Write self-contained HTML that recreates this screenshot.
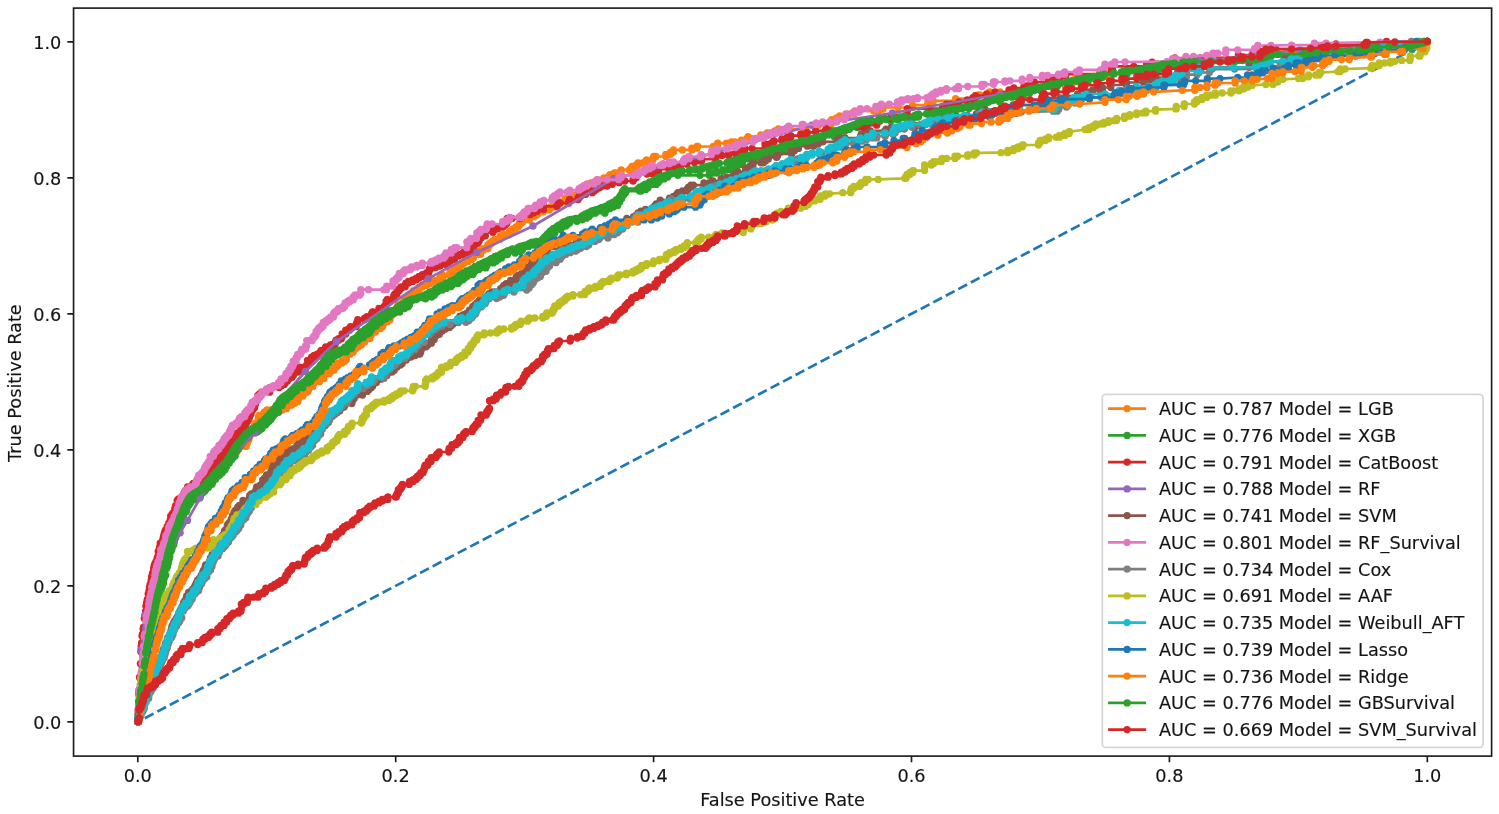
<!DOCTYPE html>
<html lang="en"><head><meta charset="utf-8"><title>ROC curves</title>
<style>html,body{margin:0;padding:0;background:#fff}text{fill:#141414;stroke:#141414;stroke-width:0.15px}svg{display:block;filter:blur(0.55px)}</style></head>
<body>
<svg width="1499" height="814" viewBox="0 0 1499 814" font-family="'DejaVu Sans', 'Liberation Sans', sans-serif" font-size="17.72" fill="#000">
<rect width="1499" height="814" fill="#fff"/>
<defs><clipPath id="ax"><rect x="73.5" y="8.1" width="1418.0" height="748.0"/></clipPath></defs>
<g clip-path="url(#ax)">
<path d="M137.8 721.9L1427.3 41.8" stroke="#1f77b4" stroke-width="2.67" stroke-dasharray="9.88 4.27" stroke-dashoffset="6.25" fill="none"/>
<g><path d="M137.8 721.7L137.8 713.4L138.2 713.4L138.2 711.7L138.6 711.7L138.6 706.7L139 706.7L139 700L139 696.7L139.4 696.7L139.4 695.1L139.8 695.1L139.8 690.1L140.2 690.1L140.2 686.9L140.7 686.9L140.7 685.2L141.1 685.2L141.1 681.9L141.5 681.9L141.5 677L141.5 675.3L142.2 675.3L142.2 666.7L143 666.7L143 661.6L143.4 661.6L143.4 659.9L143.8 659.9L143.8 653L144.5 653L144.5 648L146.1 648L146.1 643L147 643L147 638L147.4 638L147.4 636.3L147.8 636.3L147.8 631.3L148.6 631.3L148.6 628L149 628L149.8 628L149.8 621.1L150.7 621.1L150.7 616L151.9 616L151.9 612.6L153.2 612.6L153.2 609.1L153.6 609.1L153.6 607.4L154 607.4L154 604L154.4 604L154.4 600.6L155.2 600.6L155.2 598.9L155.6 598.9L155.6 593.7L156.4 593.7L156.4 590.3L158 590.3L158 586.9L158.4 586.9L158.4 585.1L158.8 585.1L158.8 583.4L159.6 583.4L159.6 581.7L160 581.7L160 580L160 576.6L160.8 576.6L160.8 573.1L161.6 573.1L161.6 569.7L162.4 569.7L162.4 568L163.2 568L163.2 566.3L163.6 566.3L163.6 564.6L164 564.6L164 562.9L164.8 562.9L164.8 557.7L166 557.7L166 556L166 554.2L166.4 554.2L166.4 552.5L167.2 552.5L167.2 550.8L168 550.8L168 547.2L168.4 547.2L168.4 545.5L169.2 545.5L169.2 543.8L170.1 543.8L170.1 542L170.5 542L170.5 540.2L170.9 540.2L170.9 538.5L171.3 538.5L171.3 536.8L172.5 536.8L172.5 535L173.3 535L173.3 531.5L173.7 531.5L173.7 529.8L174.5 529.8L174.5 528L175.3 528L175.3 526.2L175.7 526.2L175.7 524.5L176.1 524.5L176.1 522.8L176.8 522.8L176.8 521L177.2 521L177.2 519.2L178.4 519.2L178.4 515.8L180 515.8L180 514L180 512.2L181.2 512.2L181.2 510.4L182.4 510.4L182.4 508.7L183.2 508.7L183.2 506.9L186 506.9L186 503.3L186.8 503.3L186.8 498L188 498L188 496.3L188.8 496.3L188.8 494.7L193.6 494.7L193.6 493L195.2 493L195.2 491.3L197.6 491.3L197.6 489.7L198 489.7L198 488L200 488L201.6 488L201.6 486.3L202.8 486.3L202.8 484.6L204 484.6L204 482.9L206.8 482.9L206.8 481.1L209.6 481.1L209.6 479.4L210 479.4L210 477.7L210.8 477.7L210.8 476L212 476L212 472.8L217.1 472.8L217.1 469.5L217.5 469.5L217.5 467.9L219.1 467.9L219.1 466.2L221 466.2L221 464.6L221.8 464.6L221.8 463L223 463L223.8 463L223.8 459.3L227.3 459.3L227.3 457.5L228.1 457.5L228.1 455.7L230.5 455.7L230.5 453.8L233.2 453.8L233.2 452L234 452L236.7 452L236.7 450.1L237.9 450.1L237.9 448.2L238.3 448.2L238.3 446.3L245 446.3L246.2 446.3L246.2 443L247.3 443L247.3 439.8L248.9 439.8L248.9 436.5L249.7 436.5L249.7 434.9L250.4 434.9L250.4 433.3L250.8 433.3L250.8 431.6L251.2 431.6L251.2 430L252 430L252 428.4L254 428.4L254 426.8L254.8 426.8L254.8 423.5L258.1 423.5L258.1 420.3L258.5 420.3L258.5 417L258.9 417L258.9 415.4L260.5 415.4L263.3 415.4L263.3 413.6L264.5 413.6L264.5 411.8L267 411.8L267 410L271 410L282 410L282 408.7L284.8 408.7L286.4 408.7L286.4 406.9L286.8 406.9L286.8 405.1L291.6 405.1L291.6 403.3L294.7 403.3L294.7 401.4L297.9 401.4L297.9 399.6L298.3 399.6L298.3 397.8L299.1 397.8L299.1 396L300.3 396L302.7 396L302.7 394.4L303.5 394.4L303.5 392.8L305.9 392.8L305.9 391.2L308 391.2L308 389.6L308.8 389.6L308.8 388L309.2 388L309.2 386.4L312.8 386.4L312.8 384.8L313.2 384.8L313.2 383.2L314 383.2L314 381.6L319.5 381.6L319.5 380L319.9 380L319.9 378.5L323.8 378.5L323.8 373.7L324.2 373.7L329 373.7L329 371.9L330.2 371.9L330.2 370.2L333.9 370.2L333.9 368.4L334.7 368.4L334.7 366.7L336.7 366.7L336.7 364.9L337.5 364.9L338.3 364.9L338.3 363.1L341.9 363.1L341.9 361.3L344.7 361.3L344.7 359.6L346.3 359.6L346.3 356L346.7 356L346.7 354.2L349.9 354.2L349.9 352.3L353.1 352.3L353.1 350.5L353.6 350.5L353.6 348.7L355.6 348.7L355.6 346.8L358.4 346.8L358.4 345L360 345L361.2 345L361.2 343.4L362 343.4L362 341.8L364.7 341.8L364.7 340.1L365.1 340.1L365.1 338.5L369.9 338.5L369.9 335.2L371.1 335.2L371.1 333.6L371.8 333.6L371.8 332L375 332L375.4 332L375.4 330.2L375.8 330.2L375.8 328.5L380.5 328.5L380.5 326.8L382.5 326.8L382.5 325L382.9 325L382.9 323.2L384.1 323.2L384.1 321.5L387.6 321.5L387.6 319.8L390 319.8L390 318L390.4 318L390.4 314.8L392.4 314.8L392.4 313.1L394.8 313.1L394.8 311.5L396.4 311.5L396.4 309.9L397.2 309.9L397.2 306.6L398.4 306.6L398.4 305L400 305L402 305L402 303.2L403.6 303.2L403.6 301.4L404.4 301.4L404.4 299.6L407.1 299.6L407.1 297.7L410.3 297.7L410.3 294.1L412.7 294.1L413.1 294.1L413.1 292.3L413.5 292.3L413.5 290.6L419.1 290.6L419.1 287.1L422 287.1L422 285.3L426 285.3L427.2 285.3L427.2 283.6L430 283.6L430 282L434 282L434 280.4L439.2 280.4L439.2 278.7L440.8 278.7L440.8 277L443.2 277L443.2 275.3L449.7 275.3L449.7 273.7L450.1 273.7L450.1 272L452.5 272L452.9 272L452.9 270.2L453.3 270.2L453.3 268.5L458.8 268.5L458.8 266.7L460 266.7L460 265L461.9 265L461.9 263.2L463.5 263.2L463.9 263.2L463.9 261.4L468.3 261.4L468.3 259.6L471.8 259.6L471.8 257.9L473.4 257.9L473.4 254.3L479 254.3L480.6 254.3L480.6 250.5L483.3 250.5L483.3 248.7L487.7 248.7L487.7 245L489.7 245L489.7 243.1L492.1 243.1L492.1 241.3L494.5 241.3L494.5 239.4L496.5 239.4L499.7 239.4L499.7 237.6L500.1 237.6L500.1 235.9L502.9 235.9L502.9 234.1L509 234.1L509 232.4L509.8 232.4L509.8 230.6L513 230.6L513 228.8L515.8 228.8L515.8 227L518.2 227L518.2 225.3L519.4 225.3L519.4 223.5L521 223.5L521 221.7L523 221.7L523 220L529.4 220L529.4 216.7L533.9 216.7L533.9 215L536.3 215L536.7 215L536.7 213.4L538.3 213.4L538.3 211.8L543.2 211.8L543.2 210.1L549.2 210.1L549.2 208.5L549.6 208.5L550.4 208.5L550.4 206.8L555.2 206.8L555.2 205.1L558.1 205.1L558.1 203.5L560.1 203.5L560.1 201.8L562.9 201.8L564.9 201.8L564.9 200.2L565.3 200.2L565.3 198.5L571.2 198.5L571.2 196.8L574 196.8L574 195.2L576 195.2L577.6 195.2L577.6 193.4L580.1 193.4L580.1 191.6L585.3 191.6L585.3 189.9L586.2 189.9L586.2 188.1L587.8 188.1L587.8 186.3L589.4 186.3L591 186.3L591 183L596.7 183L596.7 181.3L597.1 181.3L597.1 179.7L602.7 179.7L603.9 179.7L603.9 178L608.7 178L608.7 176.3L610 176.3L610 174.7L614.4 174.7L614.4 173L616 173L620.8 173L620.8 171.4L621.2 171.4L621.2 169.8L629.2 169.8L630.8 169.8L630.8 168.1L632 168.1L632 166.4L636.5 166.4L636.5 164.7L638.1 164.7L638.1 163L642.5 163L646.5 163L646.5 159.8L653 159.8L653 158.1L653.8 158.1L653.8 156.5L655.8 156.5L665.8 156.5L665.8 154.3L669 154.3L670.6 154.3L670.6 152.1L673.4 152.1L673.4 149.9L682.3 149.9L691.8 149.9L691.8 148.2L697 148.2L697 146.5L697.8 146.5L713.3 146.5L716.9 146.5L716.9 144.8L717.7 144.8L717.7 143.2L726.5 143.2L731.4 143.2L731.4 142L735 142L741.4 142L741.4 140.2L746.9 140.2L746.9 138.5L747.7 138.5L748.1 138.5L748.1 136.7L760.8 136.7L760.8 134.8L767.2 134.8L767.2 133L770 133L774.8 133L774.8 131L778.4 131L778.4 129L790 129L805.3 129L805.3 127.1L815.7 127.1L815.7 125.2L818.5 125.2L828.8 125.2L828.8 123.4L831.6 123.4L831.6 119.7L834 119.7L836.4 119.7L836.4 117.9L839.7 117.9L839.7 116L847.8 116L847.8 114.2L849.4 114.2L854.2 114.2L854.2 112.6L855 112.6L855 110.9L873.7 110.9L878.5 110.9L878.5 109.2L882.9 109.2L882.9 107.5L898 107.5L912.7 107.5L912.7 105.2L927.8 105.2L927.8 103L929 103L933 103L933 100.8L955.6 100.8L955.6 98.7L975.2 98.7L975.2 96.8L978.4 96.8L978.4 95L980 95L989.6 95L989.6 92L1000 92L1012 92L1012 89.7L1023.6 89.7L1023.6 87.4L1035.6 87.4L1035.6 85.1L1064.8 85.1L1064.8 82.9L1072.8 82.9L1072.8 80.6L1075.6 80.6L1075.6 78.3L1098 78.3L1098 76L1100 76L1106.8 76L1106.8 73.8L1126 73.8L1126 71.7L1151.6 71.7L1151.6 69.5L1159.2 69.5L1159.2 67.3L1196.4 67.3L1196.4 65.2L1197.2 65.2L1197.2 63L1200 63L1202.8 63L1202.8 60.2L1206.8 60.2L1206.8 57.5L1251.6 57.5L1251.6 54.8L1290.4 54.8L1290.4 52L1300 52L1342.8 52L1342.8 49.4L1355.6 49.4L1355.6 46.8L1404.1 46.8L1404.1 44.1L1411.7 44.1L1411.7 41.5L1427.3 41.5" fill="none" stroke="#ff7f0e" stroke-width="2.67" stroke-linejoin="round" stroke-linecap="square"/>
<path d="M137.8 721.7h0M137.8 713.4h0M138.2 713.4h0M138.2 711.7h0M138.6 711.7h0M138.6 706.7h0M139 706.7h0M139 700h0M139 696.7h0M139.4 696.7h0M139.4 695.1h0M139.8 695.1h0M139.8 690.1h0M140.2 690.1h0M140.2 686.9h0M140.7 686.9h0M140.7 685.2h0M141.1 685.2h0M141.1 681.9h0M141.5 681.9h0M141.5 677h0M141.5 675.3h0M142.2 675.3h0M142.2 666.7h0M143 666.7h0M143 661.6h0M143.4 661.6h0M143.4 659.9h0M143.8 659.9h0M143.8 653h0M144.5 653h0M144.5 648h0M146.1 648h0M146.1 643h0M147 643h0M147 638h0M147.4 638h0M147.4 636.3h0M147.8 636.3h0M147.8 631.3h0M148.6 631.3h0M148.6 628h0M149 628h0M149.8 628h0M149.8 621.1h0M150.7 621.1h0M150.7 616h0M151.9 616h0M151.9 612.6h0M153.2 612.6h0M153.2 609.1h0M153.6 609.1h0M153.6 607.4h0M154 607.4h0M154 604h0M154.4 604h0M154.4 600.6h0M155.2 600.6h0M155.2 598.9h0M155.6 598.9h0M155.6 593.7h0M156.4 593.7h0M156.4 590.3h0M158 590.3h0M158 586.9h0M158.4 586.9h0M158.4 585.1h0M158.8 585.1h0M158.8 583.4h0M159.6 583.4h0M159.6 581.7h0M160 581.7h0M160 580h0M160 576.6h0M160.8 576.6h0M160.8 573.1h0M161.6 573.1h0M161.6 569.7h0M162.4 569.7h0M162.4 568h0M163.2 568h0M163.2 566.3h0M163.6 566.3h0M163.6 564.6h0M164 564.6h0M164 562.9h0M164.8 562.9h0M164.8 557.7h0M166 557.7h0M166 556h0M166 554.2h0M166.4 554.2h0M166.4 552.5h0M167.2 552.5h0M167.2 550.8h0M168 550.8h0M168 547.2h0M168.4 547.2h0M168.4 545.5h0M169.2 545.5h0M169.2 543.8h0M170.1 543.8h0M170.1 542h0M170.5 542h0M170.5 540.2h0M170.9 540.2h0M170.9 538.5h0M171.3 538.5h0M171.3 536.8h0M172.5 536.8h0M172.5 535h0M173.3 535h0M173.3 531.5h0M173.7 531.5h0M173.7 529.8h0M174.5 529.8h0M174.5 528h0M175.3 528h0M175.3 526.2h0M175.7 526.2h0M175.7 524.5h0M176.1 524.5h0M176.1 522.8h0M176.8 522.8h0M176.8 521h0M177.2 521h0M177.2 519.2h0M178.4 519.2h0M178.4 515.8h0M180 515.8h0M180 514h0M180 512.2h0M181.2 512.2h0M181.2 510.4h0M182.4 510.4h0M182.4 508.7h0M183.2 508.7h0M183.2 506.9h0M186 506.9h0M186 503.3h0M186.8 503.3h0M186.8 498h0M188 498h0M188 496.3h0M188.8 496.3h0M188.8 494.7h0M193.6 494.7h0M193.6 493h0M195.2 493h0M195.2 491.3h0M197.6 491.3h0M197.6 489.7h0M198 489.7h0M198 488h0M200 488h0M201.6 488h0M201.6 486.3h0M202.8 486.3h0M202.8 484.6h0M204 484.6h0M204 482.9h0M206.8 482.9h0M206.8 481.1h0M209.6 481.1h0M209.6 479.4h0M210 479.4h0M210 477.7h0M210.8 477.7h0M210.8 476h0M212 476h0M212 472.8h0M217.1 472.8h0M217.1 469.5h0M217.5 469.5h0M217.5 467.9h0M219.1 467.9h0M219.1 466.2h0M221 466.2h0M221 464.6h0M221.8 464.6h0M221.8 463h0M223 463h0M223.8 463h0M223.8 459.3h0M227.3 459.3h0M227.3 457.5h0M228.1 457.5h0M228.1 455.7h0M230.5 455.7h0M230.5 453.8h0M233.2 453.8h0M233.2 452h0M234 452h0M236.7 452h0M236.7 450.1h0M237.9 450.1h0M237.9 448.2h0M238.3 448.2h0M238.3 446.3h0M245 446.3h0M246.2 446.3h0M246.2 443h0M247.3 443h0M247.3 439.8h0M248.9 439.8h0M248.9 436.5h0M249.7 436.5h0M249.7 434.9h0M250.4 434.9h0M250.4 433.3h0M250.8 433.3h0M250.8 431.6h0M251.2 431.6h0M251.2 430h0M252 430h0M252 428.4h0M254 428.4h0M254 426.8h0M254.8 426.8h0M254.8 423.5h0M258.1 423.5h0M258.1 420.3h0M258.5 420.3h0M258.5 417h0M258.9 417h0M258.9 415.4h0M260.5 415.4h0M263.3 415.4h0M263.3 413.6h0M264.5 413.6h0M264.5 411.8h0M267 411.8h0M267 410h0M271 410h0M282 410h0M282 408.7h0M284.8 408.7h0M286.4 408.7h0M286.4 406.9h0M286.8 406.9h0M286.8 405.1h0M291.6 405.1h0M291.6 403.3h0M294.7 403.3h0M294.7 401.4h0M297.9 401.4h0M297.9 399.6h0M298.3 399.6h0M298.3 397.8h0M299.1 397.8h0M299.1 396h0M300.3 396h0M302.7 396h0M302.7 394.4h0M303.5 394.4h0M303.5 392.8h0M305.9 392.8h0M305.9 391.2h0M308 391.2h0M308 389.6h0M308.8 389.6h0M308.8 388h0M309.2 388h0M309.2 386.4h0M312.8 386.4h0M312.8 384.8h0M313.2 384.8h0M313.2 383.2h0M314 383.2h0M314 381.6h0M319.5 381.6h0M319.5 380h0M319.9 380h0M319.9 378.5h0M323.8 378.5h0M323.8 373.7h0M324.2 373.7h0M329 373.7h0M329 371.9h0M330.2 371.9h0M330.2 370.2h0M333.9 370.2h0M333.9 368.4h0M334.7 368.4h0M334.7 366.7h0M336.7 366.7h0M336.7 364.9h0M337.5 364.9h0M338.3 364.9h0M338.3 363.1h0M341.9 363.1h0M341.9 361.3h0M344.7 361.3h0M344.7 359.6h0M346.3 359.6h0M346.3 356h0M346.7 356h0M346.7 354.2h0M349.9 354.2h0M349.9 352.3h0M353.1 352.3h0M353.1 350.5h0M353.6 350.5h0M353.6 348.7h0M355.6 348.7h0M355.6 346.8h0M358.4 346.8h0M358.4 345h0M360 345h0M361.2 345h0M361.2 343.4h0M362 343.4h0M362 341.8h0M364.7 341.8h0M364.7 340.1h0M365.1 340.1h0M365.1 338.5h0M369.9 338.5h0M369.9 335.2h0M371.1 335.2h0M371.1 333.6h0M371.8 333.6h0M371.8 332h0M375 332h0M375.4 332h0M375.4 330.2h0M375.8 330.2h0M375.8 328.5h0M380.5 328.5h0M380.5 326.8h0M382.5 326.8h0M382.5 325h0M382.9 325h0M382.9 323.2h0M384.1 323.2h0M384.1 321.5h0M387.6 321.5h0M387.6 319.8h0M390 319.8h0M390 318h0M390.4 318h0M390.4 314.8h0M392.4 314.8h0M392.4 313.1h0M394.8 313.1h0M394.8 311.5h0M396.4 311.5h0M396.4 309.9h0M397.2 309.9h0M397.2 306.6h0M398.4 306.6h0M398.4 305h0M400 305h0M402 305h0M402 303.2h0M403.6 303.2h0M403.6 301.4h0M404.4 301.4h0M404.4 299.6h0M407.1 299.6h0M407.1 297.7h0M410.3 297.7h0M410.3 294.1h0M412.7 294.1h0M413.1 294.1h0M413.1 292.3h0M413.5 292.3h0M413.5 290.6h0M419.1 290.6h0M419.1 287.1h0M422 287.1h0M422 285.3h0M426 285.3h0M427.2 285.3h0M427.2 283.6h0M430 283.6h0M430 282h0M434 282h0M434 280.4h0M439.2 280.4h0M439.2 278.7h0M440.8 278.7h0M440.8 277h0M443.2 277h0M443.2 275.3h0M449.7 275.3h0M449.7 273.7h0M450.1 273.7h0M450.1 272h0M452.5 272h0M452.9 272h0M452.9 270.2h0M453.3 270.2h0M453.3 268.5h0M458.8 268.5h0M458.8 266.7h0M460 266.7h0M460 265h0M461.9 265h0M461.9 263.2h0M463.5 263.2h0M463.9 263.2h0M463.9 261.4h0M468.3 261.4h0M468.3 259.6h0M471.8 259.6h0M471.8 257.9h0M473.4 257.9h0M473.4 254.3h0M479 254.3h0M480.6 254.3h0M480.6 250.5h0M483.3 250.5h0M483.3 248.7h0M487.7 248.7h0M487.7 245h0M489.7 245h0M489.7 243.1h0M492.1 243.1h0M492.1 241.3h0M494.5 241.3h0M494.5 239.4h0M496.5 239.4h0M499.7 239.4h0M499.7 237.6h0M500.1 237.6h0M500.1 235.9h0M502.9 235.9h0M502.9 234.1h0M509 234.1h0M509 232.4h0M509.8 232.4h0M509.8 230.6h0M513 230.6h0M513 228.8h0M515.8 228.8h0M515.8 227h0M518.2 227h0M518.2 225.3h0M519.4 225.3h0M519.4 223.5h0M521 223.5h0M521 221.7h0M523 221.7h0M523 220h0M529.4 220h0M529.4 216.7h0M533.9 216.7h0M533.9 215h0M536.3 215h0M536.7 215h0M536.7 213.4h0M538.3 213.4h0M538.3 211.8h0M543.2 211.8h0M543.2 210.1h0M549.2 210.1h0M549.2 208.5h0M549.6 208.5h0M550.4 208.5h0M550.4 206.8h0M555.2 206.8h0M555.2 205.1h0M558.1 205.1h0M558.1 203.5h0M560.1 203.5h0M560.1 201.8h0M562.9 201.8h0M564.9 201.8h0M564.9 200.2h0M565.3 200.2h0M565.3 198.5h0M571.2 198.5h0M571.2 196.8h0M574 196.8h0M574 195.2h0M576 195.2h0M577.6 195.2h0M577.6 193.4h0M580.1 193.4h0M580.1 191.6h0M585.3 191.6h0M585.3 189.9h0M586.2 189.9h0M586.2 188.1h0M587.8 188.1h0M587.8 186.3h0M589.4 186.3h0M591 186.3h0M591 183h0M596.7 183h0M596.7 181.3h0M597.1 181.3h0M597.1 179.7h0M602.7 179.7h0M603.9 179.7h0M603.9 178h0M608.7 178h0M608.7 176.3h0M610 176.3h0M610 174.7h0M614.4 174.7h0M614.4 173h0M616 173h0M620.8 173h0M620.8 171.4h0M621.2 171.4h0M621.2 169.8h0M629.2 169.8h0M630.8 169.8h0M630.8 168.1h0M632 168.1h0M632 166.4h0M636.5 166.4h0M636.5 164.7h0M638.1 164.7h0M638.1 163h0M642.5 163h0M646.5 163h0M646.5 159.8h0M653 159.8h0M653 158.1h0M653.8 158.1h0M653.8 156.5h0M655.8 156.5h0M665.8 156.5h0M665.8 154.3h0M669 154.3h0M670.6 154.3h0M670.6 152.1h0M673.4 152.1h0M673.4 149.9h0M682.3 149.9h0M691.8 149.9h0M691.8 148.2h0M697 148.2h0M697 146.5h0M697.8 146.5h0M713.3 146.5h0M716.9 146.5h0M716.9 144.8h0M717.7 144.8h0M717.7 143.2h0M726.5 143.2h0M731.4 143.2h0M731.4 142h0M735 142h0M741.4 142h0M741.4 140.2h0M746.9 140.2h0M746.9 138.5h0M747.7 138.5h0M748.1 138.5h0M748.1 136.7h0M760.8 136.7h0M760.8 134.8h0M767.2 134.8h0M767.2 133h0M770 133h0M774.8 133h0M774.8 131h0M778.4 131h0M778.4 129h0M790 129h0M805.3 129h0M805.3 127.1h0M815.7 127.1h0M815.7 125.2h0M818.5 125.2h0M828.8 125.2h0M828.8 123.4h0M831.6 123.4h0M831.6 119.7h0M834 119.7h0M836.4 119.7h0M836.4 117.9h0M839.7 117.9h0M839.7 116h0M847.8 116h0M847.8 114.2h0M849.4 114.2h0M854.2 114.2h0M854.2 112.6h0M855 112.6h0M855 110.9h0M873.7 110.9h0M878.5 110.9h0M878.5 109.2h0M882.9 109.2h0M882.9 107.5h0M898 107.5h0M912.7 107.5h0M912.7 105.2h0M927.8 105.2h0M927.8 103h0M929 103h0M933 103h0M933 100.8h0M955.6 100.8h0M955.6 98.7h0M975.2 98.7h0M975.2 96.8h0M978.4 96.8h0M978.4 95h0M980 95h0M989.6 95h0M989.6 92h0M1000 92h0M1012 92h0M1012 89.7h0M1023.6 89.7h0M1023.6 87.4h0M1035.6 87.4h0M1035.6 85.1h0M1064.8 85.1h0M1064.8 82.9h0M1072.8 82.9h0M1072.8 80.6h0M1075.6 80.6h0M1075.6 78.3h0M1098 78.3h0M1098 76h0M1100 76h0M1106.8 76h0M1106.8 73.8h0M1126 73.8h0M1126 71.7h0M1151.6 71.7h0M1151.6 69.5h0M1159.2 69.5h0M1159.2 67.3h0M1196.4 67.3h0M1196.4 65.2h0M1197.2 65.2h0M1197.2 63h0M1200 63h0M1202.8 63h0M1202.8 60.2h0M1206.8 60.2h0M1206.8 57.5h0M1251.6 57.5h0M1251.6 54.8h0M1290.4 54.8h0M1290.4 52h0M1300 52h0M1342.8 52h0M1342.8 49.4h0M1355.6 49.4h0M1355.6 46.8h0M1404.1 46.8h0M1404.1 44.1h0M1411.7 44.1h0M1411.7 41.5h0M1427.3 41.5h0" fill="none" stroke="#ff7f0e" stroke-width="7.30" stroke-linecap="round"/>
</g>
<g><path d="M137.8 721.7L138.2 721.7L138.2 718.2L139 718.2L139 714.6L139.4 714.6L139.4 712.8L139.7 712.8L139.7 709.3L140.1 709.3L140.1 705.7L140.5 705.7L140.5 704L141.3 704L141.3 702.2L141.3 698.8L142.1 698.8L142.1 695.4L142.9 695.4L142.9 692L143.3 692L143.3 688.5L143.7 688.5L143.7 685.1L144.1 685.1L144.1 681.7L144.9 681.7L144.9 680L144.9 673L145.7 673L145.7 669.5L146.1 669.5L146.1 667.8L146.6 667.8L146.6 660.8L147.4 660.8L147.4 655.5L147.4 652L149 652L149 648.5L149.4 648.5L149.4 643.2L149.8 643.2L149.8 639.7L151.1 639.7L151.1 637.9L151.5 637.9L151.5 636.2L152.3 636.2L152.3 630.9L152.7 630.9L152.7 627.4L153.1 627.4L153.1 625.6L153.5 625.6L153.5 623.9L153.9 623.9L153.9 622.1L154.3 622.1L154.3 618.6L154.8 618.6L154.8 616.8L155.6 616.8L155.6 613.3L156 613.3L156 611.6L156.4 611.6L156.4 608.1L156.8 608.1L156.8 606.3L157.2 606.3L157.6 606.3L157.6 602.8L158.4 602.8L158.4 601L158.7 601L158.7 597.5L159.5 597.5L159.5 595.8L159.9 595.8L159.9 592.2L160.7 592.2L160.7 588.7L161.5 588.7L161.5 587L162.2 587L162.2 583.5L163.4 583.5L163.4 581.7L163.4 578.4L164.2 578.4L164.2 575.1L165.8 575.1L165.8 568.4L166.6 568.4L166.6 566.8L167.4 566.8L167.4 563.5L168.2 563.5L168.2 561.8L168.6 561.8L168.6 558.5L169 558.5L169.4 558.5L169.4 556.8L169.8 556.8L169.8 551.6L171 551.6L171 549.8L171.8 549.8L171.8 548.1L172.2 548.1L172.2 544.7L173.7 544.7L173.7 542.9L174.1 542.9L174.1 541.2L174.5 541.2L174.5 537.7L175.7 537.7L175.7 536L176.1 536L176.1 534.3L176.9 534.3L176.9 530.8L177.3 530.8L177.3 529.1L178.4 529.1L178.4 525.6L180.4 525.6L180.4 523.9L180.8 523.9L180.8 522.1L181.2 522.1L181.2 520.4L181.9 520.4L181.9 518.7L182.7 518.7L182.7 515.2L183.5 515.2L183.5 513.5L183.9 513.5L183.9 511.8L186.3 511.8L186.3 510L186.7 510L186.7 508.3L187.1 508.3L187.1 506.6L187.6 506.6L187.6 504.9L189.2 504.9L189.2 503.1L190.4 503.1L190.4 501.4L191.2 501.4L191.2 499.7L196.4 499.7L196.4 497.9L197.6 497.9L197.6 496.2L200.5 496.2L200.5 494.4L200.9 494.4L200.9 492.7L202.9 492.7L202.9 490.9L204.5 490.9L204.9 490.9L204.9 489.2L206.1 489.2L206.1 487.6L208.4 487.6L208.4 485.9L209.2 485.9L209.2 484.2L212 484.2L212 482.6L212.7 482.6L212.7 480.9L213.1 480.9L213.1 479.3L215.5 479.3L215.5 477.6L215.9 477.6L215.9 476L218.3 476L218.3 474.4L220.3 474.4L220.3 472.8L222.2 472.8L222.2 471.3L223 471.3L223 469.7L225 469.7L225 466.5L226.6 466.5L226.6 464.7L227.4 464.7L227.4 463L229.3 463L229.3 459.4L231.7 459.4L231.7 457.7L232.9 457.7L232.9 455.9L235.2 455.9L235.2 450.6L237.2 450.6L237.2 448.8L237.6 448.8L238.8 448.8L238.8 447.2L239.6 447.2L239.6 445.5L240.8 445.5L240.8 443.9L241.2 443.9L241.2 442.2L243.2 442.2L243.2 438.9L246.3 438.9L246.3 437.3L248.7 437.3L248.7 435.6L249.5 435.6L249.5 433.8L249.9 433.8L249.9 432L257.2 432L257.2 430.3L259.6 430.3L259.6 428.5L262 428.5L262 426.7L262.4 426.7L262.4 424.9L265.5 424.9L265.5 423L267.1 423L267.1 421.2L269.1 421.2L269.1 419.4L271 419.4L271 417.5L272.2 417.5L272.2 415.7L273 415.7L273.4 415.7L273.4 414L275 414L275 412.3L278.6 412.3L278.6 407.1L278.9 407.1L278.9 405.4L282.1 405.4L282.1 403.6L282.9 403.6L282.9 400.2L284.1 400.2L286.5 400.2L286.5 398.4L287.3 398.4L287.3 396.5L290.5 396.5L290.5 394.7L292.1 394.7L292.1 392.8L293.7 392.8L293.7 391L296.5 391L296.5 389.4L296.9 389.4L296.9 387.8L302.8 387.8L302.8 384.5L303.6 384.5L303.6 382.9L308 382.9L308 381.2L310.8 381.2L310.8 379.6L311.2 379.6L311.2 377.9L312.8 377.9L312.8 376.2L315.3 376.2L315.3 374.6L316.5 374.6L316.5 372.9L317.7 372.9L317.7 371.3L320.9 371.3L320.9 369.6L321.3 369.6L321.3 367.9L322.5 367.9L322.5 366.3L326.1 366.3L326.1 362.9L328.8 362.9L328.8 361.3L329.2 361.3L329.2 359.6L332 359.6L332 358L332.4 358L332.4 356.3L334.8 356.3L334.8 354.8L338.4 354.8L338.4 353.4L340 353.4L340 351.9L345.6 351.9L346.4 351.9L346.4 350.1L347.6 350.1L347.6 348.2L351.5 348.2L351.5 344.6L353.5 344.6L353.5 340.9L356.7 340.9L357.5 340.9L357.5 339.3L359.1 339.3L359.1 337.7L363.1 337.7L363.1 336.1L363.6 336.1L363.6 334.6L366.8 334.6L366.8 333L369.6 333L369.6 331.4L370 331.4L370 329.8L371.6 329.8L371.6 327.9L372.4 327.9L372.4 326.1L376.4 326.1L376.4 322.4L380.4 322.4L380.4 320.5L382.4 320.5L382.4 318.7L383.2 318.7L385.6 318.7L385.6 317.1L388.8 317.1L388.8 315.4L390.1 315.4L390.1 313.8L393.3 313.8L393.3 312.1L396.5 312.1L399.7 312.1L399.7 310.3L400.1 310.3L400.1 308.6L404.6 308.6L404.6 306.8L408.2 306.8L408.2 305.1L409.4 305.1L409.4 303.3L409.8 303.3L409.8 301.8L410.2 301.8L410.2 300.3L412.6 300.3L412.6 298.8L425.2 298.8L425.6 298.8L425.6 297L431.6 297L431.6 295.3L434.3 295.3L434.3 293.5L435.5 293.5L435.5 291.8L437.5 291.8L437.5 290L440.7 290L442.3 290L442.3 288.4L446.3 288.4L446.3 286.7L450.8 286.7L450.8 285.1L452.4 285.1L452.4 283.4L454 283.4L458 283.4L458 281.6L459.6 281.6L459.6 279.8L462.9 279.8L462.9 278.1L464.9 278.1L464.9 276.3L467.3 276.3L467.3 274.5L472.9 274.5L472.9 272.9L473.7 272.9L473.7 271.2L474.9 271.2L474.9 269.6L478.9 269.6L478.9 267.9L480.5 267.9L485.7 267.9L485.7 266.2L486.5 266.2L486.5 264.5L487.4 264.5L487.4 262.9L493.4 262.9L493.4 261.2L493.8 261.2L496.2 261.2L496.2 259.6L498.2 259.6L498.2 257.9L501.5 257.9L501.5 256.3L502.3 256.3L502.3 254.6L507.1 254.6L507.5 254.6L507.5 253.1L515.1 253.1L515.1 251.7L520.3 251.7L520.3 250.2L522.3 250.2L522.3 248.5L523.1 248.5L523.1 246.7L528.4 246.7L528.4 245L533.6 245L536.4 245L536.4 244L542.3 244L544.7 244L544.7 242.2L545.4 242.2L545.4 240.4L547.8 240.4L547.8 238.6L548.6 238.6L548.6 236.7L549.8 236.7L549.8 234.9L552.5 234.9L552.5 233.1L553.3 233.1L554.9 233.1L554.9 229.5L560.9 229.5L560.9 227.8L561.3 227.8L561.3 226L565.7 226L565.7 224.2L566.5 224.2L567.7 224.2L567.7 222.7L569.7 222.7L569.7 221.3L576.9 221.3L576.9 219.8L582.1 219.8L582.1 218.2L586.5 218.2L586.5 216.5L588.9 216.5L588.9 214.8L590.5 214.8L590.5 213.2L595.3 213.2L604.9 213.2L604.9 211.7L605.3 211.7L605.3 210.2L606.1 210.2L606.1 208.7L608.5 208.7L609.7 208.7L609.7 207L613.3 207L613.3 205.4L617.7 205.4L617.7 203.7L618.1 203.7L618.1 202.1L619.7 202.1L619.7 200.3L620.1 200.3L620.1 198.4L621.8 198.4L621.8 196.6L622.2 196.6L622.2 194.8L623.8 194.8L623.8 192.9L625.5 192.9L625.5 191.1L626.3 191.1L639.5 191.1L641.1 191.1L641.1 189.4L645.9 189.4L645.9 187.8L648 187.8L648 186.1L648.8 186.1L648.8 184.4L652.8 184.4L656.3 184.4L656.3 182.6L658.3 182.6L658.3 180.7L659.5 180.7L659.5 178.9L664.2 178.9L664.2 177L664.6 177L667.8 177L667.8 175.3L677.9 175.3L700 175.3L709.3 175.3L709.3 173L713 173L716.7 173L716.7 171.4L722.8 171.4L722.8 169.8L726 169.8L730.4 169.8L730.4 168L736.4 168L736.4 166.3L736.8 166.3L736.8 164.5L740 164.5L740.4 164.5L740.4 162.9L742.4 162.9L742.4 161.2L752 161.2L752 159.6L756.4 159.6L756.4 158L758 158L759.6 158L759.6 156L766.4 156L766.4 154L774 154L774 152L780.8 152L780.8 150.3L786.4 150.3L786.4 147L790 147L795.5 147L795.5 145L795.9 145L795.9 143L805 143L807.8 143L807.8 141L817.2 141L817.2 139L820 139L822.4 139L822.4 137L834.4 137L834.4 135L835.2 135L835.2 133L836 133L839.2 133L839.2 131.2L844.7 131.2L844.7 129.3L849.4 129.3L849.4 127.5L851 127.5L857.4 127.5L857.4 125.2L860.2 125.2L860.2 123L863 123L867.5 123L867.5 121L880 121L890.8 121L890.8 120L898 120L911.2 120L911.2 118.5L912.4 118.5L912.4 117L916 117L918.4 117L918.4 115L933 115L943.4 115L943.4 113L946.2 113L946.2 111L951 111L954.2 111L954.2 108.5L969 108.5L979.3 108.5L979.3 106.2L979.7 106.2L979.7 104L984 104L984.8 104L984.8 101.8L999.6 101.8L999.6 99.5L1000 99.5L1001.2 99.5L1001.2 97.2L1012 97.2L1017.6 97.2L1017.6 95L1023.9 95L1023.9 92.8L1029.8 92.8L1029.8 90.6L1034.2 90.6L1040.6 90.6L1040.6 88.3L1055.5 88.3L1055.5 86L1056.3 86L1057.5 86L1057.5 83.8L1069.4 83.8L1069.4 81.7L1078.5 81.7L1088.1 81.7L1088.1 79.5L1095.4 79.5L1095.4 77.3L1100.6 77.3L1102.6 77.3L1102.6 74L1122.7 74L1127.1 74L1127.1 70.7L1144.8 70.7L1157.9 70.7L1157.9 68.5L1162.6 68.5L1162.6 66.2L1167 66.2L1169 66.2L1169 64L1189 64L1211 63L1233.3 63L1250 62L1257 61.6L1261 61.6L1261 59L1262.2 59L1262.2 56.4L1271 56.4L1308.8 55.5L1326 55.5L1326 53.8L1342 53.8L1342 52L1360.4 52L1373.6 52L1373.6 49.5L1377.6 49.5L1412 49.5L1412 46.8L1418 46.8L1418 44.1L1419.7 44.1L1419.7 41.5L1427.3 41.5" fill="none" stroke="#2ca02c" stroke-width="2.67" stroke-linejoin="round" stroke-linecap="square"/>
<path d="M137.8 721.7h0M138.2 721.7h0M138.2 718.2h0M139 718.2h0M139 714.6h0M139.4 714.6h0M139.4 712.8h0M139.7 712.8h0M139.7 709.3h0M140.1 709.3h0M140.1 705.7h0M140.5 705.7h0M140.5 704h0M141.3 704h0M141.3 702.2h0M141.3 698.8h0M142.1 698.8h0M142.1 695.4h0M142.9 695.4h0M142.9 692h0M143.3 692h0M143.3 688.5h0M143.7 688.5h0M143.7 685.1h0M144.1 685.1h0M144.1 681.7h0M144.9 681.7h0M144.9 680h0M144.9 673h0M145.7 673h0M145.7 669.5h0M146.1 669.5h0M146.1 667.8h0M146.6 667.8h0M146.6 660.8h0M147.4 660.8h0M147.4 655.5h0M147.4 652h0M149 652h0M149 648.5h0M149.4 648.5h0M149.4 643.2h0M149.8 643.2h0M149.8 639.7h0M151.1 639.7h0M151.1 637.9h0M151.5 637.9h0M151.5 636.2h0M152.3 636.2h0M152.3 630.9h0M152.7 630.9h0M152.7 627.4h0M153.1 627.4h0M153.1 625.6h0M153.5 625.6h0M153.5 623.9h0M153.9 623.9h0M153.9 622.1h0M154.3 622.1h0M154.3 618.6h0M154.8 618.6h0M154.8 616.8h0M155.6 616.8h0M155.6 613.3h0M156 613.3h0M156 611.6h0M156.4 611.6h0M156.4 608.1h0M156.8 608.1h0M156.8 606.3h0M157.2 606.3h0M157.6 606.3h0M157.6 602.8h0M158.4 602.8h0M158.4 601h0M158.7 601h0M158.7 597.5h0M159.5 597.5h0M159.5 595.8h0M159.9 595.8h0M159.9 592.2h0M160.7 592.2h0M160.7 588.7h0M161.5 588.7h0M161.5 587h0M162.2 587h0M162.2 583.5h0M163.4 583.5h0M163.4 581.7h0M163.4 578.4h0M164.2 578.4h0M164.2 575.1h0M165.8 575.1h0M165.8 568.4h0M166.6 568.4h0M166.6 566.8h0M167.4 566.8h0M167.4 563.5h0M168.2 563.5h0M168.2 561.8h0M168.6 561.8h0M168.6 558.5h0M169 558.5h0M169.4 558.5h0M169.4 556.8h0M169.8 556.8h0M169.8 551.6h0M171 551.6h0M171 549.8h0M171.8 549.8h0M171.8 548.1h0M172.2 548.1h0M172.2 544.7h0M173.7 544.7h0M173.7 542.9h0M174.1 542.9h0M174.1 541.2h0M174.5 541.2h0M174.5 537.7h0M175.7 537.7h0M175.7 536h0M176.1 536h0M176.1 534.3h0M176.9 534.3h0M176.9 530.8h0M177.3 530.8h0M177.3 529.1h0M178.4 529.1h0M178.4 525.6h0M180.4 525.6h0M180.4 523.9h0M180.8 523.9h0M180.8 522.1h0M181.2 522.1h0M181.2 520.4h0M181.9 520.4h0M181.9 518.7h0M182.7 518.7h0M182.7 515.2h0M183.5 515.2h0M183.5 513.5h0M183.9 513.5h0M183.9 511.8h0M186.3 511.8h0M186.3 510h0M186.7 510h0M186.7 508.3h0M187.1 508.3h0M187.1 506.6h0M187.6 506.6h0M187.6 504.9h0M189.2 504.9h0M189.2 503.1h0M190.4 503.1h0M190.4 501.4h0M191.2 501.4h0M191.2 499.7h0M196.4 499.7h0M196.4 497.9h0M197.6 497.9h0M197.6 496.2h0M200.5 496.2h0M200.5 494.4h0M200.9 494.4h0M200.9 492.7h0M202.9 492.7h0M202.9 490.9h0M204.5 490.9h0M204.9 490.9h0M204.9 489.2h0M206.1 489.2h0M206.1 487.6h0M208.4 487.6h0M208.4 485.9h0M209.2 485.9h0M209.2 484.2h0M212 484.2h0M212 482.6h0M212.7 482.6h0M212.7 480.9h0M213.1 480.9h0M213.1 479.3h0M215.5 479.3h0M215.5 477.6h0M215.9 477.6h0M215.9 476h0M218.3 476h0M218.3 474.4h0M220.3 474.4h0M220.3 472.8h0M222.2 472.8h0M222.2 471.3h0M223 471.3h0M223 469.7h0M225 469.7h0M225 466.5h0M226.6 466.5h0M226.6 464.7h0M227.4 464.7h0M227.4 463h0M229.3 463h0M229.3 459.4h0M231.7 459.4h0M231.7 457.7h0M232.9 457.7h0M232.9 455.9h0M235.2 455.9h0M235.2 450.6h0M237.2 450.6h0M237.2 448.8h0M237.6 448.8h0M238.8 448.8h0M238.8 447.2h0M239.6 447.2h0M239.6 445.5h0M240.8 445.5h0M240.8 443.9h0M241.2 443.9h0M241.2 442.2h0M243.2 442.2h0M243.2 438.9h0M246.3 438.9h0M246.3 437.3h0M248.7 437.3h0M248.7 435.6h0M249.5 435.6h0M249.5 433.8h0M249.9 433.8h0M249.9 432h0M257.2 432h0M257.2 430.3h0M259.6 430.3h0M259.6 428.5h0M262 428.5h0M262 426.7h0M262.4 426.7h0M262.4 424.9h0M265.5 424.9h0M265.5 423h0M267.1 423h0M267.1 421.2h0M269.1 421.2h0M269.1 419.4h0M271 419.4h0M271 417.5h0M272.2 417.5h0M272.2 415.7h0M273 415.7h0M273.4 415.7h0M273.4 414h0M275 414h0M275 412.3h0M278.6 412.3h0M278.6 407.1h0M278.9 407.1h0M278.9 405.4h0M282.1 405.4h0M282.1 403.6h0M282.9 403.6h0M282.9 400.2h0M284.1 400.2h0M286.5 400.2h0M286.5 398.4h0M287.3 398.4h0M287.3 396.5h0M290.5 396.5h0M290.5 394.7h0M292.1 394.7h0M292.1 392.8h0M293.7 392.8h0M293.7 391h0M296.5 391h0M296.5 389.4h0M296.9 389.4h0M296.9 387.8h0M302.8 387.8h0M302.8 384.5h0M303.6 384.5h0M303.6 382.9h0M308 382.9h0M308 381.2h0M310.8 381.2h0M310.8 379.6h0M311.2 379.6h0M311.2 377.9h0M312.8 377.9h0M312.8 376.2h0M315.3 376.2h0M315.3 374.6h0M316.5 374.6h0M316.5 372.9h0M317.7 372.9h0M317.7 371.3h0M320.9 371.3h0M320.9 369.6h0M321.3 369.6h0M321.3 367.9h0M322.5 367.9h0M322.5 366.3h0M326.1 366.3h0M326.1 362.9h0M328.8 362.9h0M328.8 361.3h0M329.2 361.3h0M329.2 359.6h0M332 359.6h0M332 358h0M332.4 358h0M332.4 356.3h0M334.8 356.3h0M334.8 354.8h0M338.4 354.8h0M338.4 353.4h0M340 353.4h0M340 351.9h0M345.6 351.9h0M346.4 351.9h0M346.4 350.1h0M347.6 350.1h0M347.6 348.2h0M351.5 348.2h0M351.5 344.6h0M353.5 344.6h0M353.5 340.9h0M356.7 340.9h0M357.5 340.9h0M357.5 339.3h0M359.1 339.3h0M359.1 337.7h0M363.1 337.7h0M363.1 336.1h0M363.6 336.1h0M363.6 334.6h0M366.8 334.6h0M366.8 333h0M369.6 333h0M369.6 331.4h0M370 331.4h0M370 329.8h0M371.6 329.8h0M371.6 327.9h0M372.4 327.9h0M372.4 326.1h0M376.4 326.1h0M376.4 322.4h0M380.4 322.4h0M380.4 320.5h0M382.4 320.5h0M382.4 318.7h0M383.2 318.7h0M385.6 318.7h0M385.6 317.1h0M388.8 317.1h0M388.8 315.4h0M390.1 315.4h0M390.1 313.8h0M393.3 313.8h0M393.3 312.1h0M396.5 312.1h0M399.7 312.1h0M399.7 310.3h0M400.1 310.3h0M400.1 308.6h0M404.6 308.6h0M404.6 306.8h0M408.2 306.8h0M408.2 305.1h0M409.4 305.1h0M409.4 303.3h0M409.8 303.3h0M409.8 301.8h0M410.2 301.8h0M410.2 300.3h0M412.6 300.3h0M412.6 298.8h0M425.2 298.8h0M425.6 298.8h0M425.6 297h0M431.6 297h0M431.6 295.3h0M434.3 295.3h0M434.3 293.5h0M435.5 293.5h0M435.5 291.8h0M437.5 291.8h0M437.5 290h0M440.7 290h0M442.3 290h0M442.3 288.4h0M446.3 288.4h0M446.3 286.7h0M450.8 286.7h0M450.8 285.1h0M452.4 285.1h0M452.4 283.4h0M454 283.4h0M458 283.4h0M458 281.6h0M459.6 281.6h0M459.6 279.8h0M462.9 279.8h0M462.9 278.1h0M464.9 278.1h0M464.9 276.3h0M467.3 276.3h0M467.3 274.5h0M472.9 274.5h0M472.9 272.9h0M473.7 272.9h0M473.7 271.2h0M474.9 271.2h0M474.9 269.6h0M478.9 269.6h0M478.9 267.9h0M480.5 267.9h0M485.7 267.9h0M485.7 266.2h0M486.5 266.2h0M486.5 264.5h0M487.4 264.5h0M487.4 262.9h0M493.4 262.9h0M493.4 261.2h0M493.8 261.2h0M496.2 261.2h0M496.2 259.6h0M498.2 259.6h0M498.2 257.9h0M501.5 257.9h0M501.5 256.3h0M502.3 256.3h0M502.3 254.6h0M507.1 254.6h0M507.5 254.6h0M507.5 253.1h0M515.1 253.1h0M515.1 251.7h0M520.3 251.7h0M520.3 250.2h0M522.3 250.2h0M522.3 248.5h0M523.1 248.5h0M523.1 246.7h0M528.4 246.7h0M528.4 245h0M533.6 245h0M536.4 245h0M536.4 244h0M542.3 244h0M544.7 244h0M544.7 242.2h0M545.4 242.2h0M545.4 240.4h0M547.8 240.4h0M547.8 238.6h0M548.6 238.6h0M548.6 236.7h0M549.8 236.7h0M549.8 234.9h0M552.5 234.9h0M552.5 233.1h0M553.3 233.1h0M554.9 233.1h0M554.9 229.5h0M560.9 229.5h0M560.9 227.8h0M561.3 227.8h0M561.3 226h0M565.7 226h0M565.7 224.2h0M566.5 224.2h0M567.7 224.2h0M567.7 222.7h0M569.7 222.7h0M569.7 221.3h0M576.9 221.3h0M576.9 219.8h0M582.1 219.8h0M582.1 218.2h0M586.5 218.2h0M586.5 216.5h0M588.9 216.5h0M588.9 214.8h0M590.5 214.8h0M590.5 213.2h0M595.3 213.2h0M604.9 213.2h0M604.9 211.7h0M605.3 211.7h0M605.3 210.2h0M606.1 210.2h0M606.1 208.7h0M608.5 208.7h0M609.7 208.7h0M609.7 207h0M613.3 207h0M613.3 205.4h0M617.7 205.4h0M617.7 203.7h0M618.1 203.7h0M618.1 202.1h0M619.7 202.1h0M619.7 200.3h0M620.1 200.3h0M620.1 198.4h0M621.8 198.4h0M621.8 196.6h0M622.2 196.6h0M622.2 194.8h0M623.8 194.8h0M623.8 192.9h0M625.5 192.9h0M625.5 191.1h0M626.3 191.1h0M639.5 191.1h0M641.1 191.1h0M641.1 189.4h0M645.9 189.4h0M645.9 187.8h0M648 187.8h0M648 186.1h0M648.8 186.1h0M648.8 184.4h0M652.8 184.4h0M656.3 184.4h0M656.3 182.6h0M658.3 182.6h0M658.3 180.7h0M659.5 180.7h0M659.5 178.9h0M664.2 178.9h0M664.2 177h0M664.6 177h0M667.8 177h0M667.8 175.3h0M677.9 175.3h0M700 175.3h0M709.3 175.3h0M709.3 173h0M713 173h0M716.7 173h0M716.7 171.4h0M722.8 171.4h0M722.8 169.8h0M726 169.8h0M730.4 169.8h0M730.4 168h0M736.4 168h0M736.4 166.3h0M736.8 166.3h0M736.8 164.5h0M740 164.5h0M740.4 164.5h0M740.4 162.9h0M742.4 162.9h0M742.4 161.2h0M752 161.2h0M752 159.6h0M756.4 159.6h0M756.4 158h0M758 158h0M759.6 158h0M759.6 156h0M766.4 156h0M766.4 154h0M774 154h0M774 152h0M780.8 152h0M780.8 150.3h0M786.4 150.3h0M786.4 147h0M790 147h0M795.5 147h0M795.5 145h0M795.9 145h0M795.9 143h0M805 143h0M807.8 143h0M807.8 141h0M817.2 141h0M817.2 139h0M820 139h0M822.4 139h0M822.4 137h0M834.4 137h0M834.4 135h0M835.2 135h0M835.2 133h0M836 133h0M839.2 133h0M839.2 131.2h0M844.7 131.2h0M844.7 129.3h0M849.4 129.3h0M849.4 127.5h0M851 127.5h0M857.4 127.5h0M857.4 125.2h0M860.2 125.2h0M860.2 123h0M863 123h0M867.5 123h0M867.5 121h0M880 121h0M890.8 121h0M890.8 120h0M898 120h0M911.2 120h0M911.2 118.5h0M912.4 118.5h0M912.4 117h0M916 117h0M918.4 117h0M918.4 115h0M933 115h0M943.4 115h0M943.4 113h0M946.2 113h0M946.2 111h0M951 111h0M954.2 111h0M954.2 108.5h0M969 108.5h0M979.3 108.5h0M979.3 106.2h0M979.7 106.2h0M979.7 104h0M984 104h0M984.8 104h0M984.8 101.8h0M999.6 101.8h0M999.6 99.5h0M1000 99.5h0M1001.2 99.5h0M1001.2 97.2h0M1012 97.2h0M1017.6 97.2h0M1017.6 95h0M1023.9 95h0M1023.9 92.8h0M1029.8 92.8h0M1029.8 90.6h0M1034.2 90.6h0M1040.6 90.6h0M1040.6 88.3h0M1055.5 88.3h0M1055.5 86h0M1056.3 86h0M1057.5 86h0M1057.5 83.8h0M1069.4 83.8h0M1069.4 81.7h0M1078.5 81.7h0M1088.1 81.7h0M1088.1 79.5h0M1095.4 79.5h0M1095.4 77.3h0M1100.6 77.3h0M1102.6 77.3h0M1102.6 74h0M1122.7 74h0M1127.1 74h0M1127.1 70.7h0M1144.8 70.7h0M1157.9 70.7h0M1157.9 68.5h0M1162.6 68.5h0M1162.6 66.2h0M1167 66.2h0M1169 66.2h0M1169 64h0M1189 64h0M1211 63h0M1233.3 63h0M1250 62h0M1257 61.6h0M1261 61.6h0M1261 59h0M1262.2 59h0M1262.2 56.4h0M1271 56.4h0M1308.8 55.5h0M1326 55.5h0M1326 53.8h0M1342 53.8h0M1342 52h0M1360.4 52h0M1373.6 52h0M1373.6 49.5h0M1377.6 49.5h0M1412 49.5h0M1412 46.8h0M1418 46.8h0M1418 44.1h0M1419.7 44.1h0M1419.7 41.5h0M1427.3 41.5h0" fill="none" stroke="#2ca02c" stroke-width="7.30" stroke-linecap="round"/>
</g>
<g><path d="M137.8 721.7L138.6 721.7L138.6 702L138.6 693.2L139.1 693.2L139.1 691.5L139.5 691.5L139.5 677.5L140.4 677.5L140.4 663.6L140.8 663.6L140.8 651.5L141.2 651.5L141.2 648L141.2 646.3L141.6 646.3L141.6 642.8L142 642.8L142 635.9L142.4 635.9L142.4 634.1L143.1 634.1L143.1 628.9L143.5 628.9L143.5 627.2L144.3 627.2L144.3 618.5L144.7 618.5L144.7 616.8L145.1 616.8L145.1 615L145.5 615L145.5 611.5L145.9 611.5L145.9 606.2L146.6 606.2L146.6 602.8L147 602.8L147 601L147.4 601L147.4 599.2L148.2 599.2L148.2 594L149 594L149 590.6L149.4 590.6L149.4 587.2L149.9 587.2L149.9 585.5L150.3 585.5L150.3 583.8L151.1 583.8L151.1 580.3L151.5 580.3L151.5 576.9L152.4 576.9L152.4 573.5L153.2 573.5L153.2 571.8L153.6 571.8L153.6 568.4L154 568.4L154 566.7L154.4 566.7L154.4 565L155.1 565L155.1 563.3L155.9 563.3L155.9 561.6L157.1 561.6L157.1 558.2L157.8 558.2L157.8 556.5L158.2 556.5L158.2 551.4L159.4 551.4L159.4 549.7L159.4 548.1L159.8 548.1L159.8 546.4L160.2 546.4L160.2 543.1L162.7 543.1L162.7 539.9L163.1 539.9L163.1 538.2L163.5 538.2L163.5 536.6L163.9 536.6L163.9 534.9L164.3 534.9L164.3 533.3L164.8 533.3L164.8 531.6L165.6 531.6L165.6 530L166 530L166.8 530L166.8 528.3L167.2 528.3L167.2 526.5L168.4 526.5L168.4 524.8L168.8 524.8L168.8 523.1L169.9 523.1L169.9 521.3L170.3 521.3L170.3 519.6L170.7 519.6L170.7 516.2L171.9 516.2L171.9 514.4L173.1 514.4L173.1 512.7L173.5 512.7L174.7 512.7L174.7 509.2L175.2 509.2L175.2 507.5L175.6 507.5L175.6 505.7L177.2 505.7L177.2 500.5L178.5 500.5L178.5 498.8L181.3 498.8L181.3 497.1L182.9 497.1L182.9 495.4L183.7 495.4L183.7 493.8L184.4 493.8L184.4 492.1L185.6 492.1L185.6 490.4L187.6 490.4L187.6 487L190 487L192 487L192 485.2L193.2 485.2L193.2 483.5L196.4 483.5L196.4 481.8L198.4 481.8L198.4 480L200 480L202.8 480L202.8 478.2L204.8 478.2L204.8 476.5L206.4 476.5L206.4 474.7L207.6 474.7L207.6 472.9L209.6 472.9L209.6 471.3L210.4 471.3L210.4 469.6L214 469.6L214 466.4L215.2 466.4L215.2 464.8L215.6 464.8L215.6 463.1L217.2 463.1L217.2 461.5L219.2 461.5L219.2 459.9L220 459.9L220 456.6L221.2 456.6L221.2 455L222 455L223.6 455L223.6 453.3L224 453.3L224 451.6L225.2 451.6L225.2 449.9L227.6 449.9L227.6 448.2L228.3 448.2L228.3 446.5L229.1 446.5L229.1 444.8L231.5 444.8L231.5 443.1L231.9 443.1L231.9 441.4L233.9 441.4L233.9 439.7L235.5 439.7L235.5 438L235.9 438L235.9 436.3L237.1 436.3L237.1 434.6L237.5 434.6L237.5 432.9L239.9 432.9L239.9 431.2L241.5 431.2L241.5 429.5L241.8 429.5L241.8 427.8L243.4 427.8L243.4 426.1L245.4 426.1L245.4 422.7L246.6 422.7L246.6 421L247.8 421L247.8 419.3L248.6 419.3L248.6 417.6L249.4 417.6L249.4 414.2L251 414.2L251 410.8L252.2 410.8L252.2 409.1L253.4 409.1L253.4 407.4L254.7 407.4L254.7 404L255.5 404L255.5 402.3L255.9 402.3L255.9 400.6L257.1 400.6L257.1 398.9L257.5 398.9L257.5 397.2L257.9 397.2L257.9 395.5L258.3 395.5L259.5 395.5L259.5 393.9L261.5 393.9L261.5 392.2L269.6 392.2L269.6 390.6L270 390.6L270 389L270 387.5L279.1 387.5L279.1 386.1L281.1 386.1L281.1 384.6L283.5 384.6L284.3 384.6L284.3 382.8L285.5 382.8L285.5 381L287.4 381L287.4 379.2L288.6 379.2L288.6 377.3L292.1 377.3L292.1 375.5L293.3 375.5L293.3 373.7L293.3 372.1L298 372.1L298 370.4L299.6 370.4L299.6 367.1L304.3 367.1L306.3 367.1L306.3 365.4L307.5 365.4L307.5 360.4L311.2 360.4L311.2 358.8L311.6 358.8L311.6 357.1L314 357.1L314 355.5L317.6 355.5L317.6 353.8L320.4 353.8L320.4 352L321.2 352L321.2 350.3L325.3 350.3L325.3 348.5L325.7 348.5L325.7 346.8L330.5 346.8L330.5 345L330.9 345L334.9 345L334.9 343.4L335.3 343.4L335.3 341.8L336.1 341.8L336.1 340.2L338.5 340.2L338.5 338.7L341.3 338.7L341.3 337.1L342.1 337.1L342.1 333.9L344.1 333.9L345.7 333.9L345.7 330.2L349.3 330.2L349.3 328.4L350.5 328.4L350.5 326.6L356.2 326.6L356.2 324.7L356.6 324.7L356.6 322.9L357.4 322.9L357.4 321.3L357.8 321.3L357.8 319.7L364.6 319.7L364.6 318.1L366.9 318.1L366.9 316.6L371.3 316.6L371.3 315L371.7 315L371.7 313.4L372.5 313.4L372.5 311.8L372.9 311.8L378.9 311.8L378.9 308.3L384.1 308.3L384.1 306.5L385.7 306.5L385.7 304.8L386.1 304.8L386.1 303L386.1 301.2L387.3 301.2L387.3 299.4L393.4 299.4L393.4 297.7L393.8 297.7L393.8 295.9L394.6 295.9L394.6 294.1L395 294.1L397 294.1L397 290.4L399.4 290.4L399.4 288.6L401 288.6L401 286.8L405.1 286.8L405.1 284.9L405.9 284.9L405.9 283.1L408.3 283.1L408.3 281.4L412.7 281.4L412.7 279.8L416.3 279.8L416.3 278.1L419.1 278.1L419.1 276.4L421.5 276.4L422.3 276.4L422.3 274.6L426.3 274.6L426.3 272.9L428.8 272.9L428.8 271.1L429.2 271.1L429.2 269.4L430 269.4L430 267.6L434.8 267.6L435.6 267.6L435.6 266L440 266L440 264.3L445.3 264.3L445.3 262.7L448.1 262.7L448.1 261L450.5 261L450.5 259.3L454.5 259.3L454.5 256L458.5 256L458.5 254.3L461.3 254.3L463.3 254.3L463.3 252.5L467.4 252.5L467.4 250.7L471.9 250.7L471.9 248.8L473.1 248.8L473.1 247L473.5 247L473.9 247L473.9 245.1L474.7 245.1L474.7 243.3L477.9 243.3L477.9 241.4L479 241.4L479 239.5L479.8 239.5L479.8 237.7L481.4 237.7L481.4 235.8L483.4 235.8L485.4 235.8L485.4 232.3L492.9 232.3L492.9 230.5L494.1 230.5L494.1 228.8L497.7 228.8L497.7 227L502.9 227L502.9 225.3L504.9 225.3L504.9 223.6L506.8 223.6L506.8 221.8L507.2 221.8L507.2 218.4L512 218.4L520 218.4L520 216.6L522.4 216.6L522.4 214.7L530 214.7L530 212.9L532 212.9L533.6 212.9L533.6 211.2L537.2 211.2L537.2 209.6L543.6 209.6L543.6 206.3L556.8 206.3L556.8 204.6L558 204.6L558 203L560 203L568.8 203L568.8 201.2L569.6 201.2L569.6 199.5L578 199.5L578 197.8L579.2 197.8L579.2 196L580 196L580.8 196L580.8 194.3L585.6 194.3L585.6 192.7L592.3 192.7L592.3 191L594.3 191L594.3 189.3L596.7 189.3L596.7 187.7L599.5 187.7L599.5 186L602.7 186L607.1 186L607.1 184.3L612.3 184.3L612.3 182.7L619.2 182.7L619.2 181L624.8 181L633.1 181L633.1 179.2L633.9 179.2L633.9 177.5L636.3 177.5L636.3 175.8L637.1 175.8L637.1 174L647 174L652.6 174L652.6 172.4L655.4 172.4L655.4 170.8L658.6 170.8L658.6 169.1L669 169.1L669 167.5L675.4 167.5L675.4 165.9L680.5 165.9L680.5 164.2L686.9 164.2L686.9 162.6L694.4 162.6L694.4 161L700 161L701.6 161L701.6 159.1L715.6 159.1L715.6 157.3L716 157.3L716 155.4L722 155.4L728.5 155.4L728.5 153.5L735 153.5L740.3 153.5L740.3 151.8L743.1 151.8L743.1 150.2L744.7 150.2L744.7 148.5L752 148.5L764.9 148.5L764.9 144L769.8 144L772.2 144L772.2 142.3L773.8 142.3L773.8 140.7L781.9 140.7L781.9 139L787.1 139L787.1 137.4L787.5 137.4L790.7 137.4L790.7 135.7L800.8 135.7L800.8 134L805.2 134L807.2 134L807.2 132.4L815.7 132.4L815.7 130.8L825 130.8L826.2 130.8L826.2 128.6L845 128.6L864.2 128.6L864.2 126.9L867 126.9L867 125.2L876.7 125.2L876.7 123L877.5 123L877.5 120.8L879.1 120.8L879.1 118.6L884.8 118.6L891.1 118.6L891.1 116.7L892.7 116.7L892.7 114.9L907 114.9L907 113L907 110.8L907.4 110.8L907.4 108.7L929 108.7L942.6 108.7L942.6 106.5L946.6 106.5L946.6 104.2L951 104.2L959 104.2L959 102L967.3 102L967.3 99.8L972.9 99.8L972.9 97.6L973.3 97.6L975.3 97.6L975.3 95.7L986.6 95.7L986.6 93.9L995 93.9L995 92L1009 92L1009 90L1013.8 90L1013.8 88L1024.2 88L1024.2 86L1029.8 86L1029.8 84L1031 84L1031 82L1034.2 82L1048.6 82L1048.6 80L1055 80L1055 78.1L1060.1 78.1L1060.1 76.1L1065.7 76.1L1065.7 74.2L1078.5 74.2L1100.1 74.2L1100.1 71.6L1111.3 71.6L1111.3 69L1112.5 69L1112.5 66.4L1133.7 66.4L1146.5 66.4L1146.5 64.3L1152.1 64.3L1152.1 62.2L1174 62.2L1174 60.1L1174.8 60.1L1174.8 58L1200 58L1238.4 58L1238.4 55L1253.2 55L1253.2 52L1260 52L1275.6 52L1275.6 49L1316.8 49L1316.8 46L1330 46L1336 46L1336 43.8L1386.5 43.8L1386.5 41.5L1427.3 41.5" fill="none" stroke="#d62728" stroke-width="2.67" stroke-linejoin="round" stroke-linecap="square"/>
<path d="M137.8 721.7h0M138.6 721.7h0M138.6 702h0M138.6 693.2h0M139.1 693.2h0M139.1 691.5h0M139.5 691.5h0M139.5 677.5h0M140.4 677.5h0M140.4 663.6h0M140.8 663.6h0M140.8 651.5h0M141.2 651.5h0M141.2 648h0M141.2 646.3h0M141.6 646.3h0M141.6 642.8h0M142 642.8h0M142 635.9h0M142.4 635.9h0M142.4 634.1h0M143.1 634.1h0M143.1 628.9h0M143.5 628.9h0M143.5 627.2h0M144.3 627.2h0M144.3 618.5h0M144.7 618.5h0M144.7 616.8h0M145.1 616.8h0M145.1 615h0M145.5 615h0M145.5 611.5h0M145.9 611.5h0M145.9 606.2h0M146.6 606.2h0M146.6 602.8h0M147 602.8h0M147 601h0M147.4 601h0M147.4 599.2h0M148.2 599.2h0M148.2 594h0M149 594h0M149 590.6h0M149.4 590.6h0M149.4 587.2h0M149.9 587.2h0M149.9 585.5h0M150.3 585.5h0M150.3 583.8h0M151.1 583.8h0M151.1 580.3h0M151.5 580.3h0M151.5 576.9h0M152.4 576.9h0M152.4 573.5h0M153.2 573.5h0M153.2 571.8h0M153.6 571.8h0M153.6 568.4h0M154 568.4h0M154 566.7h0M154.4 566.7h0M154.4 565h0M155.1 565h0M155.1 563.3h0M155.9 563.3h0M155.9 561.6h0M157.1 561.6h0M157.1 558.2h0M157.8 558.2h0M157.8 556.5h0M158.2 556.5h0M158.2 551.4h0M159.4 551.4h0M159.4 549.7h0M159.4 548.1h0M159.8 548.1h0M159.8 546.4h0M160.2 546.4h0M160.2 543.1h0M162.7 543.1h0M162.7 539.9h0M163.1 539.9h0M163.1 538.2h0M163.5 538.2h0M163.5 536.6h0M163.9 536.6h0M163.9 534.9h0M164.3 534.9h0M164.3 533.3h0M164.8 533.3h0M164.8 531.6h0M165.6 531.6h0M165.6 530h0M166 530h0M166.8 530h0M166.8 528.3h0M167.2 528.3h0M167.2 526.5h0M168.4 526.5h0M168.4 524.8h0M168.8 524.8h0M168.8 523.1h0M169.9 523.1h0M169.9 521.3h0M170.3 521.3h0M170.3 519.6h0M170.7 519.6h0M170.7 516.2h0M171.9 516.2h0M171.9 514.4h0M173.1 514.4h0M173.1 512.7h0M173.5 512.7h0M174.7 512.7h0M174.7 509.2h0M175.2 509.2h0M175.2 507.5h0M175.6 507.5h0M175.6 505.7h0M177.2 505.7h0M177.2 500.5h0M178.5 500.5h0M178.5 498.8h0M181.3 498.8h0M181.3 497.1h0M182.9 497.1h0M182.9 495.4h0M183.7 495.4h0M183.7 493.8h0M184.4 493.8h0M184.4 492.1h0M185.6 492.1h0M185.6 490.4h0M187.6 490.4h0M187.6 487h0M190 487h0M192 487h0M192 485.2h0M193.2 485.2h0M193.2 483.5h0M196.4 483.5h0M196.4 481.8h0M198.4 481.8h0M198.4 480h0M200 480h0M202.8 480h0M202.8 478.2h0M204.8 478.2h0M204.8 476.5h0M206.4 476.5h0M206.4 474.7h0M207.6 474.7h0M207.6 472.9h0M209.6 472.9h0M209.6 471.3h0M210.4 471.3h0M210.4 469.6h0M214 469.6h0M214 466.4h0M215.2 466.4h0M215.2 464.8h0M215.6 464.8h0M215.6 463.1h0M217.2 463.1h0M217.2 461.5h0M219.2 461.5h0M219.2 459.9h0M220 459.9h0M220 456.6h0M221.2 456.6h0M221.2 455h0M222 455h0M223.6 455h0M223.6 453.3h0M224 453.3h0M224 451.6h0M225.2 451.6h0M225.2 449.9h0M227.6 449.9h0M227.6 448.2h0M228.3 448.2h0M228.3 446.5h0M229.1 446.5h0M229.1 444.8h0M231.5 444.8h0M231.5 443.1h0M231.9 443.1h0M231.9 441.4h0M233.9 441.4h0M233.9 439.7h0M235.5 439.7h0M235.5 438h0M235.9 438h0M235.9 436.3h0M237.1 436.3h0M237.1 434.6h0M237.5 434.6h0M237.5 432.9h0M239.9 432.9h0M239.9 431.2h0M241.5 431.2h0M241.5 429.5h0M241.8 429.5h0M241.8 427.8h0M243.4 427.8h0M243.4 426.1h0M245.4 426.1h0M245.4 422.7h0M246.6 422.7h0M246.6 421h0M247.8 421h0M247.8 419.3h0M248.6 419.3h0M248.6 417.6h0M249.4 417.6h0M249.4 414.2h0M251 414.2h0M251 410.8h0M252.2 410.8h0M252.2 409.1h0M253.4 409.1h0M253.4 407.4h0M254.7 407.4h0M254.7 404h0M255.5 404h0M255.5 402.3h0M255.9 402.3h0M255.9 400.6h0M257.1 400.6h0M257.1 398.9h0M257.5 398.9h0M257.5 397.2h0M257.9 397.2h0M257.9 395.5h0M258.3 395.5h0M259.5 395.5h0M259.5 393.9h0M261.5 393.9h0M261.5 392.2h0M269.6 392.2h0M269.6 390.6h0M270 390.6h0M270 389h0M270 387.5h0M279.1 387.5h0M279.1 386.1h0M281.1 386.1h0M281.1 384.6h0M283.5 384.6h0M284.3 384.6h0M284.3 382.8h0M285.5 382.8h0M285.5 381h0M287.4 381h0M287.4 379.2h0M288.6 379.2h0M288.6 377.3h0M292.1 377.3h0M292.1 375.5h0M293.3 375.5h0M293.3 373.7h0M293.3 372.1h0M298 372.1h0M298 370.4h0M299.6 370.4h0M299.6 367.1h0M304.3 367.1h0M306.3 367.1h0M306.3 365.4h0M307.5 365.4h0M307.5 360.4h0M311.2 360.4h0M311.2 358.8h0M311.6 358.8h0M311.6 357.1h0M314 357.1h0M314 355.5h0M317.6 355.5h0M317.6 353.8h0M320.4 353.8h0M320.4 352h0M321.2 352h0M321.2 350.3h0M325.3 350.3h0M325.3 348.5h0M325.7 348.5h0M325.7 346.8h0M330.5 346.8h0M330.5 345h0M330.9 345h0M334.9 345h0M334.9 343.4h0M335.3 343.4h0M335.3 341.8h0M336.1 341.8h0M336.1 340.2h0M338.5 340.2h0M338.5 338.7h0M341.3 338.7h0M341.3 337.1h0M342.1 337.1h0M342.1 333.9h0M344.1 333.9h0M345.7 333.9h0M345.7 330.2h0M349.3 330.2h0M349.3 328.4h0M350.5 328.4h0M350.5 326.6h0M356.2 326.6h0M356.2 324.7h0M356.6 324.7h0M356.6 322.9h0M357.4 322.9h0M357.4 321.3h0M357.8 321.3h0M357.8 319.7h0M364.6 319.7h0M364.6 318.1h0M366.9 318.1h0M366.9 316.6h0M371.3 316.6h0M371.3 315h0M371.7 315h0M371.7 313.4h0M372.5 313.4h0M372.5 311.8h0M372.9 311.8h0M378.9 311.8h0M378.9 308.3h0M384.1 308.3h0M384.1 306.5h0M385.7 306.5h0M385.7 304.8h0M386.1 304.8h0M386.1 303h0M386.1 301.2h0M387.3 301.2h0M387.3 299.4h0M393.4 299.4h0M393.4 297.7h0M393.8 297.7h0M393.8 295.9h0M394.6 295.9h0M394.6 294.1h0M395 294.1h0M397 294.1h0M397 290.4h0M399.4 290.4h0M399.4 288.6h0M401 288.6h0M401 286.8h0M405.1 286.8h0M405.1 284.9h0M405.9 284.9h0M405.9 283.1h0M408.3 283.1h0M408.3 281.4h0M412.7 281.4h0M412.7 279.8h0M416.3 279.8h0M416.3 278.1h0M419.1 278.1h0M419.1 276.4h0M421.5 276.4h0M422.3 276.4h0M422.3 274.6h0M426.3 274.6h0M426.3 272.9h0M428.8 272.9h0M428.8 271.1h0M429.2 271.1h0M429.2 269.4h0M430 269.4h0M430 267.6h0M434.8 267.6h0M435.6 267.6h0M435.6 266h0M440 266h0M440 264.3h0M445.3 264.3h0M445.3 262.7h0M448.1 262.7h0M448.1 261h0M450.5 261h0M450.5 259.3h0M454.5 259.3h0M454.5 256h0M458.5 256h0M458.5 254.3h0M461.3 254.3h0M463.3 254.3h0M463.3 252.5h0M467.4 252.5h0M467.4 250.7h0M471.9 250.7h0M471.9 248.8h0M473.1 248.8h0M473.1 247h0M473.5 247h0M473.9 247h0M473.9 245.1h0M474.7 245.1h0M474.7 243.3h0M477.9 243.3h0M477.9 241.4h0M479 241.4h0M479 239.5h0M479.8 239.5h0M479.8 237.7h0M481.4 237.7h0M481.4 235.8h0M483.4 235.8h0M485.4 235.8h0M485.4 232.3h0M492.9 232.3h0M492.9 230.5h0M494.1 230.5h0M494.1 228.8h0M497.7 228.8h0M497.7 227h0M502.9 227h0M502.9 225.3h0M504.9 225.3h0M504.9 223.6h0M506.8 223.6h0M506.8 221.8h0M507.2 221.8h0M507.2 218.4h0M512 218.4h0M520 218.4h0M520 216.6h0M522.4 216.6h0M522.4 214.7h0M530 214.7h0M530 212.9h0M532 212.9h0M533.6 212.9h0M533.6 211.2h0M537.2 211.2h0M537.2 209.6h0M543.6 209.6h0M543.6 206.3h0M556.8 206.3h0M556.8 204.6h0M558 204.6h0M558 203h0M560 203h0M568.8 203h0M568.8 201.2h0M569.6 201.2h0M569.6 199.5h0M578 199.5h0M578 197.8h0M579.2 197.8h0M579.2 196h0M580 196h0M580.8 196h0M580.8 194.3h0M585.6 194.3h0M585.6 192.7h0M592.3 192.7h0M592.3 191h0M594.3 191h0M594.3 189.3h0M596.7 189.3h0M596.7 187.7h0M599.5 187.7h0M599.5 186h0M602.7 186h0M607.1 186h0M607.1 184.3h0M612.3 184.3h0M612.3 182.7h0M619.2 182.7h0M619.2 181h0M624.8 181h0M633.1 181h0M633.1 179.2h0M633.9 179.2h0M633.9 177.5h0M636.3 177.5h0M636.3 175.8h0M637.1 175.8h0M637.1 174h0M647 174h0M652.6 174h0M652.6 172.4h0M655.4 172.4h0M655.4 170.8h0M658.6 170.8h0M658.6 169.1h0M669 169.1h0M669 167.5h0M675.4 167.5h0M675.4 165.9h0M680.5 165.9h0M680.5 164.2h0M686.9 164.2h0M686.9 162.6h0M694.4 162.6h0M694.4 161h0M700 161h0M701.6 161h0M701.6 159.1h0M715.6 159.1h0M715.6 157.3h0M716 157.3h0M716 155.4h0M722 155.4h0M728.5 155.4h0M728.5 153.5h0M735 153.5h0M740.3 153.5h0M740.3 151.8h0M743.1 151.8h0M743.1 150.2h0M744.7 150.2h0M744.7 148.5h0M752 148.5h0M764.9 148.5h0M764.9 144h0M769.8 144h0M772.2 144h0M772.2 142.3h0M773.8 142.3h0M773.8 140.7h0M781.9 140.7h0M781.9 139h0M787.1 139h0M787.1 137.4h0M787.5 137.4h0M790.7 137.4h0M790.7 135.7h0M800.8 135.7h0M800.8 134h0M805.2 134h0M807.2 134h0M807.2 132.4h0M815.7 132.4h0M815.7 130.8h0M825 130.8h0M826.2 130.8h0M826.2 128.6h0M845 128.6h0M864.2 128.6h0M864.2 126.9h0M867 126.9h0M867 125.2h0M876.7 125.2h0M876.7 123h0M877.5 123h0M877.5 120.8h0M879.1 120.8h0M879.1 118.6h0M884.8 118.6h0M891.1 118.6h0M891.1 116.7h0M892.7 116.7h0M892.7 114.9h0M907 114.9h0M907 113h0M907 110.8h0M907.4 110.8h0M907.4 108.7h0M929 108.7h0M942.6 108.7h0M942.6 106.5h0M946.6 106.5h0M946.6 104.2h0M951 104.2h0M959 104.2h0M959 102h0M967.3 102h0M967.3 99.8h0M972.9 99.8h0M972.9 97.6h0M973.3 97.6h0M975.3 97.6h0M975.3 95.7h0M986.6 95.7h0M986.6 93.9h0M995 93.9h0M995 92h0M1009 92h0M1009 90h0M1013.8 90h0M1013.8 88h0M1024.2 88h0M1024.2 86h0M1029.8 86h0M1029.8 84h0M1031 84h0M1031 82h0M1034.2 82h0M1048.6 82h0M1048.6 80h0M1055 80h0M1055 78.1h0M1060.1 78.1h0M1060.1 76.1h0M1065.7 76.1h0M1065.7 74.2h0M1078.5 74.2h0M1100.1 74.2h0M1100.1 71.6h0M1111.3 71.6h0M1111.3 69h0M1112.5 69h0M1112.5 66.4h0M1133.7 66.4h0M1146.5 66.4h0M1146.5 64.3h0M1152.1 64.3h0M1152.1 62.2h0M1174 62.2h0M1174 60.1h0M1174.8 60.1h0M1174.8 58h0M1200 58h0M1238.4 58h0M1238.4 55h0M1253.2 55h0M1253.2 52h0M1260 52h0M1275.6 52h0M1275.6 49h0M1316.8 49h0M1316.8 46h0M1330 46h0M1336 46h0M1336 43.8h0M1386.5 43.8h0M1386.5 41.5h0M1427.3 41.5h0" fill="none" stroke="#d62728" stroke-width="7.30" stroke-linecap="round"/>
</g>
<g><path d="M137.8 721.7L139 690L141 650L145 615L150 598L158.6 576L180.2 532.8L187.5 520.4L200 498L220 468L255 433L280 400L305.4 371.5L336.4 341.7L428.2 278.7L476.8 252.4L533 226L613.7 178.6L700 157L811.8 125.2L892.5 113L1000 94.3L1100 76L1200 61L1300 50L1427.3 41.5" fill="none" stroke="#9467bd" stroke-width="2.67" stroke-linejoin="round" stroke-linecap="square"/>
<path d="M137.8 721.7h0M139 690h0M141 650h0M145 615h0M150 598h0M158.6 576h0M180.2 532.8h0M187.5 520.4h0M200 498h0M220 468h0M255 433h0M280 400h0M305.4 371.5h0M336.4 341.7h0M428.2 278.7h0M476.8 252.4h0M533 226h0M613.7 178.6h0M700 157h0M811.8 125.2h0M892.5 113h0M1000 94.3h0M1100 76h0M1200 61h0M1300 50h0M1427.3 41.5h0" fill="none" stroke="#9467bd" stroke-width="7.30" stroke-linecap="round"/>
</g>
<g><path d="M137.8 721.7L137.8 718.4L139.4 718.4L139.4 716.7L140.2 716.7L140.2 713.4L140.6 713.4L140.6 711.7L141.4 711.7L141.4 710L142.2 710L142.2 708.3L142.6 708.3L142.6 706.7L143 706.7L143 705L144.2 705L144.2 701.7L145 701.7L145 700L145 698.3L146.2 698.3L146.2 695L147.8 695L147.8 693.3L148.2 693.3L148.2 691.7L148.6 691.7L148.6 690L149 690L149 688.3L149.5 688.3L149.5 686.7L150.7 686.7L150.7 683.3L153.1 683.3L153.1 681.7L153.5 681.7L153.5 680L153.5 678.3L154.3 678.3L154.3 676.6L155.5 676.6L155.5 673.1L156.3 673.1L156.3 671.4L157.2 671.4L157.2 669.7L158 669.7L158 666.2L158.4 666.2L158.4 662.8L159.6 662.8L159.6 661.1L160 661.1L160 659.5L161.6 659.5L161.6 656.2L162 656.2L162 654.6L162.8 654.6L162.8 652.9L163.3 652.9L163.3 649.6L164.5 649.6L164.5 648L165.3 648L165.3 644.7L165.7 644.7L165.7 643L166.5 643L167.3 643L167.3 641.3L167.7 641.3L167.7 637.9L168.9 637.9L168.9 636.2L169.7 636.2L169.7 634.5L170.5 634.5L170.5 632.8L170.9 632.8L170.9 631.1L171.3 631.1L171.3 629.4L171.7 629.4L171.7 627.7L172.1 627.7L172.1 626L173.3 626L173.3 624.4L173.7 624.4L173.7 622.7L174.5 622.7L174.5 621.1L175.8 621.1L175.8 619.4L176.6 619.4L176.6 617.8L177.8 617.8L177.8 616.1L178.6 616.1L178.6 614.5L179 614.5L179 612.8L179.8 612.8L179.8 611.2L180.7 611.2L180.7 609.5L181.5 609.5L181.5 607.9L182.3 607.9L182.3 606.2L183.5 606.2L183.5 602.8L184.7 602.8L184.7 601L185.9 601L185.9 599.3L186.3 599.3L186.3 597.6L186.7 597.6L186.7 595.9L188.6 595.9L188.6 592.4L191.4 592.4L191.4 590.7L193 590.7L193 589L194.2 589L194.2 587.3L195 587.3L195 585.6L195.9 585.6L195.9 583.8L196.7 583.8L196.7 582.1L197.5 582.1L197.5 580.4L199.1 580.4L199.1 578.7L201.2 578.7L201.2 575.2L202.8 575.2L202.8 571.8L203.6 571.8L203.6 570.1L204.8 570.1L204.8 568.3L205.2 568.3L205.2 566.6L205.6 566.6L205.6 564.9L208.9 564.9L208.9 563.2L209.3 563.2L209.3 561.4L210.5 561.4L210.5 558L211.3 558L212.1 558L212.1 554.6L213.3 554.6L213.3 552.9L214.9 552.9L214.9 551.2L215.7 551.2L215.7 549.5L216.1 549.5L216.1 547.8L216.5 547.8L216.5 546.1L218.5 546.1L218.5 544.4L219.3 544.4L219.3 542.7L219.7 542.7L219.7 541L220.5 541L221.3 541L221.3 537.7L222.1 537.7L222.1 536L223.3 536L223.3 534.3L224.5 534.3L224.5 531L225.7 531L225.7 529.3L227.3 529.3L227.3 526L227.7 526L227.7 524.3L229.3 524.3L229.3 522.6L230.9 522.6L230.9 520.8L231.3 520.8L231.3 519.1L232.5 519.1L232.5 515.7L233.7 515.7L233.7 513.9L234.1 513.9L234.1 512.2L235.3 512.2L235.3 510.5L236.1 510.5L237.7 510.5L237.7 507.2L239.3 507.2L239.3 505.5L242.1 505.5L242.1 503.8L243 503.8L243 500.5L249.4 500.5L249.4 497.2L249.8 497.2L249.8 495.5L251.4 495.5L251.4 493.8L255 493.8L255 492L255.8 492L255.8 490.3L256.3 490.3L256.3 488.6L256.7 488.6L256.7 486.9L260.3 486.9L260.3 485.1L262.3 485.1L262.3 483.4L262.7 483.4L262.7 481.7L262.7 480L264.3 480L264.3 478.3L266.6 478.3L266.6 474.8L270.2 474.8L270.2 473.1L271 473.1L271 471.4L271.3 471.4L271.3 466.2L273.7 466.2L274.1 466.2L274.1 464.4L274.9 464.4L274.9 462.5L278.5 462.5L278.5 460.7L280 460.7L280 458.9L281.2 458.9L281.2 457L282 457L282 455.2L284.8 455.2L285.6 455.2L285.6 453.6L286.4 453.6L286.4 452L289.6 452L289.6 450.4L292.5 450.4L292.5 448.9L296.5 448.9L296.5 447.3L296.9 447.3L296.9 445.7L298.1 445.7L298.1 444.1L298.9 444.1L298.9 442.5L302.1 442.5L302.1 440.8L303.7 440.8L303.7 439.2L306.1 439.2L306.1 437.5L306.9 437.5L311.3 437.5L311.3 435.7L313.2 435.7L313.2 433.8L314.4 433.8L314.4 432L318 432L319.6 432L319.6 428.5L320.8 428.5L320.8 426.8L321.6 426.8L321.6 425L324.4 425L324.4 421.5L326.8 421.5L326.8 419.8L329.6 419.8L329.6 418L330 418L330 416.2L332 416.2L332 414.3L334.9 414.3L334.9 412.5L337.3 412.5L337.3 410.7L339.8 410.7L339.8 408.8L340.6 408.8L340.6 407L343 407L344.2 407L344.2 405.3L345 405.3L345 403.6L351.8 403.6L351.8 400.1L353 400.1L353 398.4L354.2 398.4L354.2 396.7L354.6 396.7L354.6 395L357 395L362.5 395L362.5 391.4L367.3 391.4L367.3 389.6L369.2 389.6L369.2 387.8L371.2 387.8L371.2 386L372 386L372.8 386L372.8 384.2L373.2 384.2L373.2 382.5L376.4 382.5L376.4 380.8L377.2 380.8L377.2 379L381.6 379L381.6 377.2L383.6 377.2L383.6 375.5L386.8 375.5L386.8 373.8L387.2 373.8L387.2 372L390 372L392 372L392 370.3L394.3 370.3L394.3 368.6L394.7 368.6L394.7 366.9L397.1 366.9L397.1 365.1L400.3 365.1L400.3 363.4L402.2 363.4L402.2 360L405 360L406.2 360L406.2 358.5L407 358.5L407 357L411 357L411 355.5L415.1 355.5L415.1 354L417.5 354L419.9 354L419.9 352.2L420.7 352.2L420.7 350.4L421.1 350.4L421.1 348.6L421.9 348.6L421.9 346.8L426.2 346.8L426.2 345L427.8 345L427.8 343.2L431.4 343.2L431.4 339.6L434.2 339.6L434.2 336L435 336L435.8 336L435.8 334.3L439.4 334.3L439.4 332.6L440.2 332.6L440.2 330.9L442.2 330.9L442.2 329.2L445 329.2L445 327.6L449.4 327.6L449.4 325.9L451 325.9L451 324.2L453 324.2L453 322.5L455 322.5L458.2 322.5L458.2 320.9L458.7 320.9L458.7 319.3L459.5 319.3L459.5 317.8L459.9 317.8L459.9 316.2L463.5 316.2L463.5 314.6L467.2 314.6L467.2 313L468 313L469.6 313L469.6 309.8L472.4 309.8L472.4 308.1L472.8 308.1L472.8 306.5L474.8 306.5L474.8 304.9L476.8 304.9L476.8 303.2L478.4 303.2L478.4 301.6L479.6 301.6L479.6 300L480 300L482.4 300L482.4 296.8L487.9 296.8L487.9 295.2L489.1 295.2L489.1 293.6L491.8 293.6L491.8 292L495 292L500.2 292L500.2 290.3L500.6 290.3L500.6 288.6L503 288.6L503 287L503.8 287L503.8 285.3L506.2 285.3L506.2 283.6L509.8 283.6L510.2 283.6L510.2 282L510.6 282L510.6 280.3L516.2 280.3L516.2 277L518.1 277L518.1 275.4L521.3 275.4L521.3 273.7L524.1 273.7L524.1 272.1L525.3 272.1L525.3 270.4L526.5 270.4L526.5 266.8L531.2 266.8L531.2 265.1L531.6 265.1L531.6 263.3L535.1 263.3L535.1 261.5L536.3 261.5L539.5 261.5L539.5 259.7L541.9 259.7L541.9 258L543 258L543 256.2L543.4 256.2L543.4 254.5L545 254.5L545 252.7L547.4 252.7L547.8 252.7L547.8 248.8L560.9 248.8L560.9 246.9L562.5 246.9L562.5 245L570 245L576 245L576 243.3L576.4 243.3L576.4 241.6L580.8 241.6L580.8 239.9L583.2 239.9L583.2 238.1L592 238.1L592 234.7L596.8 234.7L596.8 233L600 233L600 231.2L604.4 231.2L604.4 229.4L611.2 229.4L611.2 227.5L614.8 227.5L614.8 225.7L616.8 225.7L616.8 223.9L623.2 223.9L623.2 222.1L626.8 222.1L626.8 218.5L633.6 218.5L633.6 216.6L636.4 216.6L636.4 214.8L638 214.8L638 213L640 213L640.8 213L640.8 211.2L645.5 211.2L645.5 209.4L652.7 209.4L652.7 207.6L654.7 207.6L654.7 205.8L656.2 205.8L656.2 204L660.2 204L660.2 200.1L669.5 200.1L669.5 198.2L673.5 198.2L673.5 196.3L676.6 196.3L676.6 194.5L677.8 194.5L677.8 192.6L682.5 192.6L682.5 190.8L684.5 190.8L687.3 190.8L687.3 188.9L688.5 188.9L688.5 187.1L691 187.1L691 185.2L693.4 185.2L703.9 185.2L703.9 183L708.8 183L712.8 183L712.8 180.8L721.2 180.8L721.2 178.6L722 178.6L727.3 178.6L727.3 177.1L733.4 177.1L733.4 175.5L735 175.5L735 174L738.2 174L738.2 172.1L745.5 172.1L745.5 168.4L749.5 168.4L749.5 166.5L752.7 166.5L752.7 164.7L753.1 164.7L753.1 162.8L761 162.8L763.4 162.8L763.4 161L765.5 161L765.5 159.1L768.3 159.1L768.3 157.3L776.4 157.3L776.8 157.3L776.8 155.7L777.6 155.7L777.6 154L791.6 154L791.6 150.7L792 150.7L794.4 150.7L794.4 148.4L798.5 148.4L798.5 146.2L807.4 146.2L813.4 146.2L813.4 144L818.1 144L818.1 141.8L822.9 141.8L837.4 141.8L837.4 139.9L840.2 139.9L840.2 138L845 138L860.6 138L860.6 136L861.4 136L861.4 134L865 134L869.4 134L869.4 132.4L870.3 132.4L870.3 130.8L884.8 130.8L886 130.8L886 129.1L891.2 129.1L891.2 127.4L902.5 127.4L914.8 127.4L914.8 125.2L920 125.2L935.9 125.2L935.9 123.6L937.1 123.6L937.1 122L937.9 122L947.8 122L947.8 119.7L951 119.7L951.4 119.7L951.4 117.8L956.2 117.8L956.2 115.9L976.4 115.9L976.4 113.9L978.8 113.9L978.8 112L980 112L985.2 112L985.2 109.7L1007.6 109.7L1007.6 107.3L1013.2 107.3L1013.2 105L1020 105L1040 105L1040 102.7L1044.8 102.7L1044.8 100.3L1045.6 100.3L1045.6 98L1060 98L1066 98L1066 96L1077.6 96L1077.6 94L1087.6 94L1087.6 92L1092.8 92L1092.8 90L1100 90L1102.4 90L1102.4 87.5L1110.8 87.5L1110.8 85L1126.4 85L1126.4 82.5L1143.6 82.5L1143.6 80L1150 80L1156 80L1156 77.5L1169.2 77.5L1169.2 75L1177.6 75L1177.6 72.5L1186.4 72.5L1186.4 70L1200 70L1200.8 70L1200.8 67.3L1249.2 67.3L1249.2 64.7L1251.2 64.7L1251.2 62L1260 62L1284 62L1284 59.5L1286.8 59.5L1286.8 57L1305.6 57L1305.6 54.5L1330 54.5L1330 52L1333.6 52L1333.6 49.4L1373.2 49.4L1373.2 46.8L1420.1 46.8L1420.1 44.1L1423.7 44.1L1423.7 41.5L1427.3 41.5" fill="none" stroke="#8c564b" stroke-width="2.67" stroke-linejoin="round" stroke-linecap="square"/>
<path d="M137.8 721.7h0M137.8 718.4h0M139.4 718.4h0M139.4 716.7h0M140.2 716.7h0M140.2 713.4h0M140.6 713.4h0M140.6 711.7h0M141.4 711.7h0M141.4 710h0M142.2 710h0M142.2 708.3h0M142.6 708.3h0M142.6 706.7h0M143 706.7h0M143 705h0M144.2 705h0M144.2 701.7h0M145 701.7h0M145 700h0M145 698.3h0M146.2 698.3h0M146.2 695h0M147.8 695h0M147.8 693.3h0M148.2 693.3h0M148.2 691.7h0M148.6 691.7h0M148.6 690h0M149 690h0M149 688.3h0M149.5 688.3h0M149.5 686.7h0M150.7 686.7h0M150.7 683.3h0M153.1 683.3h0M153.1 681.7h0M153.5 681.7h0M153.5 680h0M153.5 678.3h0M154.3 678.3h0M154.3 676.6h0M155.5 676.6h0M155.5 673.1h0M156.3 673.1h0M156.3 671.4h0M157.2 671.4h0M157.2 669.7h0M158 669.7h0M158 666.2h0M158.4 666.2h0M158.4 662.8h0M159.6 662.8h0M159.6 661.1h0M160 661.1h0M160 659.5h0M161.6 659.5h0M161.6 656.2h0M162 656.2h0M162 654.6h0M162.8 654.6h0M162.8 652.9h0M163.3 652.9h0M163.3 649.6h0M164.5 649.6h0M164.5 648h0M165.3 648h0M165.3 644.7h0M165.7 644.7h0M165.7 643h0M166.5 643h0M167.3 643h0M167.3 641.3h0M167.7 641.3h0M167.7 637.9h0M168.9 637.9h0M168.9 636.2h0M169.7 636.2h0M169.7 634.5h0M170.5 634.5h0M170.5 632.8h0M170.9 632.8h0M170.9 631.1h0M171.3 631.1h0M171.3 629.4h0M171.7 629.4h0M171.7 627.7h0M172.1 627.7h0M172.1 626h0M173.3 626h0M173.3 624.4h0M173.7 624.4h0M173.7 622.7h0M174.5 622.7h0M174.5 621.1h0M175.8 621.1h0M175.8 619.4h0M176.6 619.4h0M176.6 617.8h0M177.8 617.8h0M177.8 616.1h0M178.6 616.1h0M178.6 614.5h0M179 614.5h0M179 612.8h0M179.8 612.8h0M179.8 611.2h0M180.7 611.2h0M180.7 609.5h0M181.5 609.5h0M181.5 607.9h0M182.3 607.9h0M182.3 606.2h0M183.5 606.2h0M183.5 602.8h0M184.7 602.8h0M184.7 601h0M185.9 601h0M185.9 599.3h0M186.3 599.3h0M186.3 597.6h0M186.7 597.6h0M186.7 595.9h0M188.6 595.9h0M188.6 592.4h0M191.4 592.4h0M191.4 590.7h0M193 590.7h0M193 589h0M194.2 589h0M194.2 587.3h0M195 587.3h0M195 585.6h0M195.9 585.6h0M195.9 583.8h0M196.7 583.8h0M196.7 582.1h0M197.5 582.1h0M197.5 580.4h0M199.1 580.4h0M199.1 578.7h0M201.2 578.7h0M201.2 575.2h0M202.8 575.2h0M202.8 571.8h0M203.6 571.8h0M203.6 570.1h0M204.8 570.1h0M204.8 568.3h0M205.2 568.3h0M205.2 566.6h0M205.6 566.6h0M205.6 564.9h0M208.9 564.9h0M208.9 563.2h0M209.3 563.2h0M209.3 561.4h0M210.5 561.4h0M210.5 558h0M211.3 558h0M212.1 558h0M212.1 554.6h0M213.3 554.6h0M213.3 552.9h0M214.9 552.9h0M214.9 551.2h0M215.7 551.2h0M215.7 549.5h0M216.1 549.5h0M216.1 547.8h0M216.5 547.8h0M216.5 546.1h0M218.5 546.1h0M218.5 544.4h0M219.3 544.4h0M219.3 542.7h0M219.7 542.7h0M219.7 541h0M220.5 541h0M221.3 541h0M221.3 537.7h0M222.1 537.7h0M222.1 536h0M223.3 536h0M223.3 534.3h0M224.5 534.3h0M224.5 531h0M225.7 531h0M225.7 529.3h0M227.3 529.3h0M227.3 526h0M227.7 526h0M227.7 524.3h0M229.3 524.3h0M229.3 522.6h0M230.9 522.6h0M230.9 520.8h0M231.3 520.8h0M231.3 519.1h0M232.5 519.1h0M232.5 515.7h0M233.7 515.7h0M233.7 513.9h0M234.1 513.9h0M234.1 512.2h0M235.3 512.2h0M235.3 510.5h0M236.1 510.5h0M237.7 510.5h0M237.7 507.2h0M239.3 507.2h0M239.3 505.5h0M242.1 505.5h0M242.1 503.8h0M243 503.8h0M243 500.5h0M249.4 500.5h0M249.4 497.2h0M249.8 497.2h0M249.8 495.5h0M251.4 495.5h0M251.4 493.8h0M255 493.8h0M255 492h0M255.8 492h0M255.8 490.3h0M256.3 490.3h0M256.3 488.6h0M256.7 488.6h0M256.7 486.9h0M260.3 486.9h0M260.3 485.1h0M262.3 485.1h0M262.3 483.4h0M262.7 483.4h0M262.7 481.7h0M262.7 480h0M264.3 480h0M264.3 478.3h0M266.6 478.3h0M266.6 474.8h0M270.2 474.8h0M270.2 473.1h0M271 473.1h0M271 471.4h0M271.3 471.4h0M271.3 466.2h0M273.7 466.2h0M274.1 466.2h0M274.1 464.4h0M274.9 464.4h0M274.9 462.5h0M278.5 462.5h0M278.5 460.7h0M280 460.7h0M280 458.9h0M281.2 458.9h0M281.2 457h0M282 457h0M282 455.2h0M284.8 455.2h0M285.6 455.2h0M285.6 453.6h0M286.4 453.6h0M286.4 452h0M289.6 452h0M289.6 450.4h0M292.5 450.4h0M292.5 448.9h0M296.5 448.9h0M296.5 447.3h0M296.9 447.3h0M296.9 445.7h0M298.1 445.7h0M298.1 444.1h0M298.9 444.1h0M298.9 442.5h0M302.1 442.5h0M302.1 440.8h0M303.7 440.8h0M303.7 439.2h0M306.1 439.2h0M306.1 437.5h0M306.9 437.5h0M311.3 437.5h0M311.3 435.7h0M313.2 435.7h0M313.2 433.8h0M314.4 433.8h0M314.4 432h0M318 432h0M319.6 432h0M319.6 428.5h0M320.8 428.5h0M320.8 426.8h0M321.6 426.8h0M321.6 425h0M324.4 425h0M324.4 421.5h0M326.8 421.5h0M326.8 419.8h0M329.6 419.8h0M329.6 418h0M330 418h0M330 416.2h0M332 416.2h0M332 414.3h0M334.9 414.3h0M334.9 412.5h0M337.3 412.5h0M337.3 410.7h0M339.8 410.7h0M339.8 408.8h0M340.6 408.8h0M340.6 407h0M343 407h0M344.2 407h0M344.2 405.3h0M345 405.3h0M345 403.6h0M351.8 403.6h0M351.8 400.1h0M353 400.1h0M353 398.4h0M354.2 398.4h0M354.2 396.7h0M354.6 396.7h0M354.6 395h0M357 395h0M362.5 395h0M362.5 391.4h0M367.3 391.4h0M367.3 389.6h0M369.2 389.6h0M369.2 387.8h0M371.2 387.8h0M371.2 386h0M372 386h0M372.8 386h0M372.8 384.2h0M373.2 384.2h0M373.2 382.5h0M376.4 382.5h0M376.4 380.8h0M377.2 380.8h0M377.2 379h0M381.6 379h0M381.6 377.2h0M383.6 377.2h0M383.6 375.5h0M386.8 375.5h0M386.8 373.8h0M387.2 373.8h0M387.2 372h0M390 372h0M392 372h0M392 370.3h0M394.3 370.3h0M394.3 368.6h0M394.7 368.6h0M394.7 366.9h0M397.1 366.9h0M397.1 365.1h0M400.3 365.1h0M400.3 363.4h0M402.2 363.4h0M402.2 360h0M405 360h0M406.2 360h0M406.2 358.5h0M407 358.5h0M407 357h0M411 357h0M411 355.5h0M415.1 355.5h0M415.1 354h0M417.5 354h0M419.9 354h0M419.9 352.2h0M420.7 352.2h0M420.7 350.4h0M421.1 350.4h0M421.1 348.6h0M421.9 348.6h0M421.9 346.8h0M426.2 346.8h0M426.2 345h0M427.8 345h0M427.8 343.2h0M431.4 343.2h0M431.4 339.6h0M434.2 339.6h0M434.2 336h0M435 336h0M435.8 336h0M435.8 334.3h0M439.4 334.3h0M439.4 332.6h0M440.2 332.6h0M440.2 330.9h0M442.2 330.9h0M442.2 329.2h0M445 329.2h0M445 327.6h0M449.4 327.6h0M449.4 325.9h0M451 325.9h0M451 324.2h0M453 324.2h0M453 322.5h0M455 322.5h0M458.2 322.5h0M458.2 320.9h0M458.7 320.9h0M458.7 319.3h0M459.5 319.3h0M459.5 317.8h0M459.9 317.8h0M459.9 316.2h0M463.5 316.2h0M463.5 314.6h0M467.2 314.6h0M467.2 313h0M468 313h0M469.6 313h0M469.6 309.8h0M472.4 309.8h0M472.4 308.1h0M472.8 308.1h0M472.8 306.5h0M474.8 306.5h0M474.8 304.9h0M476.8 304.9h0M476.8 303.2h0M478.4 303.2h0M478.4 301.6h0M479.6 301.6h0M479.6 300h0M480 300h0M482.4 300h0M482.4 296.8h0M487.9 296.8h0M487.9 295.2h0M489.1 295.2h0M489.1 293.6h0M491.8 293.6h0M491.8 292h0M495 292h0M500.2 292h0M500.2 290.3h0M500.6 290.3h0M500.6 288.6h0M503 288.6h0M503 287h0M503.8 287h0M503.8 285.3h0M506.2 285.3h0M506.2 283.6h0M509.8 283.6h0M510.2 283.6h0M510.2 282h0M510.6 282h0M510.6 280.3h0M516.2 280.3h0M516.2 277h0M518.1 277h0M518.1 275.4h0M521.3 275.4h0M521.3 273.7h0M524.1 273.7h0M524.1 272.1h0M525.3 272.1h0M525.3 270.4h0M526.5 270.4h0M526.5 266.8h0M531.2 266.8h0M531.2 265.1h0M531.6 265.1h0M531.6 263.3h0M535.1 263.3h0M535.1 261.5h0M536.3 261.5h0M539.5 261.5h0M539.5 259.7h0M541.9 259.7h0M541.9 258h0M543 258h0M543 256.2h0M543.4 256.2h0M543.4 254.5h0M545 254.5h0M545 252.7h0M547.4 252.7h0M547.8 252.7h0M547.8 248.8h0M560.9 248.8h0M560.9 246.9h0M562.5 246.9h0M562.5 245h0M570 245h0M576 245h0M576 243.3h0M576.4 243.3h0M576.4 241.6h0M580.8 241.6h0M580.8 239.9h0M583.2 239.9h0M583.2 238.1h0M592 238.1h0M592 234.7h0M596.8 234.7h0M596.8 233h0M600 233h0M600 231.2h0M604.4 231.2h0M604.4 229.4h0M611.2 229.4h0M611.2 227.5h0M614.8 227.5h0M614.8 225.7h0M616.8 225.7h0M616.8 223.9h0M623.2 223.9h0M623.2 222.1h0M626.8 222.1h0M626.8 218.5h0M633.6 218.5h0M633.6 216.6h0M636.4 216.6h0M636.4 214.8h0M638 214.8h0M638 213h0M640 213h0M640.8 213h0M640.8 211.2h0M645.5 211.2h0M645.5 209.4h0M652.7 209.4h0M652.7 207.6h0M654.7 207.6h0M654.7 205.8h0M656.2 205.8h0M656.2 204h0M660.2 204h0M660.2 200.1h0M669.5 200.1h0M669.5 198.2h0M673.5 198.2h0M673.5 196.3h0M676.6 196.3h0M676.6 194.5h0M677.8 194.5h0M677.8 192.6h0M682.5 192.6h0M682.5 190.8h0M684.5 190.8h0M687.3 190.8h0M687.3 188.9h0M688.5 188.9h0M688.5 187.1h0M691 187.1h0M691 185.2h0M693.4 185.2h0M703.9 185.2h0M703.9 183h0M708.8 183h0M712.8 183h0M712.8 180.8h0M721.2 180.8h0M721.2 178.6h0M722 178.6h0M727.3 178.6h0M727.3 177.1h0M733.4 177.1h0M733.4 175.5h0M735 175.5h0M735 174h0M738.2 174h0M738.2 172.1h0M745.5 172.1h0M745.5 168.4h0M749.5 168.4h0M749.5 166.5h0M752.7 166.5h0M752.7 164.7h0M753.1 164.7h0M753.1 162.8h0M761 162.8h0M763.4 162.8h0M763.4 161h0M765.5 161h0M765.5 159.1h0M768.3 159.1h0M768.3 157.3h0M776.4 157.3h0M776.8 157.3h0M776.8 155.7h0M777.6 155.7h0M777.6 154h0M791.6 154h0M791.6 150.7h0M792 150.7h0M794.4 150.7h0M794.4 148.4h0M798.5 148.4h0M798.5 146.2h0M807.4 146.2h0M813.4 146.2h0M813.4 144h0M818.1 144h0M818.1 141.8h0M822.9 141.8h0M837.4 141.8h0M837.4 139.9h0M840.2 139.9h0M840.2 138h0M845 138h0M860.6 138h0M860.6 136h0M861.4 136h0M861.4 134h0M865 134h0M869.4 134h0M869.4 132.4h0M870.3 132.4h0M870.3 130.8h0M884.8 130.8h0M886 130.8h0M886 129.1h0M891.2 129.1h0M891.2 127.4h0M902.5 127.4h0M914.8 127.4h0M914.8 125.2h0M920 125.2h0M935.9 125.2h0M935.9 123.6h0M937.1 123.6h0M937.1 122h0M937.9 122h0M947.8 122h0M947.8 119.7h0M951 119.7h0M951.4 119.7h0M951.4 117.8h0M956.2 117.8h0M956.2 115.9h0M976.4 115.9h0M976.4 113.9h0M978.8 113.9h0M978.8 112h0M980 112h0M985.2 112h0M985.2 109.7h0M1007.6 109.7h0M1007.6 107.3h0M1013.2 107.3h0M1013.2 105h0M1020 105h0M1040 105h0M1040 102.7h0M1044.8 102.7h0M1044.8 100.3h0M1045.6 100.3h0M1045.6 98h0M1060 98h0M1066 98h0M1066 96h0M1077.6 96h0M1077.6 94h0M1087.6 94h0M1087.6 92h0M1092.8 92h0M1092.8 90h0M1100 90h0M1102.4 90h0M1102.4 87.5h0M1110.8 87.5h0M1110.8 85h0M1126.4 85h0M1126.4 82.5h0M1143.6 82.5h0M1143.6 80h0M1150 80h0M1156 80h0M1156 77.5h0M1169.2 77.5h0M1169.2 75h0M1177.6 75h0M1177.6 72.5h0M1186.4 72.5h0M1186.4 70h0M1200 70h0M1200.8 70h0M1200.8 67.3h0M1249.2 67.3h0M1249.2 64.7h0M1251.2 64.7h0M1251.2 62h0M1260 62h0M1284 62h0M1284 59.5h0M1286.8 59.5h0M1286.8 57h0M1305.6 57h0M1305.6 54.5h0M1330 54.5h0M1330 52h0M1333.6 52h0M1333.6 49.4h0M1373.2 49.4h0M1373.2 46.8h0M1420.1 46.8h0M1420.1 44.1h0M1423.7 44.1h0M1423.7 41.5h0M1427.3 41.5h0" fill="none" stroke="#8c564b" stroke-width="7.30" stroke-linecap="round"/>
</g>
<g><path d="M137.8 721.7L137.8 709.9L138.6 709.9L138.6 706.6L139 706.6L139 693.2L139.4 693.2L139.4 691.5L139.8 691.5L139.8 689.8L140.2 689.8L140.2 684.8L140.6 684.8L140.6 678.1L141 678.1L141 673.1L141.4 673.1L141.4 671.4L142.2 671.4L142.2 663L142.6 663L142.6 658L143 658L143 654.7L143.4 654.7L143.4 653L143.4 646.3L144.2 646.3L144.2 636.2L144.6 636.2L144.6 634.5L145.9 634.5L145.9 621L146.3 621L146.3 616L147.1 616L147.5 616L147.5 612.6L147.9 612.6L147.9 610.9L148.3 610.9L148.3 609.2L148.7 609.2L148.7 604.2L149.2 604.2L149.2 600.8L150 600.8L150 597.4L150.8 597.4L150.8 594L151.2 594L151.2 592.3L151.6 592.3L151.6 587.2L152.8 587.2L152.8 583.8L153.2 583.8L153.2 582L154.1 582L154.1 580.3L154.5 580.3L154.5 578.6L154.9 578.6L154.9 575.2L155.3 575.2L155.3 571.8L155.7 571.8L155.7 570.1L156.5 570.1L156.5 566.7L157.2 566.7L157.2 565L158 565L158 561.6L159.6 561.6L159.6 558.2L160.3 558.2L160.3 554.8L160.7 554.8L160.7 549.7L161.9 549.7L162.3 549.7L162.3 547.9L163.1 547.9L163.1 546.2L163.5 546.2L163.5 544.4L164 544.4L164 542.6L165.2 542.6L165.2 540.8L165.6 540.8L165.6 537.3L166 537.3L166 535.5L168.1 535.5L168.1 532L168.5 532L168.5 530.2L168.5 528.5L168.9 528.5L168.9 526.8L169.7 526.8L169.7 525.1L171.4 525.1L171.4 523.5L171.8 523.5L171.8 521.8L173 521.8L173 520.1L173.8 520.1L173.8 518.4L174.2 518.4L174.2 516.7L175.9 516.7L175.9 513.4L177.1 513.4L177.1 510L177.5 510L177.5 508.3L178.7 508.3L178.7 504.8L179.1 504.8L179.1 503L180.3 503L180.3 501.2L180.7 501.2L180.7 499.5L181.1 499.5L181.1 497.7L182.8 497.7L182.8 495.9L183.6 495.9L183.6 494.1L184.8 494.1L184.8 492.4L185.2 492.4L185.2 490.6L186.4 490.6L187.6 490.6L187.6 488.8L190.4 488.8L190.4 487L195.1 487L195.1 485.3L195.5 485.3L195.5 483.5L196.3 483.5L196.3 481.7L196.7 481.7L196.7 480.1L197.5 480.1L197.5 478.4L198.7 478.4L198.7 475.1L201.2 475.1L201.2 473.5L202.4 473.5L202.4 471.8L204 471.8L204 470.2L204.4 470.2L204.4 468.5L205.2 468.5L205.2 466.8L206.4 466.8L206.4 465L207.5 465L207.5 463.3L208.7 463.3L208.7 461.5L209.9 461.5L209.9 459.8L210.2 459.8L210.2 456.3L211.8 456.3L213.4 456.3L213.4 452.7L214.6 452.7L214.6 450.9L216.6 450.9L216.6 449.1L218.9 449.1L218.9 445.5L221.3 445.5L221.3 443.7L222.5 443.7L222.5 441.9L222.9 441.9L223.7 441.9L223.7 440.2L224.1 440.2L224.1 438.6L225.7 438.6L225.7 437L226.9 437L226.9 435.3L228.9 435.3L228.9 433.7L229.3 433.7L229.3 432L230.1 432L230.1 430.4L230.9 430.4L230.9 428.7L231.7 428.7L231.7 427L232.5 427L232.5 425.2L235.7 425.2L235.7 423.5L238 423.5L238 421.7L238.8 421.7L238.8 420L239.6 420L239.6 418.2L241.6 418.2L241.6 416.5L242.8 416.5L244.8 416.5L244.8 412.9L246.3 412.9L246.3 411.1L247.9 411.1L247.9 409.3L250.3 409.3L250.3 407.5L250.7 407.5L250.7 405.7L251.8 405.7L251.8 403.9L252.2 403.9L252.2 402.1L253.8 402.1L255 402.1L255 400.5L257.4 400.5L257.4 397.2L260.1 397.2L260.1 395.5L261.3 395.5L261.3 393.9L262.1 393.9L262.1 392.2L264.9 392.2L265.7 392.2L265.7 390.6L266.5 390.6L266.5 388.9L270.5 388.9L270.5 387.3L273.4 387.3L273.4 385.7L278.2 385.7L278.2 384L278.6 384L278.6 382.4L280.2 382.4L281 382.4L281 378.8L284.9 378.8L284.9 376.9L285.7 376.9L285.7 375.1L286.1 375.1L286.1 373.3L288.8 373.3L288.8 371.5L288.8 369.8L290.8 369.8L290.8 366.3L292.8 366.3L292.8 364.6L293.2 364.6L293.2 361.2L296.1 361.2L296.1 357.7L297.3 357.7L297.3 356L297.7 356L297.7 354.3L300.5 354.3L300.5 352.6L301.2 352.6L301.2 350.9L302 350.9L302 349.2L305.6 349.2L305.6 345.7L306.7 345.7L306.7 340.6L308.7 340.6L312.3 340.6L312.3 338.8L313.1 338.8L313.1 337L314.8 337L314.8 335.3L316 335.3L316 331.7L317.6 331.7L317.6 329.9L318.8 329.9L318.8 328L321.2 328L321.2 326.2L323.2 326.2L323.2 322.5L326 322.5L326 320.7L326.4 320.7L328.4 320.7L328.4 318.9L330.4 318.9L330.4 317.1L333.5 317.1L333.5 313.6L334.7 313.6L334.7 311.8L337.5 311.8L337.5 310L338.7 310L338.7 308.3L343.1 308.3L343.1 306.5L344.7 306.5L344.7 304.8L345.1 304.8L345.1 303L346.3 303L347.5 303L347.5 301.4L349.9 301.4L349.9 299.9L353.2 299.9L353.2 296.8L354.8 296.8L354.8 295.2L355.2 295.2L359.6 295.2L359.6 293.4L360.8 293.4L360.8 289.7L368.5 289.7L383.9 289.7L386.3 289.7L386.3 287.9L386.7 287.9L386.7 286.2L392.6 286.2L392.6 284.4L393 284.4L393 280.9L395 280.9L395.8 280.9L395.8 279L397.4 279L397.4 277.2L399.3 277.2L399.3 273.5L403.3 273.5L403.3 271.6L404.8 271.6L404.8 269.8L406 269.8L410 269.8L410 268.3L411.6 268.3L411.6 266.9L416.7 266.9L416.7 265.4L417.1 265.4L422.3 265.4L422.3 263.2L430.4 263.2L431.6 263.2L431.6 261.5L435.6 261.5L435.6 259.8L438.8 259.8L438.8 258.2L443.6 258.2L443.6 256.5L445.2 256.5L445.2 254.7L446 254.7L446 253L451.3 253L451.3 249.5L454.5 249.5L454.5 247.7L456.9 247.7L466.8 247.7L466.8 242L468 242L469.6 242L469.6 240.2L470.8 240.2L470.8 238.4L476.4 238.4L476.4 236.6L476.8 236.6L476.8 233L479.2 233L479.2 231.2L480.8 231.2L480.8 229.4L486 229.4L486 227.6L486.8 227.6L486.8 225.8L487.2 225.8L487.2 224L492 224L502.6 224L502.6 221.7L505.4 221.7L506.2 221.7L506.2 220.2L509.4 220.2L509.4 218.8L509.8 218.8L509.8 217.3L518.7 217.3L521.4 217.3L521.4 215.5L524.2 215.5L524.2 212L526.9 212L526.9 210.3L528.1 210.3L528.1 208.5L529.7 208.5L534.5 208.5L534.5 206.8L535.7 206.8L535.7 205.1L539.8 205.1L539.8 203.5L540.2 203.5L540.2 201.8L543 201.8L543.8 201.8L543.8 200.3L552 200.3L552 198.9L552.4 198.9L552.4 197.4L554 197.4L554.4 197.4L554.4 195.6L557.6 195.6L557.6 193.7L560 193.7L560 191.9L567.3 191.9L569.7 191.9L569.7 190.2L579 190.2L579 188.6L580.6 188.6L581.4 188.6L581.4 187.1L584.2 187.1L584.2 185.5L587 185.5L587 184L593.8 184L594.2 184L594.2 181.8L597.8 181.8L597.8 179.7L607 179.7L618.8 179.7L618.8 177.5L620.4 177.5L621.2 177.5L621.2 175.3L633.6 175.3L638 175.3L638 173.7L639.2 173.7L639.2 172L643.7 172L643.7 170.3L645.7 170.3L645.7 168.7L646.9 168.7L649.7 168.7L649.7 167L652.5 167L652.5 165.3L660.2 165.3L663 165.3L663 163.7L669.5 163.7L669.5 162L673.5 162L683.5 162L683.5 160.3L684.7 160.3L684.7 158.7L686.7 158.7L689.1 158.7L689.1 156.5L700 156.5L701.2 156.5L701.2 154.7L711.3 154.7L711.3 152.8L711.7 152.8L711.7 151L713.3 151L716.9 151L716.9 148.7L726.5 148.7L728.1 148.7L728.1 147.5L735 147.5L735.4 147.5L735.4 145.7L736.6 145.7L736.6 143.8L743.3 143.8L744.1 143.8L744.1 142L752.8 142L752.8 140.1L755.1 140.1L755.1 138.3L758.7 138.3L762.7 138.3L762.7 136.5L765.1 136.5L765.1 134.6L771 134.6L771 132.8L774.2 132.8L777 132.8L777 131.1L781.5 131.1L781.5 129.5L786.7 129.5L786.7 127.8L787.5 127.8L788.7 127.8L788.7 126.2L802.2 126.2L802.2 124.5L803 124.5L816.2 124.5L816.2 123L822.6 123L822.6 122L829.5 122L836.7 122L836.7 119.8L844.2 119.8L844.2 117.5L845 117.5L845.8 117.5L845.8 113.8L853.5 113.8L853.5 112L858.3 112L859.1 112L859.1 110.3L860.3 110.3L860.3 108.7L867 108.7L875.8 108.7L875.8 106.4L878.2 106.4L881.3 106.4L881.3 104.2L889.2 104.2L897.5 104.2L897.5 102L901.5 102L901.5 99.8L904.7 99.8L907.9 99.8L907.9 98.7L913.5 98.7L917.5 98.7L917.5 97.6L926.8 97.6L930.8 97.6L930.8 95.7L932.8 95.7L932.8 93.9L936 93.9L936 92L940 92L940.8 92L940.8 90.3L946.4 90.3L946.4 88.7L955.6 88.7L958.4 88.7L958.4 86.5L967.7 86.5L981.9 86.5L981.9 84.3L984.3 84.3L993.4 84.3L993.4 82L995 82L1004.9 82L1004.9 80.8L1010 80.8L1022.1 80.8L1022.1 79.2L1029.8 79.2L1029.8 77.5L1042.3 77.5L1042.3 75.3L1047.5 75.3L1058.4 75.3L1058.4 74.2L1060.8 74.2L1064.7 74.2L1064.7 72L1076.2 72L1079.4 72L1079.4 69.8L1100.6 69.8L1104.5 69.8L1104.5 67L1104.9 67L1104.9 64.2L1111.6 64.2L1114.8 64.2L1114.8 62L1125 62L1167 61.6L1172.6 61.6L1172.6 58.7L1175.8 58.7L1185.9 58.7L1185.9 56.5L1193.5 56.5L1206.7 55.4L1213 55.4L1213 53.2L1217.8 53.2L1225.8 53.2L1225.8 49.9L1237.7 49.9L1254.6 49.9L1254.6 48.4L1257 48.4L1257.8 48.4L1257.8 45.5L1271 45.5L1291.6 45.2L1314.4 45.2L1314.4 43.2L1326 43.2L1380 42.2L1427.3 41.5" fill="none" stroke="#e377c2" stroke-width="2.67" stroke-linejoin="round" stroke-linecap="square"/>
<path d="M137.8 721.7h0M137.8 709.9h0M138.6 709.9h0M138.6 706.6h0M139 706.6h0M139 693.2h0M139.4 693.2h0M139.4 691.5h0M139.8 691.5h0M139.8 689.8h0M140.2 689.8h0M140.2 684.8h0M140.6 684.8h0M140.6 678.1h0M141 678.1h0M141 673.1h0M141.4 673.1h0M141.4 671.4h0M142.2 671.4h0M142.2 663h0M142.6 663h0M142.6 658h0M143 658h0M143 654.7h0M143.4 654.7h0M143.4 653h0M143.4 646.3h0M144.2 646.3h0M144.2 636.2h0M144.6 636.2h0M144.6 634.5h0M145.9 634.5h0M145.9 621h0M146.3 621h0M146.3 616h0M147.1 616h0M147.5 616h0M147.5 612.6h0M147.9 612.6h0M147.9 610.9h0M148.3 610.9h0M148.3 609.2h0M148.7 609.2h0M148.7 604.2h0M149.2 604.2h0M149.2 600.8h0M150 600.8h0M150 597.4h0M150.8 597.4h0M150.8 594h0M151.2 594h0M151.2 592.3h0M151.6 592.3h0M151.6 587.2h0M152.8 587.2h0M152.8 583.8h0M153.2 583.8h0M153.2 582h0M154.1 582h0M154.1 580.3h0M154.5 580.3h0M154.5 578.6h0M154.9 578.6h0M154.9 575.2h0M155.3 575.2h0M155.3 571.8h0M155.7 571.8h0M155.7 570.1h0M156.5 570.1h0M156.5 566.7h0M157.2 566.7h0M157.2 565h0M158 565h0M158 561.6h0M159.6 561.6h0M159.6 558.2h0M160.3 558.2h0M160.3 554.8h0M160.7 554.8h0M160.7 549.7h0M161.9 549.7h0M162.3 549.7h0M162.3 547.9h0M163.1 547.9h0M163.1 546.2h0M163.5 546.2h0M163.5 544.4h0M164 544.4h0M164 542.6h0M165.2 542.6h0M165.2 540.8h0M165.6 540.8h0M165.6 537.3h0M166 537.3h0M166 535.5h0M168.1 535.5h0M168.1 532h0M168.5 532h0M168.5 530.2h0M168.5 528.5h0M168.9 528.5h0M168.9 526.8h0M169.7 526.8h0M169.7 525.1h0M171.4 525.1h0M171.4 523.5h0M171.8 523.5h0M171.8 521.8h0M173 521.8h0M173 520.1h0M173.8 520.1h0M173.8 518.4h0M174.2 518.4h0M174.2 516.7h0M175.9 516.7h0M175.9 513.4h0M177.1 513.4h0M177.1 510h0M177.5 510h0M177.5 508.3h0M178.7 508.3h0M178.7 504.8h0M179.1 504.8h0M179.1 503h0M180.3 503h0M180.3 501.2h0M180.7 501.2h0M180.7 499.5h0M181.1 499.5h0M181.1 497.7h0M182.8 497.7h0M182.8 495.9h0M183.6 495.9h0M183.6 494.1h0M184.8 494.1h0M184.8 492.4h0M185.2 492.4h0M185.2 490.6h0M186.4 490.6h0M187.6 490.6h0M187.6 488.8h0M190.4 488.8h0M190.4 487h0M195.1 487h0M195.1 485.3h0M195.5 485.3h0M195.5 483.5h0M196.3 483.5h0M196.3 481.7h0M196.7 481.7h0M196.7 480.1h0M197.5 480.1h0M197.5 478.4h0M198.7 478.4h0M198.7 475.1h0M201.2 475.1h0M201.2 473.5h0M202.4 473.5h0M202.4 471.8h0M204 471.8h0M204 470.2h0M204.4 470.2h0M204.4 468.5h0M205.2 468.5h0M205.2 466.8h0M206.4 466.8h0M206.4 465h0M207.5 465h0M207.5 463.3h0M208.7 463.3h0M208.7 461.5h0M209.9 461.5h0M209.9 459.8h0M210.2 459.8h0M210.2 456.3h0M211.8 456.3h0M213.4 456.3h0M213.4 452.7h0M214.6 452.7h0M214.6 450.9h0M216.6 450.9h0M216.6 449.1h0M218.9 449.1h0M218.9 445.5h0M221.3 445.5h0M221.3 443.7h0M222.5 443.7h0M222.5 441.9h0M222.9 441.9h0M223.7 441.9h0M223.7 440.2h0M224.1 440.2h0M224.1 438.6h0M225.7 438.6h0M225.7 437h0M226.9 437h0M226.9 435.3h0M228.9 435.3h0M228.9 433.7h0M229.3 433.7h0M229.3 432h0M230.1 432h0M230.1 430.4h0M230.9 430.4h0M230.9 428.7h0M231.7 428.7h0M231.7 427h0M232.5 427h0M232.5 425.2h0M235.7 425.2h0M235.7 423.5h0M238 423.5h0M238 421.7h0M238.8 421.7h0M238.8 420h0M239.6 420h0M239.6 418.2h0M241.6 418.2h0M241.6 416.5h0M242.8 416.5h0M244.8 416.5h0M244.8 412.9h0M246.3 412.9h0M246.3 411.1h0M247.9 411.1h0M247.9 409.3h0M250.3 409.3h0M250.3 407.5h0M250.7 407.5h0M250.7 405.7h0M251.8 405.7h0M251.8 403.9h0M252.2 403.9h0M252.2 402.1h0M253.8 402.1h0M255 402.1h0M255 400.5h0M257.4 400.5h0M257.4 397.2h0M260.1 397.2h0M260.1 395.5h0M261.3 395.5h0M261.3 393.9h0M262.1 393.9h0M262.1 392.2h0M264.9 392.2h0M265.7 392.2h0M265.7 390.6h0M266.5 390.6h0M266.5 388.9h0M270.5 388.9h0M270.5 387.3h0M273.4 387.3h0M273.4 385.7h0M278.2 385.7h0M278.2 384h0M278.6 384h0M278.6 382.4h0M280.2 382.4h0M281 382.4h0M281 378.8h0M284.9 378.8h0M284.9 376.9h0M285.7 376.9h0M285.7 375.1h0M286.1 375.1h0M286.1 373.3h0M288.8 373.3h0M288.8 371.5h0M288.8 369.8h0M290.8 369.8h0M290.8 366.3h0M292.8 366.3h0M292.8 364.6h0M293.2 364.6h0M293.2 361.2h0M296.1 361.2h0M296.1 357.7h0M297.3 357.7h0M297.3 356h0M297.7 356h0M297.7 354.3h0M300.5 354.3h0M300.5 352.6h0M301.2 352.6h0M301.2 350.9h0M302 350.9h0M302 349.2h0M305.6 349.2h0M305.6 345.7h0M306.7 345.7h0M306.7 340.6h0M308.7 340.6h0M312.3 340.6h0M312.3 338.8h0M313.1 338.8h0M313.1 337h0M314.8 337h0M314.8 335.3h0M316 335.3h0M316 331.7h0M317.6 331.7h0M317.6 329.9h0M318.8 329.9h0M318.8 328h0M321.2 328h0M321.2 326.2h0M323.2 326.2h0M323.2 322.5h0M326 322.5h0M326 320.7h0M326.4 320.7h0M328.4 320.7h0M328.4 318.9h0M330.4 318.9h0M330.4 317.1h0M333.5 317.1h0M333.5 313.6h0M334.7 313.6h0M334.7 311.8h0M337.5 311.8h0M337.5 310h0M338.7 310h0M338.7 308.3h0M343.1 308.3h0M343.1 306.5h0M344.7 306.5h0M344.7 304.8h0M345.1 304.8h0M345.1 303h0M346.3 303h0M347.5 303h0M347.5 301.4h0M349.9 301.4h0M349.9 299.9h0M353.2 299.9h0M353.2 296.8h0M354.8 296.8h0M354.8 295.2h0M355.2 295.2h0M359.6 295.2h0M359.6 293.4h0M360.8 293.4h0M360.8 289.7h0M368.5 289.7h0M383.9 289.7h0M386.3 289.7h0M386.3 287.9h0M386.7 287.9h0M386.7 286.2h0M392.6 286.2h0M392.6 284.4h0M393 284.4h0M393 280.9h0M395 280.9h0M395.8 280.9h0M395.8 279h0M397.4 279h0M397.4 277.2h0M399.3 277.2h0M399.3 273.5h0M403.3 273.5h0M403.3 271.6h0M404.8 271.6h0M404.8 269.8h0M406 269.8h0M410 269.8h0M410 268.3h0M411.6 268.3h0M411.6 266.9h0M416.7 266.9h0M416.7 265.4h0M417.1 265.4h0M422.3 265.4h0M422.3 263.2h0M430.4 263.2h0M431.6 263.2h0M431.6 261.5h0M435.6 261.5h0M435.6 259.8h0M438.8 259.8h0M438.8 258.2h0M443.6 258.2h0M443.6 256.5h0M445.2 256.5h0M445.2 254.7h0M446 254.7h0M446 253h0M451.3 253h0M451.3 249.5h0M454.5 249.5h0M454.5 247.7h0M456.9 247.7h0M466.8 247.7h0M466.8 242h0M468 242h0M469.6 242h0M469.6 240.2h0M470.8 240.2h0M470.8 238.4h0M476.4 238.4h0M476.4 236.6h0M476.8 236.6h0M476.8 233h0M479.2 233h0M479.2 231.2h0M480.8 231.2h0M480.8 229.4h0M486 229.4h0M486 227.6h0M486.8 227.6h0M486.8 225.8h0M487.2 225.8h0M487.2 224h0M492 224h0M502.6 224h0M502.6 221.7h0M505.4 221.7h0M506.2 221.7h0M506.2 220.2h0M509.4 220.2h0M509.4 218.8h0M509.8 218.8h0M509.8 217.3h0M518.7 217.3h0M521.4 217.3h0M521.4 215.5h0M524.2 215.5h0M524.2 212h0M526.9 212h0M526.9 210.3h0M528.1 210.3h0M528.1 208.5h0M529.7 208.5h0M534.5 208.5h0M534.5 206.8h0M535.7 206.8h0M535.7 205.1h0M539.8 205.1h0M539.8 203.5h0M540.2 203.5h0M540.2 201.8h0M543 201.8h0M543.8 201.8h0M543.8 200.3h0M552 200.3h0M552 198.9h0M552.4 198.9h0M552.4 197.4h0M554 197.4h0M554.4 197.4h0M554.4 195.6h0M557.6 195.6h0M557.6 193.7h0M560 193.7h0M560 191.9h0M567.3 191.9h0M569.7 191.9h0M569.7 190.2h0M579 190.2h0M579 188.6h0M580.6 188.6h0M581.4 188.6h0M581.4 187.1h0M584.2 187.1h0M584.2 185.5h0M587 185.5h0M587 184h0M593.8 184h0M594.2 184h0M594.2 181.8h0M597.8 181.8h0M597.8 179.7h0M607 179.7h0M618.8 179.7h0M618.8 177.5h0M620.4 177.5h0M621.2 177.5h0M621.2 175.3h0M633.6 175.3h0M638 175.3h0M638 173.7h0M639.2 173.7h0M639.2 172h0M643.7 172h0M643.7 170.3h0M645.7 170.3h0M645.7 168.7h0M646.9 168.7h0M649.7 168.7h0M649.7 167h0M652.5 167h0M652.5 165.3h0M660.2 165.3h0M663 165.3h0M663 163.7h0M669.5 163.7h0M669.5 162h0M673.5 162h0M683.5 162h0M683.5 160.3h0M684.7 160.3h0M684.7 158.7h0M686.7 158.7h0M689.1 158.7h0M689.1 156.5h0M700 156.5h0M701.2 156.5h0M701.2 154.7h0M711.3 154.7h0M711.3 152.8h0M711.7 152.8h0M711.7 151h0M713.3 151h0M716.9 151h0M716.9 148.7h0M726.5 148.7h0M728.1 148.7h0M728.1 147.5h0M735 147.5h0M735.4 147.5h0M735.4 145.7h0M736.6 145.7h0M736.6 143.8h0M743.3 143.8h0M744.1 143.8h0M744.1 142h0M752.8 142h0M752.8 140.1h0M755.1 140.1h0M755.1 138.3h0M758.7 138.3h0M762.7 138.3h0M762.7 136.5h0M765.1 136.5h0M765.1 134.6h0M771 134.6h0M771 132.8h0M774.2 132.8h0M777 132.8h0M777 131.1h0M781.5 131.1h0M781.5 129.5h0M786.7 129.5h0M786.7 127.8h0M787.5 127.8h0M788.7 127.8h0M788.7 126.2h0M802.2 126.2h0M802.2 124.5h0M803 124.5h0M816.2 124.5h0M816.2 123h0M822.6 123h0M822.6 122h0M829.5 122h0M836.7 122h0M836.7 119.8h0M844.2 119.8h0M844.2 117.5h0M845 117.5h0M845.8 117.5h0M845.8 113.8h0M853.5 113.8h0M853.5 112h0M858.3 112h0M859.1 112h0M859.1 110.3h0M860.3 110.3h0M860.3 108.7h0M867 108.7h0M875.8 108.7h0M875.8 106.4h0M878.2 106.4h0M881.3 106.4h0M881.3 104.2h0M889.2 104.2h0M897.5 104.2h0M897.5 102h0M901.5 102h0M901.5 99.8h0M904.7 99.8h0M907.9 99.8h0M907.9 98.7h0M913.5 98.7h0M917.5 98.7h0M917.5 97.6h0M926.8 97.6h0M930.8 97.6h0M930.8 95.7h0M932.8 95.7h0M932.8 93.9h0M936 93.9h0M936 92h0M940 92h0M940.8 92h0M940.8 90.3h0M946.4 90.3h0M946.4 88.7h0M955.6 88.7h0M958.4 88.7h0M958.4 86.5h0M967.7 86.5h0M981.9 86.5h0M981.9 84.3h0M984.3 84.3h0M993.4 84.3h0M993.4 82h0M995 82h0M1004.9 82h0M1004.9 80.8h0M1010 80.8h0M1022.1 80.8h0M1022.1 79.2h0M1029.8 79.2h0M1029.8 77.5h0M1042.3 77.5h0M1042.3 75.3h0M1047.5 75.3h0M1058.4 75.3h0M1058.4 74.2h0M1060.8 74.2h0M1064.7 74.2h0M1064.7 72h0M1076.2 72h0M1079.4 72h0M1079.4 69.8h0M1100.6 69.8h0M1104.5 69.8h0M1104.5 67h0M1104.9 67h0M1104.9 64.2h0M1111.6 64.2h0M1114.8 64.2h0M1114.8 62h0M1125 62h0M1167 61.6h0M1172.6 61.6h0M1172.6 58.7h0M1175.8 58.7h0M1185.9 58.7h0M1185.9 56.5h0M1193.5 56.5h0M1206.7 55.4h0M1213 55.4h0M1213 53.2h0M1217.8 53.2h0M1225.8 53.2h0M1225.8 49.9h0M1237.7 49.9h0M1254.6 49.9h0M1254.6 48.4h0M1257 48.4h0M1257.8 48.4h0M1257.8 45.5h0M1271 45.5h0M1291.6 45.2h0M1314.4 45.2h0M1314.4 43.2h0M1326 43.2h0M1380 42.2h0M1427.3 41.5h0" fill="none" stroke="#e377c2" stroke-width="7.30" stroke-linecap="round"/>
</g>
<g><path d="M137.8 721.7L137.8 720L139 720L139 716.7L139.8 716.7L139.8 715L141 715L141 713.3L141.4 713.3L141.4 711.7L142.7 711.7L142.7 710L143.5 710L143.5 708.3L144.3 708.3L144.3 705L144.7 705L144.7 701.6L146.3 701.6L146.3 698.3L148.7 698.3L148.7 694.9L149.1 694.9L149.1 691.6L151 691.6L151 689.9L151.4 689.9L151.4 688.3L153 688.3L153 683.3L154.2 683.3L154.2 681.6L154.6 681.6L155.4 681.6L155.4 678.2L155.8 678.2L155.8 676.4L156.2 676.4L156.2 674.7L157.9 674.7L157.9 673L158.3 673L158.3 671.3L159.5 671.3L159.5 667.8L159.9 667.8L159.9 664.4L160.7 664.4L160.7 662.8L161.5 662.8L161.5 661.1L162.3 661.1L162.3 657.8L164.2 657.8L164.2 654.5L165 654.5L165 652.9L165.4 652.9L165.4 651.2L165.8 651.2L165.8 649.6L166.5 649.6L166.5 647.9L167.3 647.9L167.3 644.6L168.1 644.6L168.1 642.9L168.5 642.9L168.5 641.2L169.3 641.2L169.3 639.5L169.7 639.5L169.7 637.8L171.4 637.8L171.4 636.1L172.2 636.1L172.2 634.4L173 634.4L173 631L173.9 631L173.9 629.3L174.7 629.3L174.7 627.6L175.5 627.6L175.5 626L176.7 626L176.7 624.3L177.1 624.3L177.1 622.7L178.6 622.7L178.6 621L179.8 621L179.8 619.4L180.2 619.4L180.2 617.7L181.8 617.7L181.8 611.1L183.3 611.1L183.3 607.8L185.3 607.8L185.3 606.1L187.7 606.1L187.7 604.4L188.8 604.4L188.8 602.6L190 602.6L190 599.2L192 599.2L192 597.5L192.4 597.5L192.4 595.8L192.8 595.8L192.8 594L194.7 594L194.7 592.3L196.3 592.3L196.3 590.6L197.1 590.6L198.7 590.6L198.7 587.2L199.5 587.2L199.5 583.7L201.6 583.7L201.6 582L202.4 582L202.4 580.3L203.2 580.3L203.2 578.6L204.9 578.6L204.9 576.8L206.9 576.8L206.9 573.4L207.3 573.4L207.3 571.7L208.9 571.7L208.9 569.9L210.5 569.9L210.5 566.5L212 566.5L212 563L212.8 563L212.8 561.3L213.6 561.3L213.6 559.6L214.4 559.6L214.4 557.8L215.2 557.8L215.2 556L218.1 556L218.1 552.4L219.3 552.4L219.3 548.8L222.6 548.8L222.6 547L224.2 547L224.2 545.2L225.8 545.2L225.8 543.6L226.6 543.6L226.6 541.9L228.5 541.9L228.5 538.6L230.1 538.6L230.1 537L231.7 537L231.7 535.3L233.2 535.3L233.2 533.7L233.6 533.7L233.6 532L235.2 532L235.6 532L235.6 530.2L237.2 530.2L237.2 528.5L238.8 528.5L238.8 524.9L240.8 524.9L240.8 523.2L241.1 523.2L241.1 521.4L241.9 521.4L241.9 519.6L243.9 519.6L243.9 517.8L245.9 517.8L245.9 514.3L246.3 514.3L247.1 514.3L247.1 512.6L248.3 512.6L248.3 510.9L249.5 510.9L249.5 509.1L249.9 509.1L249.9 507.4L251.5 507.4L251.5 505.7L252.3 505.7L252.3 504L252.7 504L252.7 502.2L253.1 502.2L253.1 500.5L253.5 500.5L253.5 498.8L255.1 498.8L255.5 498.8L255.5 497.2L257.1 497.2L257.1 495.5L263 495.5L263 493.9L266.2 493.9L266.2 492.2L266.2 490.5L267.8 490.5L267.8 488.8L269 488.8L269 487L270.2 487L270.2 485.3L271.8 485.3L271.8 483.6L274.5 483.6L274.5 481.9L274.9 481.9L274.9 478.4L276.1 478.4L276.1 476.7L277.3 476.7L277.3 473.5L280.9 473.5L280.9 471.9L281.3 471.9L281.3 470.4L284.5 470.4L284.5 468.8L284.9 468.8L284.9 467.2L286.1 467.2L286.1 465.6L286.5 465.6L286.5 464L289.7 464L289.7 462.3L290.5 462.3L290.5 460.7L294.1 460.7L294.1 459L294.9 459L297.3 459L297.3 457.2L300.5 457.2L300.5 455.5L304.6 455.5L304.6 453.7L305 453.7L305 452L306.2 452L306.2 450.2L308.2 450.2L308.6 450.2L308.6 446.9L311 446.9L311 445.2L312.6 445.2L312.6 440.2L315.1 440.2L315.1 438.6L317.1 438.6L317.1 436.9L317.5 436.9L317.5 435.3L319.2 435.3L319.2 433.7L320.8 433.7L320.8 430.6L321.2 430.6L321.2 429L322.5 429L322.5 425.8L323.7 425.8L325.3 425.8L325.3 424.2L326.5 424.2L326.5 422.5L328.5 422.5L328.5 420.9L328.9 420.9L328.9 419.2L329.3 419.2L329.3 415.9L332.8 415.9L332.8 414.3L333.6 414.3L333.6 412.6L334.8 412.6L336 412.6L336 409.4L339.2 409.4L339.2 407.7L340 407.7L340 406.1L342.4 406.1L342.4 404.5L343.2 404.5L343.2 402.9L346.8 402.9L346.8 401.2L347.6 401.2L347.6 399.6L348.8 399.6L348.8 395.9L352 395.9L352 394.1L354.3 394.1L354.3 392.3L354.7 392.3L354.7 390.4L357.5 390.4L357.5 388.6L358.7 388.6L363.1 388.6L363.1 387L364.3 387L364.3 385.3L367.6 385.3L367.6 383.7L369.2 383.7L369.2 382L372 382L373.2 382L373.2 380.2L374.4 380.2L374.4 378.4L384 378.4L384 376.7L384.4 376.7L384.4 374.9L385.2 374.9L385.2 373.1L386 373.1L386 371.3L387.6 371.3L387.6 369.4L389.6 369.4L389.6 367.6L391.5 367.6L391.5 365.8L394.3 365.8L394.3 363.9L395.9 363.9L395.9 362.1L396.3 362.1L397.1 362.1L397.1 360.3L399.5 360.3L399.5 358.5L404.8 358.5L404.8 356.8L406.4 356.8L406.4 355L406.8 355L406.8 353.2L409.6 353.2L409.6 351.4L410.8 351.4L410.8 349.5L415.1 349.5L415.1 345.9L417.9 345.9L417.9 344L419.4 344L419.4 342.2L420.6 342.2L424.2 342.2L424.2 334.8L429.3 334.8L429.3 332.9L430.9 332.9L430.9 331.1L431.7 331.1L431.7 329.5L435.2 329.5L435.2 327.8L437.2 327.8L437.2 326.2L441.9 326.2L441.9 324.5L442.7 324.5L449.9 324.5L449.9 322.3L458.2 322.3L465.9 322.3L465.9 320.8L468.7 320.8L468.7 319.3L469.9 319.3L469.9 317.8L471.5 317.8L471.9 317.8L471.9 316L473.1 316L473.1 314.1L475.5 314.1L475.5 312.3L476.3 312.3L476.3 310.5L477.1 310.5L477.1 308.6L477.9 308.6L477.9 306.8L480.3 306.8L481.5 306.8L481.5 305.2L482.3 305.2L482.3 303.5L485.2 303.5L485.2 301.9L486 301.9L486 300.2L486.4 300.2L486.4 298.6L489.3 298.6L496.5 298.6L496.5 297L499.7 297L499.7 295.3L503.6 295.3L503.6 293.7L504.4 293.7L504.4 292L514 292L514 290L526.7 290L526.7 288L527.5 288L529.1 288L529.1 284.7L531.5 284.7L531.5 283.1L533.1 283.1L533.1 281.4L533.9 281.4L533.9 279.8L534.8 279.8L534.8 278.1L537.6 278.1L537.6 276.5L540.4 276.5L540.4 274.8L540.8 274.8L540.8 273L542 273L542 271.3L546 271.3L546 269.5L546.4 269.5L546.4 267.8L547.6 267.8L547.6 266L548 266L549.6 266L549.6 264.3L550 264.3L550 262.7L556 262.7L556 261L556.8 261L556.8 259.3L560.1 259.3L560.1 257.7L560.9 257.7L560.9 256L562.5 256L562.5 254.4L565.7 254.4L565.7 252.7L567.3 252.7L570.1 252.7L570.1 251.2L575.4 251.2L575.4 249.8L577.4 249.8L577.4 248.3L580.6 248.3L580.6 246.6L586.3 246.6L586.3 244.9L588.7 244.9L588.7 241.4L594.7 241.4L594.7 239.7L598.4 239.7L598.4 238L600 238L607.9 238L607.9 236.2L608.7 236.2L608.7 234.5L614.3 234.5L614.3 232.7L617.5 232.7L617.5 230.9L619.1 230.9L619.1 229.1L622.6 229.1L622.6 227.4L623 227.4L623 225.6L626.2 225.6L627 225.6L627 223.8L627.4 223.8L627.4 222L638 222L638 218.4L638.4 218.4L638.4 216.6L641.2 216.6L644.8 216.6L644.8 215L645.2 215L645.2 213.3L651.9 213.3L651.9 211.7L653.1 211.7L653.1 210.1L654.7 210.1L656.3 210.1L656.3 208.4L659.9 208.4L659.9 206.8L663 206.8L663 205.1L665.8 205.1L665.8 203.4L670.2 203.4L671 203.4L671 199L683.5 199L689.9 199L689.9 196.8L696.4 196.8L696.4 194.6L696.8 194.6L702.4 194.6L702.4 192.4L705.2 192.4L705.2 190.2L710 190.2L711.2 190.2L711.2 188.7L712.4 188.7L712.4 187.1L715.2 187.1L715.2 185.6L725.5 185.6L732.2 185.6L732.2 183.6L735.8 183.6L735.8 181.6L736.2 181.6L743.5 181.6L743.5 179.9L745.5 179.9L745.5 176.6L746.7 176.6L749.1 176.6L749.1 174.4L752.7 174.4L752.7 172.2L762.2 172.2L765.8 172.2L765.8 170.6L774.6 170.6L774.6 168.9L775.4 168.9L782.7 168.9L782.7 165.2L787.9 165.2L787.9 163.3L788.7 163.3L796.3 163.3L796.3 161.1L797.4 161.1L797.4 158.9L804.2 158.9L805.8 158.9L805.8 156.7L807 156.7L807 154.5L819.7 154.5L821.7 154.5L821.7 152.7L829.3 152.7L829.3 150.8L831.3 150.8L831.3 149L832.9 149L834.1 149L834.1 147.1L840.6 147.1L840.6 145.3L841.8 145.3L841.8 143.4L846.2 143.4L853.5 143.4L853.5 141.2L859.5 141.2L861.9 141.2L861.9 139.6L866.7 139.6L866.7 137.9L872.7 137.9L876.7 137.9L876.7 136.2L885.2 136.2L885.2 134.6L886 134.6L893.2 134.6L893.2 132.7L895.2 132.7L895.2 130.9L895.6 130.9L895.6 129L899.2 129L904.4 129L904.4 127.3L912.1 127.3L912.1 125.6L912.5 125.6L920.2 125.6L920.2 124.6L925.8 124.6L931.8 124.6L931.8 120.2L939.1 120.2L942.3 120.2L942.3 119.1L952.2 119.1L962.4 119.1L962.4 116.9L965.6 116.9L967.2 116.9L967.2 115.2L979.2 115.2L979.2 113.6L991.2 113.6L1016 113.6L1016 112.1L1021.2 112.1L1053.2 111.2L1057.2 111.2L1057.2 109.2L1058.8 109.2L1058.8 107.1L1066.5 107.1L1066.5 105.1L1066.9 105.1L1066.9 103.1L1074.9 103.1L1074.9 101L1076.9 101L1076.9 99L1079.7 99L1082.1 99L1082.1 97.3L1101 97.3L1101 95.6L1106.2 95.6L1125.9 95.6L1125.9 92.9L1129.9 92.9L1129.9 90.2L1132.7 90.2L1146.6 90.2L1146.6 87.9L1150.2 87.9L1155.8 87.9L1155.8 85.1L1160.6 85.1L1160.6 82.4L1168.2 82.4L1173.1 82.4L1173.1 79.6L1180.8 79.6L1180.8 76.9L1181.2 76.9L1186.4 76.9L1186.4 74.7L1197.1 74.7L1197.1 72.5L1199.1 72.5L1209.4 72.5L1209.4 69.1L1212.2 69.1L1234.5 69.1L1256.6 68.6L1263.2 68.6L1263.2 66.3L1263.6 66.3L1280.2 66.3L1280.2 62.9L1284.2 62.9L1289.5 62.9L1289.5 60.3L1298 60.3L1300 60.3L1300 58.6L1313.2 58.6L1325.2 58.6L1325.2 54.6L1341.2 54.6L1364 54.6L1364 52.1L1379.6 52.1L1379.6 49.6L1381.2 49.6L1403.2 49.6L1403.2 46.9L1408.9 46.9L1408.9 44.2L1411.3 44.2L1411.3 41.5L1427.3 41.5" fill="none" stroke="#7f7f7f" stroke-width="2.67" stroke-linejoin="round" stroke-linecap="square"/>
<path d="M137.8 721.7h0M137.8 720h0M139 720h0M139 716.7h0M139.8 716.7h0M139.8 715h0M141 715h0M141 713.3h0M141.4 713.3h0M141.4 711.7h0M142.7 711.7h0M142.7 710h0M143.5 710h0M143.5 708.3h0M144.3 708.3h0M144.3 705h0M144.7 705h0M144.7 701.6h0M146.3 701.6h0M146.3 698.3h0M148.7 698.3h0M148.7 694.9h0M149.1 694.9h0M149.1 691.6h0M151 691.6h0M151 689.9h0M151.4 689.9h0M151.4 688.3h0M153 688.3h0M153 683.3h0M154.2 683.3h0M154.2 681.6h0M154.6 681.6h0M155.4 681.6h0M155.4 678.2h0M155.8 678.2h0M155.8 676.4h0M156.2 676.4h0M156.2 674.7h0M157.9 674.7h0M157.9 673h0M158.3 673h0M158.3 671.3h0M159.5 671.3h0M159.5 667.8h0M159.9 667.8h0M159.9 664.4h0M160.7 664.4h0M160.7 662.8h0M161.5 662.8h0M161.5 661.1h0M162.3 661.1h0M162.3 657.8h0M164.2 657.8h0M164.2 654.5h0M165 654.5h0M165 652.9h0M165.4 652.9h0M165.4 651.2h0M165.8 651.2h0M165.8 649.6h0M166.5 649.6h0M166.5 647.9h0M167.3 647.9h0M167.3 644.6h0M168.1 644.6h0M168.1 642.9h0M168.5 642.9h0M168.5 641.2h0M169.3 641.2h0M169.3 639.5h0M169.7 639.5h0M169.7 637.8h0M171.4 637.8h0M171.4 636.1h0M172.2 636.1h0M172.2 634.4h0M173 634.4h0M173 631h0M173.9 631h0M173.9 629.3h0M174.7 629.3h0M174.7 627.6h0M175.5 627.6h0M175.5 626h0M176.7 626h0M176.7 624.3h0M177.1 624.3h0M177.1 622.7h0M178.6 622.7h0M178.6 621h0M179.8 621h0M179.8 619.4h0M180.2 619.4h0M180.2 617.7h0M181.8 617.7h0M181.8 611.1h0M183.3 611.1h0M183.3 607.8h0M185.3 607.8h0M185.3 606.1h0M187.7 606.1h0M187.7 604.4h0M188.8 604.4h0M188.8 602.6h0M190 602.6h0M190 599.2h0M192 599.2h0M192 597.5h0M192.4 597.5h0M192.4 595.8h0M192.8 595.8h0M192.8 594h0M194.7 594h0M194.7 592.3h0M196.3 592.3h0M196.3 590.6h0M197.1 590.6h0M198.7 590.6h0M198.7 587.2h0M199.5 587.2h0M199.5 583.7h0M201.6 583.7h0M201.6 582h0M202.4 582h0M202.4 580.3h0M203.2 580.3h0M203.2 578.6h0M204.9 578.6h0M204.9 576.8h0M206.9 576.8h0M206.9 573.4h0M207.3 573.4h0M207.3 571.7h0M208.9 571.7h0M208.9 569.9h0M210.5 569.9h0M210.5 566.5h0M212 566.5h0M212 563h0M212.8 563h0M212.8 561.3h0M213.6 561.3h0M213.6 559.6h0M214.4 559.6h0M214.4 557.8h0M215.2 557.8h0M215.2 556h0M218.1 556h0M218.1 552.4h0M219.3 552.4h0M219.3 548.8h0M222.6 548.8h0M222.6 547h0M224.2 547h0M224.2 545.2h0M225.8 545.2h0M225.8 543.6h0M226.6 543.6h0M226.6 541.9h0M228.5 541.9h0M228.5 538.6h0M230.1 538.6h0M230.1 537h0M231.7 537h0M231.7 535.3h0M233.2 535.3h0M233.2 533.7h0M233.6 533.7h0M233.6 532h0M235.2 532h0M235.6 532h0M235.6 530.2h0M237.2 530.2h0M237.2 528.5h0M238.8 528.5h0M238.8 524.9h0M240.8 524.9h0M240.8 523.2h0M241.1 523.2h0M241.1 521.4h0M241.9 521.4h0M241.9 519.6h0M243.9 519.6h0M243.9 517.8h0M245.9 517.8h0M245.9 514.3h0M246.3 514.3h0M247.1 514.3h0M247.1 512.6h0M248.3 512.6h0M248.3 510.9h0M249.5 510.9h0M249.5 509.1h0M249.9 509.1h0M249.9 507.4h0M251.5 507.4h0M251.5 505.7h0M252.3 505.7h0M252.3 504h0M252.7 504h0M252.7 502.2h0M253.1 502.2h0M253.1 500.5h0M253.5 500.5h0M253.5 498.8h0M255.1 498.8h0M255.5 498.8h0M255.5 497.2h0M257.1 497.2h0M257.1 495.5h0M263 495.5h0M263 493.9h0M266.2 493.9h0M266.2 492.2h0M266.2 490.5h0M267.8 490.5h0M267.8 488.8h0M269 488.8h0M269 487h0M270.2 487h0M270.2 485.3h0M271.8 485.3h0M271.8 483.6h0M274.5 483.6h0M274.5 481.9h0M274.9 481.9h0M274.9 478.4h0M276.1 478.4h0M276.1 476.7h0M277.3 476.7h0M277.3 473.5h0M280.9 473.5h0M280.9 471.9h0M281.3 471.9h0M281.3 470.4h0M284.5 470.4h0M284.5 468.8h0M284.9 468.8h0M284.9 467.2h0M286.1 467.2h0M286.1 465.6h0M286.5 465.6h0M286.5 464h0M289.7 464h0M289.7 462.3h0M290.5 462.3h0M290.5 460.7h0M294.1 460.7h0M294.1 459h0M294.9 459h0M297.3 459h0M297.3 457.2h0M300.5 457.2h0M300.5 455.5h0M304.6 455.5h0M304.6 453.7h0M305 453.7h0M305 452h0M306.2 452h0M306.2 450.2h0M308.2 450.2h0M308.6 450.2h0M308.6 446.9h0M311 446.9h0M311 445.2h0M312.6 445.2h0M312.6 440.2h0M315.1 440.2h0M315.1 438.6h0M317.1 438.6h0M317.1 436.9h0M317.5 436.9h0M317.5 435.3h0M319.2 435.3h0M319.2 433.7h0M320.8 433.7h0M320.8 430.6h0M321.2 430.6h0M321.2 429h0M322.5 429h0M322.5 425.8h0M323.7 425.8h0M325.3 425.8h0M325.3 424.2h0M326.5 424.2h0M326.5 422.5h0M328.5 422.5h0M328.5 420.9h0M328.9 420.9h0M328.9 419.2h0M329.3 419.2h0M329.3 415.9h0M332.8 415.9h0M332.8 414.3h0M333.6 414.3h0M333.6 412.6h0M334.8 412.6h0M336 412.6h0M336 409.4h0M339.2 409.4h0M339.2 407.7h0M340 407.7h0M340 406.1h0M342.4 406.1h0M342.4 404.5h0M343.2 404.5h0M343.2 402.9h0M346.8 402.9h0M346.8 401.2h0M347.6 401.2h0M347.6 399.6h0M348.8 399.6h0M348.8 395.9h0M352 395.9h0M352 394.1h0M354.3 394.1h0M354.3 392.3h0M354.7 392.3h0M354.7 390.4h0M357.5 390.4h0M357.5 388.6h0M358.7 388.6h0M363.1 388.6h0M363.1 387h0M364.3 387h0M364.3 385.3h0M367.6 385.3h0M367.6 383.7h0M369.2 383.7h0M369.2 382h0M372 382h0M373.2 382h0M373.2 380.2h0M374.4 380.2h0M374.4 378.4h0M384 378.4h0M384 376.7h0M384.4 376.7h0M384.4 374.9h0M385.2 374.9h0M385.2 373.1h0M386 373.1h0M386 371.3h0M387.6 371.3h0M387.6 369.4h0M389.6 369.4h0M389.6 367.6h0M391.5 367.6h0M391.5 365.8h0M394.3 365.8h0M394.3 363.9h0M395.9 363.9h0M395.9 362.1h0M396.3 362.1h0M397.1 362.1h0M397.1 360.3h0M399.5 360.3h0M399.5 358.5h0M404.8 358.5h0M404.8 356.8h0M406.4 356.8h0M406.4 355h0M406.8 355h0M406.8 353.2h0M409.6 353.2h0M409.6 351.4h0M410.8 351.4h0M410.8 349.5h0M415.1 349.5h0M415.1 345.9h0M417.9 345.9h0M417.9 344h0M419.4 344h0M419.4 342.2h0M420.6 342.2h0M424.2 342.2h0M424.2 334.8h0M429.3 334.8h0M429.3 332.9h0M430.9 332.9h0M430.9 331.1h0M431.7 331.1h0M431.7 329.5h0M435.2 329.5h0M435.2 327.8h0M437.2 327.8h0M437.2 326.2h0M441.9 326.2h0M441.9 324.5h0M442.7 324.5h0M449.9 324.5h0M449.9 322.3h0M458.2 322.3h0M465.9 322.3h0M465.9 320.8h0M468.7 320.8h0M468.7 319.3h0M469.9 319.3h0M469.9 317.8h0M471.5 317.8h0M471.9 317.8h0M471.9 316h0M473.1 316h0M473.1 314.1h0M475.5 314.1h0M475.5 312.3h0M476.3 312.3h0M476.3 310.5h0M477.1 310.5h0M477.1 308.6h0M477.9 308.6h0M477.9 306.8h0M480.3 306.8h0M481.5 306.8h0M481.5 305.2h0M482.3 305.2h0M482.3 303.5h0M485.2 303.5h0M485.2 301.9h0M486 301.9h0M486 300.2h0M486.4 300.2h0M486.4 298.6h0M489.3 298.6h0M496.5 298.6h0M496.5 297h0M499.7 297h0M499.7 295.3h0M503.6 295.3h0M503.6 293.7h0M504.4 293.7h0M504.4 292h0M514 292h0M514 290h0M526.7 290h0M526.7 288h0M527.5 288h0M529.1 288h0M529.1 284.7h0M531.5 284.7h0M531.5 283.1h0M533.1 283.1h0M533.1 281.4h0M533.9 281.4h0M533.9 279.8h0M534.8 279.8h0M534.8 278.1h0M537.6 278.1h0M537.6 276.5h0M540.4 276.5h0M540.4 274.8h0M540.8 274.8h0M540.8 273h0M542 273h0M542 271.3h0M546 271.3h0M546 269.5h0M546.4 269.5h0M546.4 267.8h0M547.6 267.8h0M547.6 266h0M548 266h0M549.6 266h0M549.6 264.3h0M550 264.3h0M550 262.7h0M556 262.7h0M556 261h0M556.8 261h0M556.8 259.3h0M560.1 259.3h0M560.1 257.7h0M560.9 257.7h0M560.9 256h0M562.5 256h0M562.5 254.4h0M565.7 254.4h0M565.7 252.7h0M567.3 252.7h0M570.1 252.7h0M570.1 251.2h0M575.4 251.2h0M575.4 249.8h0M577.4 249.8h0M577.4 248.3h0M580.6 248.3h0M580.6 246.6h0M586.3 246.6h0M586.3 244.9h0M588.7 244.9h0M588.7 241.4h0M594.7 241.4h0M594.7 239.7h0M598.4 239.7h0M598.4 238h0M600 238h0M607.9 238h0M607.9 236.2h0M608.7 236.2h0M608.7 234.5h0M614.3 234.5h0M614.3 232.7h0M617.5 232.7h0M617.5 230.9h0M619.1 230.9h0M619.1 229.1h0M622.6 229.1h0M622.6 227.4h0M623 227.4h0M623 225.6h0M626.2 225.6h0M627 225.6h0M627 223.8h0M627.4 223.8h0M627.4 222h0M638 222h0M638 218.4h0M638.4 218.4h0M638.4 216.6h0M641.2 216.6h0M644.8 216.6h0M644.8 215h0M645.2 215h0M645.2 213.3h0M651.9 213.3h0M651.9 211.7h0M653.1 211.7h0M653.1 210.1h0M654.7 210.1h0M656.3 210.1h0M656.3 208.4h0M659.9 208.4h0M659.9 206.8h0M663 206.8h0M663 205.1h0M665.8 205.1h0M665.8 203.4h0M670.2 203.4h0M671 203.4h0M671 199h0M683.5 199h0M689.9 199h0M689.9 196.8h0M696.4 196.8h0M696.4 194.6h0M696.8 194.6h0M702.4 194.6h0M702.4 192.4h0M705.2 192.4h0M705.2 190.2h0M710 190.2h0M711.2 190.2h0M711.2 188.7h0M712.4 188.7h0M712.4 187.1h0M715.2 187.1h0M715.2 185.6h0M725.5 185.6h0M732.2 185.6h0M732.2 183.6h0M735.8 183.6h0M735.8 181.6h0M736.2 181.6h0M743.5 181.6h0M743.5 179.9h0M745.5 179.9h0M745.5 176.6h0M746.7 176.6h0M749.1 176.6h0M749.1 174.4h0M752.7 174.4h0M752.7 172.2h0M762.2 172.2h0M765.8 172.2h0M765.8 170.6h0M774.6 170.6h0M774.6 168.9h0M775.4 168.9h0M782.7 168.9h0M782.7 165.2h0M787.9 165.2h0M787.9 163.3h0M788.7 163.3h0M796.3 163.3h0M796.3 161.1h0M797.4 161.1h0M797.4 158.9h0M804.2 158.9h0M805.8 158.9h0M805.8 156.7h0M807 156.7h0M807 154.5h0M819.7 154.5h0M821.7 154.5h0M821.7 152.7h0M829.3 152.7h0M829.3 150.8h0M831.3 150.8h0M831.3 149h0M832.9 149h0M834.1 149h0M834.1 147.1h0M840.6 147.1h0M840.6 145.3h0M841.8 145.3h0M841.8 143.4h0M846.2 143.4h0M853.5 143.4h0M853.5 141.2h0M859.5 141.2h0M861.9 141.2h0M861.9 139.6h0M866.7 139.6h0M866.7 137.9h0M872.7 137.9h0M876.7 137.9h0M876.7 136.2h0M885.2 136.2h0M885.2 134.6h0M886 134.6h0M893.2 134.6h0M893.2 132.7h0M895.2 132.7h0M895.2 130.9h0M895.6 130.9h0M895.6 129h0M899.2 129h0M904.4 129h0M904.4 127.3h0M912.1 127.3h0M912.1 125.6h0M912.5 125.6h0M920.2 125.6h0M920.2 124.6h0M925.8 124.6h0M931.8 124.6h0M931.8 120.2h0M939.1 120.2h0M942.3 120.2h0M942.3 119.1h0M952.2 119.1h0M962.4 119.1h0M962.4 116.9h0M965.6 116.9h0M967.2 116.9h0M967.2 115.2h0M979.2 115.2h0M979.2 113.6h0M991.2 113.6h0M1016 113.6h0M1016 112.1h0M1021.2 112.1h0M1053.2 111.2h0M1057.2 111.2h0M1057.2 109.2h0M1058.8 109.2h0M1058.8 107.1h0M1066.5 107.1h0M1066.5 105.1h0M1066.9 105.1h0M1066.9 103.1h0M1074.9 103.1h0M1074.9 101h0M1076.9 101h0M1076.9 99h0M1079.7 99h0M1082.1 99h0M1082.1 97.3h0M1101 97.3h0M1101 95.6h0M1106.2 95.6h0M1125.9 95.6h0M1125.9 92.9h0M1129.9 92.9h0M1129.9 90.2h0M1132.7 90.2h0M1146.6 90.2h0M1146.6 87.9h0M1150.2 87.9h0M1155.8 87.9h0M1155.8 85.1h0M1160.6 85.1h0M1160.6 82.4h0M1168.2 82.4h0M1173.1 82.4h0M1173.1 79.6h0M1180.8 79.6h0M1180.8 76.9h0M1181.2 76.9h0M1186.4 76.9h0M1186.4 74.7h0M1197.1 74.7h0M1197.1 72.5h0M1199.1 72.5h0M1209.4 72.5h0M1209.4 69.1h0M1212.2 69.1h0M1234.5 69.1h0M1256.6 68.6h0M1263.2 68.6h0M1263.2 66.3h0M1263.6 66.3h0M1280.2 66.3h0M1280.2 62.9h0M1284.2 62.9h0M1289.5 62.9h0M1289.5 60.3h0M1298 60.3h0M1300 60.3h0M1300 58.6h0M1313.2 58.6h0M1325.2 58.6h0M1325.2 54.6h0M1341.2 54.6h0M1364 54.6h0M1364 52.1h0M1379.6 52.1h0M1379.6 49.6h0M1381.2 49.6h0M1403.2 49.6h0M1403.2 46.9h0M1408.9 46.9h0M1408.9 44.2h0M1411.3 44.2h0M1411.3 41.5h0M1427.3 41.5h0" fill="none" stroke="#7f7f7f" stroke-width="7.30" stroke-linecap="round"/>
</g>
<g><path d="M137.8 721.7L137.8 720L138.7 720L138.7 706.7L139.1 706.7L139.1 703.3L140 703.3L140 700L140 696.5L140.4 696.5L140.4 691.3L140.9 691.3L140.9 687.9L141.3 687.9L141.3 681L142.2 681L142.2 677.5L142.2 675.8L143 675.8L143 674.1L143.4 674.1L143.4 670.6L144.1 670.6L144.1 668.9L144.5 668.9L144.5 667.2L144.9 667.2L144.9 665.5L145.3 665.5L145.3 660.3L146.1 660.3L146.1 658.6L146.5 658.6L146.5 656.9L146.8 656.9L146.8 651.7L147.6 651.7L147.6 650L148 650L148 648.3L148.4 648.3L148.4 646.7L149.2 646.7L149.2 645L149.7 645L149.7 641.7L150.5 641.7L150.5 640L151.3 640L151.3 635L152.2 635L152.2 631.7L153 631.7L153 630L153.4 630L153.4 628.3L153.8 628.3L153.8 626.5L154.6 626.5L154.6 624.8L155 624.8L155 623.1L156.2 623.1L156.2 621.4L156.6 621.4L156.6 619.6L157.4 619.6L157.4 617.9L157.8 617.9L157.8 616.2L159 616.2L159 612.7L159.4 612.7L159.4 611L159.4 607.8L161.4 607.8L161.4 606.1L162.2 606.1L162.2 602.9L163 602.9L163 601.2L164.2 601.2L164.2 599.6L164.6 599.6L164.6 598L165 598L165.8 598L165.8 596.2L166.2 596.2L166.2 594.3L168.7 594.3L168.7 592.5L169.5 592.5L169.5 590.6L171.5 590.6L171.5 588.8L172.3 588.8L172.7 588.8L172.7 585.5L173.5 585.5L173.5 583.9L173.9 583.9L173.9 582.3L175.9 582.3L175.9 579L176.3 579L176.3 577.4L177.5 577.4L177.5 575.7L178.8 575.7L178.8 574.1L179.6 574.1L179.6 572.4L181.2 572.4L181.2 569.1L181.6 569.1L181.6 567.5L182.4 567.5L182.4 564.2L183.1 564.2L183.1 562.6L183.9 562.6L183.9 560.9L184.7 560.9L184.7 559.3L185.1 559.3L186.3 559.3L186.3 557.7L187.5 557.7L187.5 551.4L190 551.4L193.5 551.4L193.5 550L195.5 550L195.5 548.5L195.9 548.5L207.7 548L211.4 548L211.4 546.5L211.8 546.5L211.8 545.1L212.6 545.1L212.6 543.6L213.4 543.6L213.4 539.7L219.5 539.7L219.9 539.7L219.9 538L222.6 538L222.6 536.4L225 536.4L225 534.7L225.4 534.7L228.5 534.7L228.5 533.1L228.9 533.1L228.9 529.8L229.3 529.8L230.5 529.8L230.5 527.8L231.3 527.8L231.3 525.9L233.3 525.9L233.3 523.9L233.3 522.1L233.7 522.1L233.7 520.3L234.1 520.3L234.1 518.5L237 518.5L237 515L241.7 515L241.7 513.2L244.1 513.2L244.1 509.8L245.6 509.8L245.6 508L248 508L248 506.2L248.8 506.2L248.8 504.4L255.9 504.4L255.9 502.6L256.3 502.6L256.3 500.8L259.1 500.8L259.1 497.2L262.7 497.2L265.8 497.2L265.8 495.4L267.8 495.4L267.8 493.7L270.2 493.7L270.2 491.9L273.7 491.9L273.7 488.4L273.7 486.6L274.9 486.6L274.9 484.8L280 484.8L280 483.1L281.2 483.1L281.2 481.3L282 481.3L282 479.5L284.8 479.5L286 479.5L286 477.7L286.4 477.7L286.4 475.8L290 475.8L290 472.2L291.9 472.2L291.9 470.3L295.1 470.3L295.1 468.5L295.9 468.5L297.9 468.5L297.9 466.9L300.2 466.9L300.2 465.4L301.4 465.4L301.4 463.8L303.4 463.8L303.4 462.3L305.7 462.3L305.7 460.7L306.9 460.7L310.9 460.7L310.9 459.2L312.1 459.2L312.1 457.6L313.2 457.6L313.2 456.1L316 456.1L316 454.5L318 454.5L318 453L322 453L322 450.8L326.8 450.8L327.2 450.8L327.2 447.5L329.6 447.5L329.6 445.8L332 445.8L332 444.1L332.7 444.1L332.7 442.5L334.7 442.5L334.7 440.8L337.1 440.8L337.1 439.2L337.5 439.2L337.5 437.5L337.9 437.5L338.3 437.5L338.3 435.9L339.5 435.9L339.5 434.3L344.6 434.3L344.6 431.2L347.3 431.2L347.3 429.6L348.1 429.6L348.1 428L348.5 428L348.5 426.4L348.9 426.4L351.3 426.4L351.3 424.8L352.1 424.8L352.1 423.1L361.4 423.1L361.4 421.5L362.2 421.5L362.2 419.8L362.2 418.2L363.8 418.2L363.8 416.6L364.9 416.6L364.9 415L366.5 415L366.5 410.3L367.6 410.3L367.6 408.7L368.8 408.7L370.8 408.7L370.8 407.1L372.4 407.1L372.4 405.4L374.3 405.4L374.3 403.8L376.3 403.8L376.3 402.1L379.9 402.1L384.2 402.1L384.2 400.4L389 400.4L389 398.7L391.7 398.7L391.7 397L393.3 397L393.7 397L393.7 395.4L396.4 395.4L396.4 393.9L399.2 393.9L399.2 392.3L400.8 392.3L400.8 390.8L404.3 390.8L412.6 390.8L412.6 389.3L413.4 389.3L413.4 386.3L415.4 386.3L425.2 386.3L425.2 384.4L425.6 384.4L425.6 380.5L426.4 380.5L426.8 380.5L426.8 378.8L432.5 378.8L432.5 377L435.3 377L435.3 375.3L437.4 375.3L437.4 373.7L438.6 373.7L438.6 372.2L441.5 372.2L441.5 367.5L441.9 367.5L446.3 367.5L446.3 365.9L450 365.9L450 364.2L450.8 364.2L450.8 362.4L455.5 362.4L455.5 360.7L456.7 360.7L456.7 358.9L458.7 358.9L458.7 357.2L461.8 357.2L461.8 355.4L465 355.4L465 351.8L468.3 351.8L468.3 348.3L470.7 348.3L470.7 346.5L470.7 344.9L472.6 344.9L472.6 343.2L473.8 343.2L473.8 341.6L474.6 341.6L474.6 339.9L476.9 339.9L476.9 336.6L477.3 336.6L478.1 336.6L478.1 334.8L484.2 334.8L484.2 333L490.6 333L497 333L497 331L499.4 331L499.4 329L503.8 329L511.5 329L511.5 327.5L514.3 327.5L514.3 325.9L515.9 325.9L515.9 324.4L517.1 324.4L520.3 324.4L520.3 322.8L521.1 322.8L521.1 321.2L527.6 321.2L527.6 319.6L529.2 319.6L529.2 318L534.8 318L542.8 318L542.8 316.3L546.4 316.3L546.4 314.7L546.8 314.7L546.8 313L550 313L552.4 313L552.4 311.2L553.2 311.2L553.2 309.5L554.3 309.5L554.3 307.8L554.7 307.8L554.7 306L558.3 306L558.3 304.2L559.5 304.2L559.5 302.5L561.8 302.5L561.8 300.8L564.6 300.8L564.6 299L565 299L565.8 299L565.8 297.6L567.8 297.6L567.8 296.1L573 296.1L573 294.7L580.6 294.7L584.6 294.7L584.6 293L585 293L585 291.3L587.8 291.3L587.8 289.7L589.4 289.7L589.4 288L593.8 288L595.4 288L595.4 286.4L600.2 286.4L600.2 284.7L601 284.7L601 283.1L603 283.1L603 281.4L607 281.4L609.4 281.4L609.4 279.8L611.1 279.8L611.1 278.1L617.2 278.1L617.2 276.5L618.4 276.5L618.4 274.8L620.4 274.8L626.4 274.8L626.4 273.1L632.8 273.1L632.8 271.5L633.6 271.5L635.6 271.5L635.6 269.9L638.8 269.9L638.8 268.4L641.3 268.4L641.3 266.8L641.7 266.8L641.7 265.3L646.5 265.3L646.5 263.7L646.9 263.7L652.9 263.7L652.9 262.2L653.8 262.2L653.8 260.8L659.4 260.8L659.4 259.3L660.2 259.3L665.8 259.3L665.8 257.6L666.2 257.6L666.2 256L666.6 256L666.6 254.3L669.5 254.3L669.5 252.7L673.5 252.7L673.9 252.7L673.9 251L676.2 251L676.2 249.3L681 249.3L681 247.7L684.1 247.7L684.1 246L684.5 246L686.5 246L686.5 244.3L687.3 244.3L687.3 242.7L695.6 242.7L697.2 242.7L697.2 240.9L698.8 240.9L698.8 239L701.2 239L701.2 237.2L708.8 237.2L715.2 237.2L715.2 235.7L716 235.7L716 234.3L722 234.3L722 232.8L743.3 232.5L743.3 230.7L743.7 230.7L743.7 228.9L750.8 228.9L750.8 227.2L751.6 227.2L751.6 223.6L758.7 223.6L761.5 223.6L761.5 221.8L766.3 221.8L766.3 220.1L772.6 220.1L772.6 218.3L773.8 218.3L773.8 216.6L774.2 216.6L774.2 214.8L777 214.8L777 213.2L781 213.2L781 211.5L788.3 211.5L788.3 208.2L796.3 208.2L800.7 208.2L800.7 206.3L805.6 206.3L805.6 204.5L808.4 204.5L808.4 202.6L809.6 202.6L809.6 200.9L814.8 200.9L814.8 199.3L820.1 199.3L820.1 197.6L820.5 197.6L820.5 196L822.9 196L825.2 196L825.2 193.8L829.5 193.8L842.8 192.7L850.7 192.7L850.7 190.5L851.4 190.5L851.4 188.3L853.8 188.3L853.8 186.4L859.4 186.4L859.4 184.6L861 184.6L861 182.7L865 182.7L865 181.1L865.8 181.1L865.8 179.4L868.2 179.4L878.2 179.4L904.7 178.3L905.9 178.3L905.9 176.4L907.1 176.4L907.1 174.4L909.9 174.4L909.9 172.5L912.7 172.5L912.7 170.6L913.5 170.6L924.6 170.6L924.6 168.4L924.6 165L931.3 165L931.3 163.4L933.7 163.4L933.7 161.7L935.7 161.7L941.2 161.7L941.2 160.1L942 160.1L942 158.4L946.7 158.4L955 158.4L955 156.2L957.8 156.2L967.6 156.2L967.6 155L968.8 155L974.3 155L974.3 152.9L976.6 152.9L1001 152.7L1007.7 152.7L1007.7 150.5L1012 150.5L1013.6 150.5L1013.6 148.7L1018 148.7L1018 146.8L1022.4 146.8L1022.4 145L1023.2 145L1038.5 145L1038.5 142.8L1040.1 142.8L1040.1 140.5L1040.9 140.5L1045.4 140.5L1045.4 138.8L1048.6 138.8L1048.6 137.2L1056.3 137.2L1059.5 137.2L1059.5 135.4L1064.8 135.4L1064.8 133.5L1069.2 133.5L1069.2 131.7L1069.6 131.7L1085 129.5L1089 129.5L1089 127.7L1093 127.7L1093 125.8L1095.8 125.8L1095.8 124L1100.6 124L1103.8 124L1103.8 122.3L1108.6 122.3L1108.6 120.6L1113.8 120.6L1116.6 120.6L1116.6 118.4L1124.5 118.4L1124.5 116.2L1129.3 116.2L1129.7 116.2L1129.7 114.6L1136.6 114.6L1136.6 112.9L1142.6 112.9L1145.8 112.9L1145.8 111.2L1155.5 111.2L1155.5 109.6L1155.9 109.6L1175.8 108.9L1176.2 108.9L1176.2 106.5L1184.2 106.5L1184.2 104L1184.6 104L1194.5 104L1194.5 101.8L1196.8 101.8L1196.8 99.6L1200 99.6L1202 99.6L1202 97.4L1206.7 97.4L1206.7 95.2L1211 95.2L1215.4 95.2L1215.4 93L1222.2 93L1230.9 93L1230.9 90.8L1233.3 90.8L1239.3 90.8L1239.3 88.9L1243.7 88.9L1243.7 87L1246.5 87L1248.1 87L1248.1 85.4L1252 85.4L1265.8 84.5L1273 84.5L1273 82L1277.8 82L1277.8 79.3L1283 79.3L1298.5 78.5L1302.6 78.5L1302.6 76.8L1305.4 76.8L1308.6 76.8L1308.6 75L1315.7 75L1319.2 75L1319.2 72.5L1320.8 72.5L1338 71.6L1340.3 71.6L1340.3 69L1345 69L1370.7 68.2L1371.9 68.2L1371.9 65.6L1375.9 65.6L1379.2 65.6L1379.2 63L1384.5 63L1390.4 63L1390.4 61.3L1394.8 61.3L1401.7 60.4L1409.9 60.4L1409.9 58.7L1410.3 58.7L1410.3 56L1418.9 56L1420.1 56L1420.1 53.9L1420.5 53.9L1420.5 51.8L1424.9 51.8L1424.9 49.7L1426.1 49.7L1426.1 47.7L1426.9 47.7L1426.9 43.6L1427.3 43.6L1427.3 41.5" fill="none" stroke="#bcbd22" stroke-width="2.67" stroke-linejoin="round" stroke-linecap="square"/>
<path d="M137.8 721.7h0M137.8 720h0M138.7 720h0M138.7 706.7h0M139.1 706.7h0M139.1 703.3h0M140 703.3h0M140 700h0M140 696.5h0M140.4 696.5h0M140.4 691.3h0M140.9 691.3h0M140.9 687.9h0M141.3 687.9h0M141.3 681h0M142.2 681h0M142.2 677.5h0M142.2 675.8h0M143 675.8h0M143 674.1h0M143.4 674.1h0M143.4 670.6h0M144.1 670.6h0M144.1 668.9h0M144.5 668.9h0M144.5 667.2h0M144.9 667.2h0M144.9 665.5h0M145.3 665.5h0M145.3 660.3h0M146.1 660.3h0M146.1 658.6h0M146.5 658.6h0M146.5 656.9h0M146.8 656.9h0M146.8 651.7h0M147.6 651.7h0M147.6 650h0M148 650h0M148 648.3h0M148.4 648.3h0M148.4 646.7h0M149.2 646.7h0M149.2 645h0M149.7 645h0M149.7 641.7h0M150.5 641.7h0M150.5 640h0M151.3 640h0M151.3 635h0M152.2 635h0M152.2 631.7h0M153 631.7h0M153 630h0M153.4 630h0M153.4 628.3h0M153.8 628.3h0M153.8 626.5h0M154.6 626.5h0M154.6 624.8h0M155 624.8h0M155 623.1h0M156.2 623.1h0M156.2 621.4h0M156.6 621.4h0M156.6 619.6h0M157.4 619.6h0M157.4 617.9h0M157.8 617.9h0M157.8 616.2h0M159 616.2h0M159 612.7h0M159.4 612.7h0M159.4 611h0M159.4 607.8h0M161.4 607.8h0M161.4 606.1h0M162.2 606.1h0M162.2 602.9h0M163 602.9h0M163 601.2h0M164.2 601.2h0M164.2 599.6h0M164.6 599.6h0M164.6 598h0M165 598h0M165.8 598h0M165.8 596.2h0M166.2 596.2h0M166.2 594.3h0M168.7 594.3h0M168.7 592.5h0M169.5 592.5h0M169.5 590.6h0M171.5 590.6h0M171.5 588.8h0M172.3 588.8h0M172.7 588.8h0M172.7 585.5h0M173.5 585.5h0M173.5 583.9h0M173.9 583.9h0M173.9 582.3h0M175.9 582.3h0M175.9 579h0M176.3 579h0M176.3 577.4h0M177.5 577.4h0M177.5 575.7h0M178.8 575.7h0M178.8 574.1h0M179.6 574.1h0M179.6 572.4h0M181.2 572.4h0M181.2 569.1h0M181.6 569.1h0M181.6 567.5h0M182.4 567.5h0M182.4 564.2h0M183.1 564.2h0M183.1 562.6h0M183.9 562.6h0M183.9 560.9h0M184.7 560.9h0M184.7 559.3h0M185.1 559.3h0M186.3 559.3h0M186.3 557.7h0M187.5 557.7h0M187.5 551.4h0M190 551.4h0M193.5 551.4h0M193.5 550h0M195.5 550h0M195.5 548.5h0M195.9 548.5h0M207.7 548h0M211.4 548h0M211.4 546.5h0M211.8 546.5h0M211.8 545.1h0M212.6 545.1h0M212.6 543.6h0M213.4 543.6h0M213.4 539.7h0M219.5 539.7h0M219.9 539.7h0M219.9 538h0M222.6 538h0M222.6 536.4h0M225 536.4h0M225 534.7h0M225.4 534.7h0M228.5 534.7h0M228.5 533.1h0M228.9 533.1h0M228.9 529.8h0M229.3 529.8h0M230.5 529.8h0M230.5 527.8h0M231.3 527.8h0M231.3 525.9h0M233.3 525.9h0M233.3 523.9h0M233.3 522.1h0M233.7 522.1h0M233.7 520.3h0M234.1 520.3h0M234.1 518.5h0M237 518.5h0M237 515h0M241.7 515h0M241.7 513.2h0M244.1 513.2h0M244.1 509.8h0M245.6 509.8h0M245.6 508h0M248 508h0M248 506.2h0M248.8 506.2h0M248.8 504.4h0M255.9 504.4h0M255.9 502.6h0M256.3 502.6h0M256.3 500.8h0M259.1 500.8h0M259.1 497.2h0M262.7 497.2h0M265.8 497.2h0M265.8 495.4h0M267.8 495.4h0M267.8 493.7h0M270.2 493.7h0M270.2 491.9h0M273.7 491.9h0M273.7 488.4h0M273.7 486.6h0M274.9 486.6h0M274.9 484.8h0M280 484.8h0M280 483.1h0M281.2 483.1h0M281.2 481.3h0M282 481.3h0M282 479.5h0M284.8 479.5h0M286 479.5h0M286 477.7h0M286.4 477.7h0M286.4 475.8h0M290 475.8h0M290 472.2h0M291.9 472.2h0M291.9 470.3h0M295.1 470.3h0M295.1 468.5h0M295.9 468.5h0M297.9 468.5h0M297.9 466.9h0M300.2 466.9h0M300.2 465.4h0M301.4 465.4h0M301.4 463.8h0M303.4 463.8h0M303.4 462.3h0M305.7 462.3h0M305.7 460.7h0M306.9 460.7h0M310.9 460.7h0M310.9 459.2h0M312.1 459.2h0M312.1 457.6h0M313.2 457.6h0M313.2 456.1h0M316 456.1h0M316 454.5h0M318 454.5h0M318 453h0M322 453h0M322 450.8h0M326.8 450.8h0M327.2 450.8h0M327.2 447.5h0M329.6 447.5h0M329.6 445.8h0M332 445.8h0M332 444.1h0M332.7 444.1h0M332.7 442.5h0M334.7 442.5h0M334.7 440.8h0M337.1 440.8h0M337.1 439.2h0M337.5 439.2h0M337.5 437.5h0M337.9 437.5h0M338.3 437.5h0M338.3 435.9h0M339.5 435.9h0M339.5 434.3h0M344.6 434.3h0M344.6 431.2h0M347.3 431.2h0M347.3 429.6h0M348.1 429.6h0M348.1 428h0M348.5 428h0M348.5 426.4h0M348.9 426.4h0M351.3 426.4h0M351.3 424.8h0M352.1 424.8h0M352.1 423.1h0M361.4 423.1h0M361.4 421.5h0M362.2 421.5h0M362.2 419.8h0M362.2 418.2h0M363.8 418.2h0M363.8 416.6h0M364.9 416.6h0M364.9 415h0M366.5 415h0M366.5 410.3h0M367.6 410.3h0M367.6 408.7h0M368.8 408.7h0M370.8 408.7h0M370.8 407.1h0M372.4 407.1h0M372.4 405.4h0M374.3 405.4h0M374.3 403.8h0M376.3 403.8h0M376.3 402.1h0M379.9 402.1h0M384.2 402.1h0M384.2 400.4h0M389 400.4h0M389 398.7h0M391.7 398.7h0M391.7 397h0M393.3 397h0M393.7 397h0M393.7 395.4h0M396.4 395.4h0M396.4 393.9h0M399.2 393.9h0M399.2 392.3h0M400.8 392.3h0M400.8 390.8h0M404.3 390.8h0M412.6 390.8h0M412.6 389.3h0M413.4 389.3h0M413.4 386.3h0M415.4 386.3h0M425.2 386.3h0M425.2 384.4h0M425.6 384.4h0M425.6 380.5h0M426.4 380.5h0M426.8 380.5h0M426.8 378.8h0M432.5 378.8h0M432.5 377h0M435.3 377h0M435.3 375.3h0M437.4 375.3h0M437.4 373.7h0M438.6 373.7h0M438.6 372.2h0M441.5 372.2h0M441.5 367.5h0M441.9 367.5h0M446.3 367.5h0M446.3 365.9h0M450 365.9h0M450 364.2h0M450.8 364.2h0M450.8 362.4h0M455.5 362.4h0M455.5 360.7h0M456.7 360.7h0M456.7 358.9h0M458.7 358.9h0M458.7 357.2h0M461.8 357.2h0M461.8 355.4h0M465 355.4h0M465 351.8h0M468.3 351.8h0M468.3 348.3h0M470.7 348.3h0M470.7 346.5h0M470.7 344.9h0M472.6 344.9h0M472.6 343.2h0M473.8 343.2h0M473.8 341.6h0M474.6 341.6h0M474.6 339.9h0M476.9 339.9h0M476.9 336.6h0M477.3 336.6h0M478.1 336.6h0M478.1 334.8h0M484.2 334.8h0M484.2 333h0M490.6 333h0M497 333h0M497 331h0M499.4 331h0M499.4 329h0M503.8 329h0M511.5 329h0M511.5 327.5h0M514.3 327.5h0M514.3 325.9h0M515.9 325.9h0M515.9 324.4h0M517.1 324.4h0M520.3 324.4h0M520.3 322.8h0M521.1 322.8h0M521.1 321.2h0M527.6 321.2h0M527.6 319.6h0M529.2 319.6h0M529.2 318h0M534.8 318h0M542.8 318h0M542.8 316.3h0M546.4 316.3h0M546.4 314.7h0M546.8 314.7h0M546.8 313h0M550 313h0M552.4 313h0M552.4 311.2h0M553.2 311.2h0M553.2 309.5h0M554.3 309.5h0M554.3 307.8h0M554.7 307.8h0M554.7 306h0M558.3 306h0M558.3 304.2h0M559.5 304.2h0M559.5 302.5h0M561.8 302.5h0M561.8 300.8h0M564.6 300.8h0M564.6 299h0M565 299h0M565.8 299h0M565.8 297.6h0M567.8 297.6h0M567.8 296.1h0M573 296.1h0M573 294.7h0M580.6 294.7h0M584.6 294.7h0M584.6 293h0M585 293h0M585 291.3h0M587.8 291.3h0M587.8 289.7h0M589.4 289.7h0M589.4 288h0M593.8 288h0M595.4 288h0M595.4 286.4h0M600.2 286.4h0M600.2 284.7h0M601 284.7h0M601 283.1h0M603 283.1h0M603 281.4h0M607 281.4h0M609.4 281.4h0M609.4 279.8h0M611.1 279.8h0M611.1 278.1h0M617.2 278.1h0M617.2 276.5h0M618.4 276.5h0M618.4 274.8h0M620.4 274.8h0M626.4 274.8h0M626.4 273.1h0M632.8 273.1h0M632.8 271.5h0M633.6 271.5h0M635.6 271.5h0M635.6 269.9h0M638.8 269.9h0M638.8 268.4h0M641.3 268.4h0M641.3 266.8h0M641.7 266.8h0M641.7 265.3h0M646.5 265.3h0M646.5 263.7h0M646.9 263.7h0M652.9 263.7h0M652.9 262.2h0M653.8 262.2h0M653.8 260.8h0M659.4 260.8h0M659.4 259.3h0M660.2 259.3h0M665.8 259.3h0M665.8 257.6h0M666.2 257.6h0M666.2 256h0M666.6 256h0M666.6 254.3h0M669.5 254.3h0M669.5 252.7h0M673.5 252.7h0M673.9 252.7h0M673.9 251h0M676.2 251h0M676.2 249.3h0M681 249.3h0M681 247.7h0M684.1 247.7h0M684.1 246h0M684.5 246h0M686.5 246h0M686.5 244.3h0M687.3 244.3h0M687.3 242.7h0M695.6 242.7h0M697.2 242.7h0M697.2 240.9h0M698.8 240.9h0M698.8 239h0M701.2 239h0M701.2 237.2h0M708.8 237.2h0M715.2 237.2h0M715.2 235.7h0M716 235.7h0M716 234.3h0M722 234.3h0M722 232.8h0M743.3 232.5h0M743.3 230.7h0M743.7 230.7h0M743.7 228.9h0M750.8 228.9h0M750.8 227.2h0M751.6 227.2h0M751.6 223.6h0M758.7 223.6h0M761.5 223.6h0M761.5 221.8h0M766.3 221.8h0M766.3 220.1h0M772.6 220.1h0M772.6 218.3h0M773.8 218.3h0M773.8 216.6h0M774.2 216.6h0M774.2 214.8h0M777 214.8h0M777 213.2h0M781 213.2h0M781 211.5h0M788.3 211.5h0M788.3 208.2h0M796.3 208.2h0M800.7 208.2h0M800.7 206.3h0M805.6 206.3h0M805.6 204.5h0M808.4 204.5h0M808.4 202.6h0M809.6 202.6h0M809.6 200.9h0M814.8 200.9h0M814.8 199.3h0M820.1 199.3h0M820.1 197.6h0M820.5 197.6h0M820.5 196h0M822.9 196h0M825.2 196h0M825.2 193.8h0M829.5 193.8h0M842.8 192.7h0M850.7 192.7h0M850.7 190.5h0M851.4 190.5h0M851.4 188.3h0M853.8 188.3h0M853.8 186.4h0M859.4 186.4h0M859.4 184.6h0M861 184.6h0M861 182.7h0M865 182.7h0M865 181.1h0M865.8 181.1h0M865.8 179.4h0M868.2 179.4h0M878.2 179.4h0M904.7 178.3h0M905.9 178.3h0M905.9 176.4h0M907.1 176.4h0M907.1 174.4h0M909.9 174.4h0M909.9 172.5h0M912.7 172.5h0M912.7 170.6h0M913.5 170.6h0M924.6 170.6h0M924.6 168.4h0M924.6 165h0M931.3 165h0M931.3 163.4h0M933.7 163.4h0M933.7 161.7h0M935.7 161.7h0M941.2 161.7h0M941.2 160.1h0M942 160.1h0M942 158.4h0M946.7 158.4h0M955 158.4h0M955 156.2h0M957.8 156.2h0M967.6 156.2h0M967.6 155h0M968.8 155h0M974.3 155h0M974.3 152.9h0M976.6 152.9h0M1001 152.7h0M1007.7 152.7h0M1007.7 150.5h0M1012 150.5h0M1013.6 150.5h0M1013.6 148.7h0M1018 148.7h0M1018 146.8h0M1022.4 146.8h0M1022.4 145h0M1023.2 145h0M1038.5 145h0M1038.5 142.8h0M1040.1 142.8h0M1040.1 140.5h0M1040.9 140.5h0M1045.4 140.5h0M1045.4 138.8h0M1048.6 138.8h0M1048.6 137.2h0M1056.3 137.2h0M1059.5 137.2h0M1059.5 135.4h0M1064.8 135.4h0M1064.8 133.5h0M1069.2 133.5h0M1069.2 131.7h0M1069.6 131.7h0M1085 129.5h0M1089 129.5h0M1089 127.7h0M1093 127.7h0M1093 125.8h0M1095.8 125.8h0M1095.8 124h0M1100.6 124h0M1103.8 124h0M1103.8 122.3h0M1108.6 122.3h0M1108.6 120.6h0M1113.8 120.6h0M1116.6 120.6h0M1116.6 118.4h0M1124.5 118.4h0M1124.5 116.2h0M1129.3 116.2h0M1129.7 116.2h0M1129.7 114.6h0M1136.6 114.6h0M1136.6 112.9h0M1142.6 112.9h0M1145.8 112.9h0M1145.8 111.2h0M1155.5 111.2h0M1155.5 109.6h0M1155.9 109.6h0M1175.8 108.9h0M1176.2 108.9h0M1176.2 106.5h0M1184.2 106.5h0M1184.2 104h0M1184.6 104h0M1194.5 104h0M1194.5 101.8h0M1196.8 101.8h0M1196.8 99.6h0M1200 99.6h0M1202 99.6h0M1202 97.4h0M1206.7 97.4h0M1206.7 95.2h0M1211 95.2h0M1215.4 95.2h0M1215.4 93h0M1222.2 93h0M1230.9 93h0M1230.9 90.8h0M1233.3 90.8h0M1239.3 90.8h0M1239.3 88.9h0M1243.7 88.9h0M1243.7 87h0M1246.5 87h0M1248.1 87h0M1248.1 85.4h0M1252 85.4h0M1265.8 84.5h0M1273 84.5h0M1273 82h0M1277.8 82h0M1277.8 79.3h0M1283 79.3h0M1298.5 78.5h0M1302.6 78.5h0M1302.6 76.8h0M1305.4 76.8h0M1308.6 76.8h0M1308.6 75h0M1315.7 75h0M1319.2 75h0M1319.2 72.5h0M1320.8 72.5h0M1338 71.6h0M1340.3 71.6h0M1340.3 69h0M1345 69h0M1370.7 68.2h0M1371.9 68.2h0M1371.9 65.6h0M1375.9 65.6h0M1379.2 65.6h0M1379.2 63h0M1384.5 63h0M1390.4 63h0M1390.4 61.3h0M1394.8 61.3h0M1401.7 60.4h0M1409.9 60.4h0M1409.9 58.7h0M1410.3 58.7h0M1410.3 56h0M1418.9 56h0M1420.1 56h0M1420.1 53.9h0M1420.5 53.9h0M1420.5 51.8h0M1424.9 51.8h0M1424.9 49.7h0M1426.1 49.7h0M1426.1 47.7h0M1426.9 47.7h0M1426.9 43.6h0M1427.3 43.6h0M1427.3 41.5h0" fill="none" stroke="#bcbd22" stroke-width="7.30" stroke-linecap="round"/>
</g>
<g><path d="M137.8 721.7L137.8 718.4L139.4 718.4L139.4 716.7L139.8 716.7L139.8 715L140.2 715L140.2 711.7L141.4 711.7L141.4 708.3L143.4 708.3L143.4 705L143.8 705L143.8 703.3L145 703.3L145 700L146.2 700L146.2 695L147.8 695L147.8 693.3L148.2 693.3L148.2 690L149.7 690L149.7 688.3L150.5 688.3L150.5 685L151.3 685L151.3 683.3L152.5 683.3L152.5 680L153.3 680L153.3 678.3L154.5 678.3L154.5 676.6L155.7 676.6L155.7 671.4L156.1 671.4L156.1 669.7L157.8 669.7L157.8 668L158.2 668L158.2 664.5L159 664.5L159 662.8L159.4 662.8L159.4 661.1L160.2 661.1L160.2 659.5L161.7 659.5L161.7 656.2L162.9 656.2L162.9 652.9L164.1 652.9L164.1 648L165.2 648L165.2 646.3L166.4 646.3L166.4 643L166.8 643L166.8 641.3L167.2 641.3L167.2 639.6L168.4 639.6L168.4 637.9L169.7 637.9L169.7 634.5L170.9 634.5L170.9 632.8L172.1 632.8L172.1 629.4L173.8 629.4L173.8 626L174.2 626L174.2 624.4L175.4 624.4L175.4 622.7L176.6 622.7L176.6 621.1L176.9 621.1L176.9 619.4L177.7 619.4L177.7 617.8L178.9 617.8L178.9 612.8L180.5 612.8L180.5 611.2L181.6 611.2L181.6 609.5L182 609.5L182 607.9L183.2 607.9L183.2 606.2L184 606.2L184.8 606.2L184.8 604.5L185.2 604.5L185.2 602.8L188.7 602.8L188.7 599.3L189.1 599.3L189.1 597.6L189.5 597.6L189.5 595.9L191.9 595.9L191.9 594.2L193.4 594.2L193.4 590.7L195.4 590.7L195.4 589L195.8 589L196.6 589L196.6 587.3L197.4 587.3L197.4 585.6L197.8 585.6L197.8 583.8L198.2 583.8L198.2 582.1L200.7 582.1L200.7 578.7L202.3 578.7L202.3 575.2L204.8 575.2L204.8 573.5L206 573.5L206 571.8L207.2 571.8L207.2 568.3L207.6 568.3L207.6 566.6L209.2 566.6L209.2 563.2L209.5 563.2L209.5 561.4L211.1 561.4L211.1 559.7L211.9 559.7L211.9 558L212.3 558L213.5 558L213.5 556.2L214.7 556.2L214.7 552.6L217.6 552.6L217.6 550.8L219.2 550.8L219.2 549L220 549L220 547.2L221.3 547.2L221.3 543.6L222.9 543.6L225.3 543.6L225.3 542L225.6 542L225.6 540.3L226 540.3L226 538.7L228 538.7L228 537L229.2 537L229.2 535.4L230.4 535.4L230.4 533.7L231.5 533.7L231.5 532.1L232.7 532.1L232.7 530.4L233.9 530.4L233.9 526.9L236.7 526.9L236.7 525.1L237.5 525.1L237.5 523.3L238.7 523.3L238.7 519.8L241.4 519.8L241.4 518L241.8 518L241.8 516.2L242.6 516.2L242.6 514.5L243 514.5L243 512.7L245 512.7L245.8 512.7L245.8 511L246.6 511L246.6 509.3L247.4 509.3L247.4 507.5L249.4 507.5L249.4 504.1L249.8 504.1L249.8 502.4L252.2 502.4L252.2 497.2L253.8 497.2L254.6 497.2L254.6 495.6L259.3 495.6L259.3 493.9L260.1 493.9L260.1 492.3L263.3 492.3L263.3 490.6L264.9 490.6L266.5 490.6L266.5 488.9L266.9 488.9L266.9 487.2L268.5 487.2L268.5 485.4L270.5 485.4L270.5 483.7L272 483.7L272 480.3L274.4 480.3L274.4 478.5L275.2 478.5L275.2 476.8L276 476.8L276 475.1L276.4 475.1L276.4 473.5L276.8 473.5L276.8 471.9L278.8 471.9L278.8 470.3L279.6 470.3L279.6 468.8L283.6 468.8L283.6 465.6L284.4 465.6L284.4 464L284.8 464L286.8 464L286.8 460.7L290.4 460.7L290.4 459.1L293.2 459.1L293.2 457.4L293.6 457.4L293.6 455.6L298.4 455.6L298.4 453.9L300 453.9L300 452.1L302.9 452.1L302.9 450.4L303.7 450.4L303.7 448.6L306.9 448.6L308.9 448.6L308.9 445.3L309.7 445.3L309.7 443.6L310.1 443.6L310.1 441.9L311.3 441.9L311.3 440.3L312.2 440.3L312.2 438.6L315 438.6L315 435.3L315.8 435.3L316.6 435.3L316.6 433.7L317.9 433.7L317.9 430.5L318.7 430.5L318.7 429L320.3 429L320.3 427.4L321.6 427.4L321.6 425.8L322 425.8L322 424.2L322.4 424.2L322.4 422.6L324 422.6L324 420.9L326.4 420.9L326.4 417.6L328.3 417.6L328.3 414.3L331.1 414.3L331.1 411L333.5 411L334.7 411L334.7 409.4L336.7 409.4L336.7 407.8L339.5 407.8L339.5 406.1L339.9 406.1L339.9 404.5L340.7 404.5L340.7 402.9L341.5 402.9L341.5 401.2L343.1 401.2L343.1 399.6L345.9 399.6L345.9 398L346.3 398L347.9 398L347.9 396.2L349.9 396.2L349.9 394.3L351.8 394.3L351.8 390.7L356.2 390.7L356.2 388.8L357.4 388.8L357.4 387L357.4 385.4L357.8 385.4L357.8 383.7L366.3 383.7L366.3 382.1L370.3 382.1L370.3 380.4L370.7 380.4L371.1 380.4L371.1 378.6L371.5 378.6L371.5 376.8L380.7 376.8L380.7 375.1L381.5 375.1L381.5 373.3L381.9 373.3L381.9 371.5L383.9 371.5L384.7 371.5L384.7 369.7L386.3 369.7L386.3 367.8L390.2 367.8L390.2 364.2L391 364.2L391 362.3L391.8 362.3L391.8 360.5L395 360.5L398.6 360.5L398.6 356.9L401.9 356.9L401.9 355.2L406.3 355.2L406.3 353.4L407.5 353.4L407.5 351.6L408.3 351.6L408.3 349.8L410.3 349.8L410.3 347.9L413.4 347.9L413.4 346.1L414.2 346.1L414.2 344.3L416.2 344.3L416.2 342.4L416.9 342.4L416.9 340.6L419.3 340.6L420.1 340.6L420.1 337.4L422.9 337.4L422.9 335.8L423.3 335.8L423.3 334.3L426.4 334.3L426.4 332.7L428 332.7L428 331.1L428.4 331.1L428.4 329.5L430.4 329.5L432 329.5L432 327.9L432.8 327.9L432.8 326.2L435.9 326.2L435.9 324.6L438.7 324.6L438.7 322.9L441.4 322.9L444.2 322.9L444.2 320.7L456.9 320.7L457.3 320.7L457.3 319.2L461.7 319.2L461.7 317.7L469.4 317.7L469.4 316.2L470.2 316.2L471.4 316.2L471.4 314.4L472.2 314.4L472.2 312.5L475 312.5L475 310.7L475.8 310.7L475.8 308.9L476.6 308.9L476.6 307L477.4 307L477.4 305.2L479 305.2L482.7 305.2L482.7 303.6L483.1 303.6L483.1 301.9L484.7 301.9L484.7 298.6L485.5 298.6L485.5 297L488 297L489.2 297L489.2 295.4L494.8 295.4L494.8 293.8L495.6 293.8L495.6 292.2L503.2 292.2L504.4 292.2L504.4 290.6L507.6 290.6L507.6 289.1L515.9 289.1L515.9 287.5L518.7 287.5L518.7 285.9L523.1 285.9L523.1 280.3L524.7 280.3L524.7 278.5L527.6 278.5L527.6 276.6L528.8 276.6L528.8 274.8L532 274.8L533.2 274.8L533.2 273.1L533.6 273.1L533.6 271.5L535.2 271.5L535.2 269.8L537.2 269.8L537.2 268.1L538.8 268.1L538.8 266.5L540 266.5L540 264.8L541.6 264.8L541.6 261.5L545.2 261.5L546 261.5L546 259.7L546.4 259.7L546.4 258L551.6 258L551.6 256.2L552.9 256.2L552.9 254.5L558.1 254.5L558.1 252.7L558.5 252.7L561.3 252.7L561.3 251.2L563.3 251.2L563.3 249.8L568.9 249.8L568.9 248.3L571.7 248.3L572.1 248.3L572.1 246.6L577.3 246.6L577.3 244.9L582.6 244.9L582.6 243.3L585 243.3L585 241.6L590.6 241.6L590.6 238.3L593.9 238.3L593.9 235L598.3 235L600.3 235L600.3 233.2L603.1 233.2L603.1 231.3L613.8 231.3L613.8 229.5L614.2 229.5L614.2 227.7L620.6 227.7L620.6 225.8L625 225.8L625 224L625.4 224L625.4 222.2L631.3 222.2L631.3 220.4L635.3 220.4L635.3 218.6L636.1 218.6L636.1 216.8L637.6 216.8L637.6 215L640 215L646.7 215L646.7 211.8L651.1 211.8L651.1 210.1L651.5 210.1L651.5 208.5L653.5 208.5L656.7 208.5L656.7 206.8L660.3 206.8L660.3 205.1L665.4 205.1L665.4 203.5L667.4 203.5L667.4 201.8L669 201.8L677.1 201.8L677.1 200.3L680.3 200.3L680.3 198.9L681.5 198.9L681.5 197.4L682.3 197.4L691.6 197.4L691.6 195.9L695.6 195.9L695.6 193L697.2 193L697.2 191.5L701.6 191.5L701.6 190.1L707.6 190.1L707.6 188.6L708.8 188.6L710.8 188.6L710.8 187.1L719.9 187.1L719.9 184L724.3 184L726.3 184L726.3 182L731 182L731 180L735 180L736.6 180L736.6 178.3L741.5 178.3L741.5 176.7L745.1 176.7L745.1 175L745.5 175L751.5 175L751.5 173.5L753.8 173.5L753.8 172.1L755.4 172.1L755.4 170.6L761 170.6L768.6 170.6L768.6 168.9L774.2 168.9L774.2 167.3L776.2 167.3L776.2 165.4L782.3 165.4L782.3 163.6L787.5 163.6L787.5 161.7L790.7 161.7L790.7 159.5L801.4 159.5L801.4 157.3L803 157.3L806.2 157.3L806.2 155.1L812.1 155.1L812.1 152.9L818.5 152.9L819.3 152.9L819.3 151.1L828.1 151.1L828.1 149.2L830.5 149.2L830.5 147.4L831.7 147.4L836.5 147.4L836.5 145.5L839.8 145.5L839.8 143.7L841.8 143.7L841.8 141.8L845 141.8L845 139.6L858.3 139.6L860.3 139.6L860.3 137.9L867.5 137.9L867.5 136.3L871.5 136.3L872.3 136.3L872.3 134.7L872.7 134.7L872.7 133L884.8 133L892.8 133L892.8 131.1L894.4 131.1L894.4 129.3L894.8 129.3L894.8 127.4L898 127.4L901.2 127.4L901.2 125.7L906.5 125.7L906.5 124L911.3 124L924.2 124L924.2 123L924.6 123L928.6 123L928.6 120.8L930.2 120.8L930.2 118.6L937.9 118.6L946.6 118.6L946.6 117.5L951 117.5L951 115.3L964.4 115.3L981.6 115.3L981.6 113.7L982 113.7L982 112L990 112L1005.2 112L1005.2 110.5L1020 110.5L1052 109.6L1054.4 109.6L1054.4 107.6L1055.6 107.6L1055.6 105.5L1068.1 105.5L1068.1 103.5L1069.3 103.5L1069.3 101.5L1072.1 101.5L1072.1 99.4L1074.1 99.4L1074.1 97.4L1078.5 97.4L1083.7 97.4L1083.7 95.7L1085.7 95.7L1085.7 94L1105 94L1117 94L1117 92.2L1119.1 92.2L1119.1 90.4L1127.9 90.4L1127.9 88.6L1131.5 88.6L1136.3 88.6L1136.3 86.3L1149 86.3L1155.4 86.3L1155.4 84.5L1157.8 84.5L1157.8 82.6L1162.2 82.6L1162.2 80.8L1167 80.8L1171.9 80.8L1171.9 79L1174.7 79L1174.7 77.1L1175.1 77.1L1175.1 75.3L1180 75.3L1180.8 75.3L1180.8 73.1L1182.4 73.1L1182.4 70.9L1197.9 70.9L1199.9 70.9L1199.9 67.5L1211 67.5L1233.3 67.5L1255.4 67L1256.2 67L1256.2 64.7L1262.4 64.7L1263.6 64.7L1263.6 63L1270.1 63L1270.1 61.3L1283 61.3L1291.5 61.3L1291.5 58.7L1296.8 58.7L1304.8 58.7L1304.8 57L1312 57L1323.2 57L1323.2 55L1328.8 55L1328.8 53L1340 53L1341.2 53L1341.2 50.5L1356.8 50.5L1356.8 48L1380 48L1382 48L1382 45.8L1399.2 45.8L1399.2 43.7L1418.5 43.7L1418.5 41.5L1427.3 41.5" fill="none" stroke="#17becf" stroke-width="2.67" stroke-linejoin="round" stroke-linecap="square"/>
<path d="M137.8 721.7h0M137.8 718.4h0M139.4 718.4h0M139.4 716.7h0M139.8 716.7h0M139.8 715h0M140.2 715h0M140.2 711.7h0M141.4 711.7h0M141.4 708.3h0M143.4 708.3h0M143.4 705h0M143.8 705h0M143.8 703.3h0M145 703.3h0M145 700h0M146.2 700h0M146.2 695h0M147.8 695h0M147.8 693.3h0M148.2 693.3h0M148.2 690h0M149.7 690h0M149.7 688.3h0M150.5 688.3h0M150.5 685h0M151.3 685h0M151.3 683.3h0M152.5 683.3h0M152.5 680h0M153.3 680h0M153.3 678.3h0M154.5 678.3h0M154.5 676.6h0M155.7 676.6h0M155.7 671.4h0M156.1 671.4h0M156.1 669.7h0M157.8 669.7h0M157.8 668h0M158.2 668h0M158.2 664.5h0M159 664.5h0M159 662.8h0M159.4 662.8h0M159.4 661.1h0M160.2 661.1h0M160.2 659.5h0M161.7 659.5h0M161.7 656.2h0M162.9 656.2h0M162.9 652.9h0M164.1 652.9h0M164.1 648h0M165.2 648h0M165.2 646.3h0M166.4 646.3h0M166.4 643h0M166.8 643h0M166.8 641.3h0M167.2 641.3h0M167.2 639.6h0M168.4 639.6h0M168.4 637.9h0M169.7 637.9h0M169.7 634.5h0M170.9 634.5h0M170.9 632.8h0M172.1 632.8h0M172.1 629.4h0M173.8 629.4h0M173.8 626h0M174.2 626h0M174.2 624.4h0M175.4 624.4h0M175.4 622.7h0M176.6 622.7h0M176.6 621.1h0M176.9 621.1h0M176.9 619.4h0M177.7 619.4h0M177.7 617.8h0M178.9 617.8h0M178.9 612.8h0M180.5 612.8h0M180.5 611.2h0M181.6 611.2h0M181.6 609.5h0M182 609.5h0M182 607.9h0M183.2 607.9h0M183.2 606.2h0M184 606.2h0M184.8 606.2h0M184.8 604.5h0M185.2 604.5h0M185.2 602.8h0M188.7 602.8h0M188.7 599.3h0M189.1 599.3h0M189.1 597.6h0M189.5 597.6h0M189.5 595.9h0M191.9 595.9h0M191.9 594.2h0M193.4 594.2h0M193.4 590.7h0M195.4 590.7h0M195.4 589h0M195.8 589h0M196.6 589h0M196.6 587.3h0M197.4 587.3h0M197.4 585.6h0M197.8 585.6h0M197.8 583.8h0M198.2 583.8h0M198.2 582.1h0M200.7 582.1h0M200.7 578.7h0M202.3 578.7h0M202.3 575.2h0M204.8 575.2h0M204.8 573.5h0M206 573.5h0M206 571.8h0M207.2 571.8h0M207.2 568.3h0M207.6 568.3h0M207.6 566.6h0M209.2 566.6h0M209.2 563.2h0M209.5 563.2h0M209.5 561.4h0M211.1 561.4h0M211.1 559.7h0M211.9 559.7h0M211.9 558h0M212.3 558h0M213.5 558h0M213.5 556.2h0M214.7 556.2h0M214.7 552.6h0M217.6 552.6h0M217.6 550.8h0M219.2 550.8h0M219.2 549h0M220 549h0M220 547.2h0M221.3 547.2h0M221.3 543.6h0M222.9 543.6h0M225.3 543.6h0M225.3 542h0M225.6 542h0M225.6 540.3h0M226 540.3h0M226 538.7h0M228 538.7h0M228 537h0M229.2 537h0M229.2 535.4h0M230.4 535.4h0M230.4 533.7h0M231.5 533.7h0M231.5 532.1h0M232.7 532.1h0M232.7 530.4h0M233.9 530.4h0M233.9 526.9h0M236.7 526.9h0M236.7 525.1h0M237.5 525.1h0M237.5 523.3h0M238.7 523.3h0M238.7 519.8h0M241.4 519.8h0M241.4 518h0M241.8 518h0M241.8 516.2h0M242.6 516.2h0M242.6 514.5h0M243 514.5h0M243 512.7h0M245 512.7h0M245.8 512.7h0M245.8 511h0M246.6 511h0M246.6 509.3h0M247.4 509.3h0M247.4 507.5h0M249.4 507.5h0M249.4 504.1h0M249.8 504.1h0M249.8 502.4h0M252.2 502.4h0M252.2 497.2h0M253.8 497.2h0M254.6 497.2h0M254.6 495.6h0M259.3 495.6h0M259.3 493.9h0M260.1 493.9h0M260.1 492.3h0M263.3 492.3h0M263.3 490.6h0M264.9 490.6h0M266.5 490.6h0M266.5 488.9h0M266.9 488.9h0M266.9 487.2h0M268.5 487.2h0M268.5 485.4h0M270.5 485.4h0M270.5 483.7h0M272 483.7h0M272 480.3h0M274.4 480.3h0M274.4 478.5h0M275.2 478.5h0M275.2 476.8h0M276 476.8h0M276 475.1h0M276.4 475.1h0M276.4 473.5h0M276.8 473.5h0M276.8 471.9h0M278.8 471.9h0M278.8 470.3h0M279.6 470.3h0M279.6 468.8h0M283.6 468.8h0M283.6 465.6h0M284.4 465.6h0M284.4 464h0M284.8 464h0M286.8 464h0M286.8 460.7h0M290.4 460.7h0M290.4 459.1h0M293.2 459.1h0M293.2 457.4h0M293.6 457.4h0M293.6 455.6h0M298.4 455.6h0M298.4 453.9h0M300 453.9h0M300 452.1h0M302.9 452.1h0M302.9 450.4h0M303.7 450.4h0M303.7 448.6h0M306.9 448.6h0M308.9 448.6h0M308.9 445.3h0M309.7 445.3h0M309.7 443.6h0M310.1 443.6h0M310.1 441.9h0M311.3 441.9h0M311.3 440.3h0M312.2 440.3h0M312.2 438.6h0M315 438.6h0M315 435.3h0M315.8 435.3h0M316.6 435.3h0M316.6 433.7h0M317.9 433.7h0M317.9 430.5h0M318.7 430.5h0M318.7 429h0M320.3 429h0M320.3 427.4h0M321.6 427.4h0M321.6 425.8h0M322 425.8h0M322 424.2h0M322.4 424.2h0M322.4 422.6h0M324 422.6h0M324 420.9h0M326.4 420.9h0M326.4 417.6h0M328.3 417.6h0M328.3 414.3h0M331.1 414.3h0M331.1 411h0M333.5 411h0M334.7 411h0M334.7 409.4h0M336.7 409.4h0M336.7 407.8h0M339.5 407.8h0M339.5 406.1h0M339.9 406.1h0M339.9 404.5h0M340.7 404.5h0M340.7 402.9h0M341.5 402.9h0M341.5 401.2h0M343.1 401.2h0M343.1 399.6h0M345.9 399.6h0M345.9 398h0M346.3 398h0M347.9 398h0M347.9 396.2h0M349.9 396.2h0M349.9 394.3h0M351.8 394.3h0M351.8 390.7h0M356.2 390.7h0M356.2 388.8h0M357.4 388.8h0M357.4 387h0M357.4 385.4h0M357.8 385.4h0M357.8 383.7h0M366.3 383.7h0M366.3 382.1h0M370.3 382.1h0M370.3 380.4h0M370.7 380.4h0M371.1 380.4h0M371.1 378.6h0M371.5 378.6h0M371.5 376.8h0M380.7 376.8h0M380.7 375.1h0M381.5 375.1h0M381.5 373.3h0M381.9 373.3h0M381.9 371.5h0M383.9 371.5h0M384.7 371.5h0M384.7 369.7h0M386.3 369.7h0M386.3 367.8h0M390.2 367.8h0M390.2 364.2h0M391 364.2h0M391 362.3h0M391.8 362.3h0M391.8 360.5h0M395 360.5h0M398.6 360.5h0M398.6 356.9h0M401.9 356.9h0M401.9 355.2h0M406.3 355.2h0M406.3 353.4h0M407.5 353.4h0M407.5 351.6h0M408.3 351.6h0M408.3 349.8h0M410.3 349.8h0M410.3 347.9h0M413.4 347.9h0M413.4 346.1h0M414.2 346.1h0M414.2 344.3h0M416.2 344.3h0M416.2 342.4h0M416.9 342.4h0M416.9 340.6h0M419.3 340.6h0M420.1 340.6h0M420.1 337.4h0M422.9 337.4h0M422.9 335.8h0M423.3 335.8h0M423.3 334.3h0M426.4 334.3h0M426.4 332.7h0M428 332.7h0M428 331.1h0M428.4 331.1h0M428.4 329.5h0M430.4 329.5h0M432 329.5h0M432 327.9h0M432.8 327.9h0M432.8 326.2h0M435.9 326.2h0M435.9 324.6h0M438.7 324.6h0M438.7 322.9h0M441.4 322.9h0M444.2 322.9h0M444.2 320.7h0M456.9 320.7h0M457.3 320.7h0M457.3 319.2h0M461.7 319.2h0M461.7 317.7h0M469.4 317.7h0M469.4 316.2h0M470.2 316.2h0M471.4 316.2h0M471.4 314.4h0M472.2 314.4h0M472.2 312.5h0M475 312.5h0M475 310.7h0M475.8 310.7h0M475.8 308.9h0M476.6 308.9h0M476.6 307h0M477.4 307h0M477.4 305.2h0M479 305.2h0M482.7 305.2h0M482.7 303.6h0M483.1 303.6h0M483.1 301.9h0M484.7 301.9h0M484.7 298.6h0M485.5 298.6h0M485.5 297h0M488 297h0M489.2 297h0M489.2 295.4h0M494.8 295.4h0M494.8 293.8h0M495.6 293.8h0M495.6 292.2h0M503.2 292.2h0M504.4 292.2h0M504.4 290.6h0M507.6 290.6h0M507.6 289.1h0M515.9 289.1h0M515.9 287.5h0M518.7 287.5h0M518.7 285.9h0M523.1 285.9h0M523.1 280.3h0M524.7 280.3h0M524.7 278.5h0M527.6 278.5h0M527.6 276.6h0M528.8 276.6h0M528.8 274.8h0M532 274.8h0M533.2 274.8h0M533.2 273.1h0M533.6 273.1h0M533.6 271.5h0M535.2 271.5h0M535.2 269.8h0M537.2 269.8h0M537.2 268.1h0M538.8 268.1h0M538.8 266.5h0M540 266.5h0M540 264.8h0M541.6 264.8h0M541.6 261.5h0M545.2 261.5h0M546 261.5h0M546 259.7h0M546.4 259.7h0M546.4 258h0M551.6 258h0M551.6 256.2h0M552.9 256.2h0M552.9 254.5h0M558.1 254.5h0M558.1 252.7h0M558.5 252.7h0M561.3 252.7h0M561.3 251.2h0M563.3 251.2h0M563.3 249.8h0M568.9 249.8h0M568.9 248.3h0M571.7 248.3h0M572.1 248.3h0M572.1 246.6h0M577.3 246.6h0M577.3 244.9h0M582.6 244.9h0M582.6 243.3h0M585 243.3h0M585 241.6h0M590.6 241.6h0M590.6 238.3h0M593.9 238.3h0M593.9 235h0M598.3 235h0M600.3 235h0M600.3 233.2h0M603.1 233.2h0M603.1 231.3h0M613.8 231.3h0M613.8 229.5h0M614.2 229.5h0M614.2 227.7h0M620.6 227.7h0M620.6 225.8h0M625 225.8h0M625 224h0M625.4 224h0M625.4 222.2h0M631.3 222.2h0M631.3 220.4h0M635.3 220.4h0M635.3 218.6h0M636.1 218.6h0M636.1 216.8h0M637.6 216.8h0M637.6 215h0M640 215h0M646.7 215h0M646.7 211.8h0M651.1 211.8h0M651.1 210.1h0M651.5 210.1h0M651.5 208.5h0M653.5 208.5h0M656.7 208.5h0M656.7 206.8h0M660.3 206.8h0M660.3 205.1h0M665.4 205.1h0M665.4 203.5h0M667.4 203.5h0M667.4 201.8h0M669 201.8h0M677.1 201.8h0M677.1 200.3h0M680.3 200.3h0M680.3 198.9h0M681.5 198.9h0M681.5 197.4h0M682.3 197.4h0M691.6 197.4h0M691.6 195.9h0M695.6 195.9h0M695.6 193h0M697.2 193h0M697.2 191.5h0M701.6 191.5h0M701.6 190.1h0M707.6 190.1h0M707.6 188.6h0M708.8 188.6h0M710.8 188.6h0M710.8 187.1h0M719.9 187.1h0M719.9 184h0M724.3 184h0M726.3 184h0M726.3 182h0M731 182h0M731 180h0M735 180h0M736.6 180h0M736.6 178.3h0M741.5 178.3h0M741.5 176.7h0M745.1 176.7h0M745.1 175h0M745.5 175h0M751.5 175h0M751.5 173.5h0M753.8 173.5h0M753.8 172.1h0M755.4 172.1h0M755.4 170.6h0M761 170.6h0M768.6 170.6h0M768.6 168.9h0M774.2 168.9h0M774.2 167.3h0M776.2 167.3h0M776.2 165.4h0M782.3 165.4h0M782.3 163.6h0M787.5 163.6h0M787.5 161.7h0M790.7 161.7h0M790.7 159.5h0M801.4 159.5h0M801.4 157.3h0M803 157.3h0M806.2 157.3h0M806.2 155.1h0M812.1 155.1h0M812.1 152.9h0M818.5 152.9h0M819.3 152.9h0M819.3 151.1h0M828.1 151.1h0M828.1 149.2h0M830.5 149.2h0M830.5 147.4h0M831.7 147.4h0M836.5 147.4h0M836.5 145.5h0M839.8 145.5h0M839.8 143.7h0M841.8 143.7h0M841.8 141.8h0M845 141.8h0M845 139.6h0M858.3 139.6h0M860.3 139.6h0M860.3 137.9h0M867.5 137.9h0M867.5 136.3h0M871.5 136.3h0M872.3 136.3h0M872.3 134.7h0M872.7 134.7h0M872.7 133h0M884.8 133h0M892.8 133h0M892.8 131.1h0M894.4 131.1h0M894.4 129.3h0M894.8 129.3h0M894.8 127.4h0M898 127.4h0M901.2 127.4h0M901.2 125.7h0M906.5 125.7h0M906.5 124h0M911.3 124h0M924.2 124h0M924.2 123h0M924.6 123h0M928.6 123h0M928.6 120.8h0M930.2 120.8h0M930.2 118.6h0M937.9 118.6h0M946.6 118.6h0M946.6 117.5h0M951 117.5h0M951 115.3h0M964.4 115.3h0M981.6 115.3h0M981.6 113.7h0M982 113.7h0M982 112h0M990 112h0M1005.2 112h0M1005.2 110.5h0M1020 110.5h0M1052 109.6h0M1054.4 109.6h0M1054.4 107.6h0M1055.6 107.6h0M1055.6 105.5h0M1068.1 105.5h0M1068.1 103.5h0M1069.3 103.5h0M1069.3 101.5h0M1072.1 101.5h0M1072.1 99.4h0M1074.1 99.4h0M1074.1 97.4h0M1078.5 97.4h0M1083.7 97.4h0M1083.7 95.7h0M1085.7 95.7h0M1085.7 94h0M1105 94h0M1117 94h0M1117 92.2h0M1119.1 92.2h0M1119.1 90.4h0M1127.9 90.4h0M1127.9 88.6h0M1131.5 88.6h0M1136.3 88.6h0M1136.3 86.3h0M1149 86.3h0M1155.4 86.3h0M1155.4 84.5h0M1157.8 84.5h0M1157.8 82.6h0M1162.2 82.6h0M1162.2 80.8h0M1167 80.8h0M1171.9 80.8h0M1171.9 79h0M1174.7 79h0M1174.7 77.1h0M1175.1 77.1h0M1175.1 75.3h0M1180 75.3h0M1180.8 75.3h0M1180.8 73.1h0M1182.4 73.1h0M1182.4 70.9h0M1197.9 70.9h0M1199.9 70.9h0M1199.9 67.5h0M1211 67.5h0M1233.3 67.5h0M1255.4 67h0M1256.2 67h0M1256.2 64.7h0M1262.4 64.7h0M1263.6 64.7h0M1263.6 63h0M1270.1 63h0M1270.1 61.3h0M1283 61.3h0M1291.5 61.3h0M1291.5 58.7h0M1296.8 58.7h0M1304.8 58.7h0M1304.8 57h0M1312 57h0M1323.2 57h0M1323.2 55h0M1328.8 55h0M1328.8 53h0M1340 53h0M1341.2 53h0M1341.2 50.5h0M1356.8 50.5h0M1356.8 48h0M1380 48h0M1382 48h0M1382 45.8h0M1399.2 45.8h0M1399.2 43.7h0M1418.5 43.7h0M1418.5 41.5h0M1427.3 41.5h0" fill="none" stroke="#17becf" stroke-width="7.30" stroke-linecap="round"/>
</g>
<g><path d="M137.8 721.7L137.8 720L138.2 720L138.2 715L138.7 715L138.7 708.2L139.6 708.2L139.6 703.2L140 703.2L140 701.5L141.2 701.5L141.2 699.7L141.6 699.7L141.6 698L141.9 698L141.9 696.2L142.7 696.2L142.7 692.8L144.3 692.8L144.3 689.3L145.5 689.3L145.5 685.8L145.8 685.8L145.8 684.1L146.2 684.1L146.2 682.3L146.6 682.3L146.6 680.6L147.4 680.6L147.8 680.6L147.8 675.7L148.6 675.7L148.6 672.4L149 672.4L149 670.8L149.4 670.8L149.4 669.2L149.8 669.2L149.8 665.9L150.6 665.9L150.6 661L151 661L151 659.4L151.8 659.4L151.8 656.1L152.7 656.1L152.7 652.8L153.5 652.8L153.5 649.5L154.3 649.5L154.3 644.5L155.6 644.5L155.6 641.2L156 641.2L156 637.9L157.6 637.9L157.6 636.3L158 636.3L158 634.7L158.8 634.7L158.8 631.4L159.2 631.4L159.2 629.8L159.6 629.8L159.6 628.1L160.4 628.1L160.4 626.5L160.8 626.5L160.8 624.9L161.6 624.9L161.6 621.6L162 621.6L162.8 621.6L162.8 618.2L164 618.2L164 616.4L164.8 616.4L164.8 614.7L165.2 614.7L165.2 613L165.6 613L165.6 611.3L167.1 611.3L167.1 607.8L168.7 607.8L168.7 606.1L169.5 606.1L169.5 604.4L170.3 604.4L170.3 602.7L170.7 602.7L170.7 601L171.1 601L171.1 599.2L172.2 599.2L172.2 595.8L173 595.8L173 594.1L173.8 594.1L173.8 592.4L175 592.4L175 590.6L176.1 590.6L176.1 587.2L176.9 587.2L177.3 587.2L177.3 585.5L178.5 585.5L178.5 580.3L180.1 580.3L180.1 578.6L180.9 578.6L180.9 576.9L182.5 576.9L182.5 575.2L182.9 575.2L182.9 573.4L185.3 573.4L185.3 571.7L185.7 571.7L185.7 570L187.3 570L187.3 568.3L187.7 568.3L187.7 566.5L188.8 566.5L188.8 564.8L190 564.8L190 563.1L191.2 563.1L191.2 561.4L192 561.4L192 559.6L194.7 559.6L194.7 557.9L195.5 557.9L195.5 556.2L197.4 556.2L197.4 552.9L197.8 552.9L197.8 551.2L199.4 551.2L199.4 547.9L200.2 547.9L200.2 546.2L201.7 546.2L201.7 544.5L203.3 544.5L203.3 541.2L204.1 541.2L204.1 539.4L204.9 539.4L204.9 535.8L206 535.8L206 534L206.8 534L206.8 532.2L208 532.2L208 528.6L208.4 528.6L208.4 527L209.7 527L209.7 525.4L210.9 525.4L210.9 523.7L212.2 523.7L212.2 522.1L212.6 522.1L215 522.1L215 520.3L215.4 520.3L215.4 518.5L218.7 518.5L218.7 516.7L219.5 516.7L219.5 515L221.1 515L221.1 511.5L222.8 511.5L222.8 508L224 508L224 506.3L225.2 506.3L225.2 502.8L226.9 502.8L226.9 501.1L227.3 501.1L227.3 499.3L228.1 499.3L228.1 497.6L228.5 497.6L231 497.6L231 494.1L231.8 494.1L231.8 492.3L232.2 492.3L232.2 490.6L234.3 490.6L234.3 488.8L235.1 488.8L237.1 488.8L237.1 487.2L238.3 487.2L238.3 485.6L241.5 485.6L241.5 484L242 484L242 482.5L244.8 482.5L244.8 480.9L245.2 480.9L245.2 477.7L248.4 477.7L250.4 477.7L250.4 474.4L252.8 474.4L252.8 472.7L253.6 472.7L253.6 471L256.5 471L256.5 469.4L256.9 469.4L256.9 467.7L259.3 467.7L259.3 466.1L260.1 466.1L260.1 464.4L261.7 464.4L263.7 464.4L263.7 462.6L264.5 462.6L264.5 460.7L265.6 460.7L265.6 458.9L268.8 458.9L268.8 457.1L270.7 457.1L270.7 453.4L272.7 453.4L273.1 453.4L273.1 450.2L276.7 450.2L276.7 448.6L279.4 448.6L279.4 447.1L282.6 447.1L282.6 443.9L283.4 443.9L283.4 442.3L283.8 442.3L283.8 440.5L285.4 440.5L285.4 438.8L291.5 438.8L291.5 437L292.7 437L292.7 435.3L297.1 435.3L297.1 433.5L300.3 433.5L300.3 431.7L302.3 431.7L302.3 429.9L305.4 429.9L305.4 428.2L306.2 428.2L306.2 426.4L307.4 426.4L307.4 424.6L312.6 424.6L312.6 422.9L314.6 422.9L314.6 421.3L315 421.3L315 419.7L316.2 419.7L316.2 418L317 418L317 416.4L319 416.4L319 414.7L320.6 414.7L320.6 413.1L321 413.1L321 411.4L321.4 411.4L321.8 411.4L321.8 408.1L322.6 408.1L322.6 406.5L323.4 406.5L323.4 404.8L324.6 404.8L324.6 401.5L325.4 401.5L325.4 399.9L327 399.9L327 398.2L327.4 398.2L327.4 396.6L329.1 396.6L329.1 395L329.5 395L329.5 393.4L330.3 393.4L330.3 391.8L332 391.8L332.8 391.8L332.8 390L335.6 390L335.6 388.1L337.6 388.1L337.6 386.3L339.3 386.3L339.3 384.5L340.9 384.5L340.9 382.6L341.3 382.6L341.3 380.8L345.3 380.8L345.3 379.2L347.7 379.2L347.7 377.6L350.9 377.6L350.9 376L353.8 376L353.8 374.5L356.6 374.5L356.6 372.9L358.2 372.9L358.2 369.7L358.6 369.7L359 369.7L359 368L360.2 368L360.2 366.4L369.5 366.4L369.5 364.8L371.9 364.8L371.9 363.1L373.9 363.1L373.9 361.3L377.4 361.3L377.4 359.5L380.5 359.5L380.5 357.8L380.9 357.8L380.9 354.2L382.9 354.2L383.3 354.2L383.3 352.5L388.5 352.5L388.5 349.2L389.2 349.2L389.2 347.6L394 347.6L394 345.9L399.2 345.9L399.2 344.3L401.7 344.3L401.7 342.7L404.5 342.7L404.5 341L407.3 341L407.7 341L407.7 339.2L410.9 339.2L410.9 337.4L414.5 337.4L414.5 335.7L417.3 335.7L417.3 332.1L420.5 332.1L421.7 332.1L421.7 330.4L422.5 330.4L422.5 328.8L424.1 328.8L424.1 327.2L424.9 327.2L424.9 325.5L428.4 325.5L428.4 322.2L429.2 322.2L429.2 320.6L429.6 320.6L429.6 318.9L431.6 318.9L437.1 318.9L437.1 313.9L439.9 313.9L439.9 312.2L442.6 312.2L445 312.2L445 308.9L449 308.9L449 307.2L452.3 307.2L452.3 305.6L455.9 305.6L459.5 305.6L459.5 302.1L460.7 302.1L460.7 300.4L462.3 300.4L462.3 298.7L466.4 298.7L466.4 296.9L468.8 296.9L468.8 295.2L469.2 295.2L471.6 295.2L471.6 293.6L473.6 293.6L473.6 291.9L474.4 291.9L474.4 290.3L477.6 290.3L477.6 288.6L478 288.6L478 285.3L480 285.3L480 283.7L482.4 283.7L485.2 283.7L485.2 282L486.8 282L486.8 280.3L490.3 280.3L490.3 278.6L492.3 278.6L492.3 276.9L495.1 276.9L495.1 275.2L495.5 275.2L498.7 275.2L498.7 273.5L500.7 273.5L500.7 271.9L505.6 271.9L505.6 268.6L508.8 268.6L508.8 266.8L514.4 266.8L514.4 265L519.6 265L519.6 261.5L521.6 261.5L521.6 259.7L522 259.7L522 258.1L527.6 258.1L527.6 256.4L528.9 256.4L528.9 254.8L534.9 254.8L534.9 253.1L535.3 253.1L537.3 253.1L537.3 251.3L540.5 251.3L540.5 249.5L540.9 249.5L540.9 247.8L544.4 247.8L544.4 246L544.8 246L544.8 244.2L546.4 244.2L546.4 242.7L552.4 242.7L552.4 241.3L555.3 241.3L555.3 239.8L559.7 239.8L561.7 239.8L561.7 238.3L562.9 238.3L562.9 236.9L563.3 236.9L563.3 235.4L573 235.4L582.6 235.4L582.6 233.8L585.4 233.8L585.4 232.1L586.2 232.1L591 232.1L591 230.6L592.2 230.6L592.2 229.2L600.5 229.2L600.5 227.7L601.7 227.7L604.9 227.7L604.9 225.8L609.4 225.8L609.4 224L612.2 224L612.2 222.1L615 222.1L615.4 222.1L615.4 219.9L628.2 219.9L644 219.9L651.3 219.9L651.3 218L657.3 218L657.3 216.1L661.7 216.1L661.7 213.9L669.3 213.9L669.3 211.7L670.5 211.7L674.1 211.7L674.1 210.2L676.5 210.2L676.5 208.7L677.8 208.7L677.8 207.2L683.8 207.2L695.5 207.2L695.5 205L697.1 205L699.9 205L699.9 203.2L700.7 203.2L700.7 201.5L701.5 201.5L701.5 199.8L704.2 199.8L704.2 196.2L707.4 196.2L707.4 194.5L707.8 194.5L715.4 194.5L715.4 192.3L719.8 192.3L719.8 190.1L721 190.1L724.7 190.1L724.7 186.2L734 186.2L738 186.2L738 184.4L738.4 184.4L738.4 182.7L740.1 182.7L740.1 180.9L744.5 180.9L747.7 180.9L747.7 179.1L754 179.1L754 177.2L760 177.2L760 175.4L768.5 175.4L768.5 173.2L774.6 173.2L774.6 171L775.4 171L785.8 171L785.8 168.8L791 168.8L798.3 168.8L798.3 167.1L800.3 167.1L800.3 165.5L806.4 165.5L816.7 165.5L816.7 163.2L819.1 163.2L819.1 161L821.9 161L824.7 161L824.7 159.2L828.3 159.2L828.3 157.3L833.8 157.3L833.8 155.5L837.4 155.5L844.3 155.5L844.3 153.7L845.5 153.7L845.5 151.8L846.7 151.8L846.7 150L852.8 150L854.4 150L854.4 148.5L857.1 148.5L857.1 147L867 147L880.3 147L880.3 145L884.8 145L884.8 142.8L894 142.8L894 140.7L903.1 140.7L903.1 138.5L904.7 138.5L914.6 138.5L914.6 136.2L915 136.2L915 134L915.8 134L922.1 134L922.1 130.5L934.4 130.5L934.4 128.8L935.6 128.8L935.6 127L940 127L940.4 127L940.4 125L942.8 125L942.8 123L954.9 123L954.9 121L965 121L969.8 121L969.8 119L975.1 119L975.1 117L989.6 117L989.6 115L990 115L992 115L992 113.1L996 113.1L996 111.2L1002 111.2L1002 109.3L1008.4 109.3L1008.4 107.4L1012 107.4L1017.2 107.4L1017.2 105L1034.2 105L1045.9 105L1045.9 102.8L1049.1 102.8L1049.1 100.7L1060.8 100.7L1062.4 100.7L1062.4 99.1L1089.5 99.1L1089.5 97.4L1105 97.4L1114.3 97.4L1114.3 95.2L1115.1 95.2L1115.1 93L1118.3 93L1121.9 93L1121.9 90.8L1129.1 90.8L1129.1 88.6L1131.5 88.6L1149 87.5L1163.9 87.5L1163.9 85.2L1164.7 85.2L1180 84.8L1183.6 84.8L1183.6 82.8L1184.4 82.8L1184.4 80.8L1195.7 80.8L1207.3 80.8L1207.3 78.6L1220 78.6L1237.7 77.5L1247.6 77.5L1247.6 75L1252 75L1257.7 75L1257.7 72.8L1262.6 72.8L1262.6 70.7L1265.8 70.7L1273 70.7L1273 68.2L1284.7 68.2L1288.4 68.2L1288.4 65.6L1296.1 65.6L1296.1 63L1298.5 63L1305.7 63L1305.7 60.9L1310.9 60.9L1310.9 58.7L1315.7 58.7L1319.3 58.7L1319.3 56L1334.6 56L1355.6 56L1355.6 53.5L1360 53.5L1374.8 53.5L1374.8 50L1400 50L1404.4 50L1404.4 47.2L1413.6 47.2L1413.6 44.3L1416.5 44.3L1416.5 41.5L1427.3 41.5" fill="none" stroke="#1f77b4" stroke-width="2.67" stroke-linejoin="round" stroke-linecap="square"/>
<path d="M137.8 721.7h0M137.8 720h0M138.2 720h0M138.2 715h0M138.7 715h0M138.7 708.2h0M139.6 708.2h0M139.6 703.2h0M140 703.2h0M140 701.5h0M141.2 701.5h0M141.2 699.7h0M141.6 699.7h0M141.6 698h0M141.9 698h0M141.9 696.2h0M142.7 696.2h0M142.7 692.8h0M144.3 692.8h0M144.3 689.3h0M145.5 689.3h0M145.5 685.8h0M145.8 685.8h0M145.8 684.1h0M146.2 684.1h0M146.2 682.3h0M146.6 682.3h0M146.6 680.6h0M147.4 680.6h0M147.8 680.6h0M147.8 675.7h0M148.6 675.7h0M148.6 672.4h0M149 672.4h0M149 670.8h0M149.4 670.8h0M149.4 669.2h0M149.8 669.2h0M149.8 665.9h0M150.6 665.9h0M150.6 661h0M151 661h0M151 659.4h0M151.8 659.4h0M151.8 656.1h0M152.7 656.1h0M152.7 652.8h0M153.5 652.8h0M153.5 649.5h0M154.3 649.5h0M154.3 644.5h0M155.6 644.5h0M155.6 641.2h0M156 641.2h0M156 637.9h0M157.6 637.9h0M157.6 636.3h0M158 636.3h0M158 634.7h0M158.8 634.7h0M158.8 631.4h0M159.2 631.4h0M159.2 629.8h0M159.6 629.8h0M159.6 628.1h0M160.4 628.1h0M160.4 626.5h0M160.8 626.5h0M160.8 624.9h0M161.6 624.9h0M161.6 621.6h0M162 621.6h0M162.8 621.6h0M162.8 618.2h0M164 618.2h0M164 616.4h0M164.8 616.4h0M164.8 614.7h0M165.2 614.7h0M165.2 613h0M165.6 613h0M165.6 611.3h0M167.1 611.3h0M167.1 607.8h0M168.7 607.8h0M168.7 606.1h0M169.5 606.1h0M169.5 604.4h0M170.3 604.4h0M170.3 602.7h0M170.7 602.7h0M170.7 601h0M171.1 601h0M171.1 599.2h0M172.2 599.2h0M172.2 595.8h0M173 595.8h0M173 594.1h0M173.8 594.1h0M173.8 592.4h0M175 592.4h0M175 590.6h0M176.1 590.6h0M176.1 587.2h0M176.9 587.2h0M177.3 587.2h0M177.3 585.5h0M178.5 585.5h0M178.5 580.3h0M180.1 580.3h0M180.1 578.6h0M180.9 578.6h0M180.9 576.9h0M182.5 576.9h0M182.5 575.2h0M182.9 575.2h0M182.9 573.4h0M185.3 573.4h0M185.3 571.7h0M185.7 571.7h0M185.7 570h0M187.3 570h0M187.3 568.3h0M187.7 568.3h0M187.7 566.5h0M188.8 566.5h0M188.8 564.8h0M190 564.8h0M190 563.1h0M191.2 563.1h0M191.2 561.4h0M192 561.4h0M192 559.6h0M194.7 559.6h0M194.7 557.9h0M195.5 557.9h0M195.5 556.2h0M197.4 556.2h0M197.4 552.9h0M197.8 552.9h0M197.8 551.2h0M199.4 551.2h0M199.4 547.9h0M200.2 547.9h0M200.2 546.2h0M201.7 546.2h0M201.7 544.5h0M203.3 544.5h0M203.3 541.2h0M204.1 541.2h0M204.1 539.4h0M204.9 539.4h0M204.9 535.8h0M206 535.8h0M206 534h0M206.8 534h0M206.8 532.2h0M208 532.2h0M208 528.6h0M208.4 528.6h0M208.4 527h0M209.7 527h0M209.7 525.4h0M210.9 525.4h0M210.9 523.7h0M212.2 523.7h0M212.2 522.1h0M212.6 522.1h0M215 522.1h0M215 520.3h0M215.4 520.3h0M215.4 518.5h0M218.7 518.5h0M218.7 516.7h0M219.5 516.7h0M219.5 515h0M221.1 515h0M221.1 511.5h0M222.8 511.5h0M222.8 508h0M224 508h0M224 506.3h0M225.2 506.3h0M225.2 502.8h0M226.9 502.8h0M226.9 501.1h0M227.3 501.1h0M227.3 499.3h0M228.1 499.3h0M228.1 497.6h0M228.5 497.6h0M231 497.6h0M231 494.1h0M231.8 494.1h0M231.8 492.3h0M232.2 492.3h0M232.2 490.6h0M234.3 490.6h0M234.3 488.8h0M235.1 488.8h0M237.1 488.8h0M237.1 487.2h0M238.3 487.2h0M238.3 485.6h0M241.5 485.6h0M241.5 484h0M242 484h0M242 482.5h0M244.8 482.5h0M244.8 480.9h0M245.2 480.9h0M245.2 477.7h0M248.4 477.7h0M250.4 477.7h0M250.4 474.4h0M252.8 474.4h0M252.8 472.7h0M253.6 472.7h0M253.6 471h0M256.5 471h0M256.5 469.4h0M256.9 469.4h0M256.9 467.7h0M259.3 467.7h0M259.3 466.1h0M260.1 466.1h0M260.1 464.4h0M261.7 464.4h0M263.7 464.4h0M263.7 462.6h0M264.5 462.6h0M264.5 460.7h0M265.6 460.7h0M265.6 458.9h0M268.8 458.9h0M268.8 457.1h0M270.7 457.1h0M270.7 453.4h0M272.7 453.4h0M273.1 453.4h0M273.1 450.2h0M276.7 450.2h0M276.7 448.6h0M279.4 448.6h0M279.4 447.1h0M282.6 447.1h0M282.6 443.9h0M283.4 443.9h0M283.4 442.3h0M283.8 442.3h0M283.8 440.5h0M285.4 440.5h0M285.4 438.8h0M291.5 438.8h0M291.5 437h0M292.7 437h0M292.7 435.3h0M297.1 435.3h0M297.1 433.5h0M300.3 433.5h0M300.3 431.7h0M302.3 431.7h0M302.3 429.9h0M305.4 429.9h0M305.4 428.2h0M306.2 428.2h0M306.2 426.4h0M307.4 426.4h0M307.4 424.6h0M312.6 424.6h0M312.6 422.9h0M314.6 422.9h0M314.6 421.3h0M315 421.3h0M315 419.7h0M316.2 419.7h0M316.2 418h0M317 418h0M317 416.4h0M319 416.4h0M319 414.7h0M320.6 414.7h0M320.6 413.1h0M321 413.1h0M321 411.4h0M321.4 411.4h0M321.8 411.4h0M321.8 408.1h0M322.6 408.1h0M322.6 406.5h0M323.4 406.5h0M323.4 404.8h0M324.6 404.8h0M324.6 401.5h0M325.4 401.5h0M325.4 399.9h0M327 399.9h0M327 398.2h0M327.4 398.2h0M327.4 396.6h0M329.1 396.6h0M329.1 395h0M329.5 395h0M329.5 393.4h0M330.3 393.4h0M330.3 391.8h0M332 391.8h0M332.8 391.8h0M332.8 390h0M335.6 390h0M335.6 388.1h0M337.6 388.1h0M337.6 386.3h0M339.3 386.3h0M339.3 384.5h0M340.9 384.5h0M340.9 382.6h0M341.3 382.6h0M341.3 380.8h0M345.3 380.8h0M345.3 379.2h0M347.7 379.2h0M347.7 377.6h0M350.9 377.6h0M350.9 376h0M353.8 376h0M353.8 374.5h0M356.6 374.5h0M356.6 372.9h0M358.2 372.9h0M358.2 369.7h0M358.6 369.7h0M359 369.7h0M359 368h0M360.2 368h0M360.2 366.4h0M369.5 366.4h0M369.5 364.8h0M371.9 364.8h0M371.9 363.1h0M373.9 363.1h0M373.9 361.3h0M377.4 361.3h0M377.4 359.5h0M380.5 359.5h0M380.5 357.8h0M380.9 357.8h0M380.9 354.2h0M382.9 354.2h0M383.3 354.2h0M383.3 352.5h0M388.5 352.5h0M388.5 349.2h0M389.2 349.2h0M389.2 347.6h0M394 347.6h0M394 345.9h0M399.2 345.9h0M399.2 344.3h0M401.7 344.3h0M401.7 342.7h0M404.5 342.7h0M404.5 341h0M407.3 341h0M407.7 341h0M407.7 339.2h0M410.9 339.2h0M410.9 337.4h0M414.5 337.4h0M414.5 335.7h0M417.3 335.7h0M417.3 332.1h0M420.5 332.1h0M421.7 332.1h0M421.7 330.4h0M422.5 330.4h0M422.5 328.8h0M424.1 328.8h0M424.1 327.2h0M424.9 327.2h0M424.9 325.5h0M428.4 325.5h0M428.4 322.2h0M429.2 322.2h0M429.2 320.6h0M429.6 320.6h0M429.6 318.9h0M431.6 318.9h0M437.1 318.9h0M437.1 313.9h0M439.9 313.9h0M439.9 312.2h0M442.6 312.2h0M445 312.2h0M445 308.9h0M449 308.9h0M449 307.2h0M452.3 307.2h0M452.3 305.6h0M455.9 305.6h0M459.5 305.6h0M459.5 302.1h0M460.7 302.1h0M460.7 300.4h0M462.3 300.4h0M462.3 298.7h0M466.4 298.7h0M466.4 296.9h0M468.8 296.9h0M468.8 295.2h0M469.2 295.2h0M471.6 295.2h0M471.6 293.6h0M473.6 293.6h0M473.6 291.9h0M474.4 291.9h0M474.4 290.3h0M477.6 290.3h0M477.6 288.6h0M478 288.6h0M478 285.3h0M480 285.3h0M480 283.7h0M482.4 283.7h0M485.2 283.7h0M485.2 282h0M486.8 282h0M486.8 280.3h0M490.3 280.3h0M490.3 278.6h0M492.3 278.6h0M492.3 276.9h0M495.1 276.9h0M495.1 275.2h0M495.5 275.2h0M498.7 275.2h0M498.7 273.5h0M500.7 273.5h0M500.7 271.9h0M505.6 271.9h0M505.6 268.6h0M508.8 268.6h0M508.8 266.8h0M514.4 266.8h0M514.4 265h0M519.6 265h0M519.6 261.5h0M521.6 261.5h0M521.6 259.7h0M522 259.7h0M522 258.1h0M527.6 258.1h0M527.6 256.4h0M528.9 256.4h0M528.9 254.8h0M534.9 254.8h0M534.9 253.1h0M535.3 253.1h0M537.3 253.1h0M537.3 251.3h0M540.5 251.3h0M540.5 249.5h0M540.9 249.5h0M540.9 247.8h0M544.4 247.8h0M544.4 246h0M544.8 246h0M544.8 244.2h0M546.4 244.2h0M546.4 242.7h0M552.4 242.7h0M552.4 241.3h0M555.3 241.3h0M555.3 239.8h0M559.7 239.8h0M561.7 239.8h0M561.7 238.3h0M562.9 238.3h0M562.9 236.9h0M563.3 236.9h0M563.3 235.4h0M573 235.4h0M582.6 235.4h0M582.6 233.8h0M585.4 233.8h0M585.4 232.1h0M586.2 232.1h0M591 232.1h0M591 230.6h0M592.2 230.6h0M592.2 229.2h0M600.5 229.2h0M600.5 227.7h0M601.7 227.7h0M604.9 227.7h0M604.9 225.8h0M609.4 225.8h0M609.4 224h0M612.2 224h0M612.2 222.1h0M615 222.1h0M615.4 222.1h0M615.4 219.9h0M628.2 219.9h0M644 219.9h0M651.3 219.9h0M651.3 218h0M657.3 218h0M657.3 216.1h0M661.7 216.1h0M661.7 213.9h0M669.3 213.9h0M669.3 211.7h0M670.5 211.7h0M674.1 211.7h0M674.1 210.2h0M676.5 210.2h0M676.5 208.7h0M677.8 208.7h0M677.8 207.2h0M683.8 207.2h0M695.5 207.2h0M695.5 205h0M697.1 205h0M699.9 205h0M699.9 203.2h0M700.7 203.2h0M700.7 201.5h0M701.5 201.5h0M701.5 199.8h0M704.2 199.8h0M704.2 196.2h0M707.4 196.2h0M707.4 194.5h0M707.8 194.5h0M715.4 194.5h0M715.4 192.3h0M719.8 192.3h0M719.8 190.1h0M721 190.1h0M724.7 190.1h0M724.7 186.2h0M734 186.2h0M738 186.2h0M738 184.4h0M738.4 184.4h0M738.4 182.7h0M740.1 182.7h0M740.1 180.9h0M744.5 180.9h0M747.7 180.9h0M747.7 179.1h0M754 179.1h0M754 177.2h0M760 177.2h0M760 175.4h0M768.5 175.4h0M768.5 173.2h0M774.6 173.2h0M774.6 171h0M775.4 171h0M785.8 171h0M785.8 168.8h0M791 168.8h0M798.3 168.8h0M798.3 167.1h0M800.3 167.1h0M800.3 165.5h0M806.4 165.5h0M816.7 165.5h0M816.7 163.2h0M819.1 163.2h0M819.1 161h0M821.9 161h0M824.7 161h0M824.7 159.2h0M828.3 159.2h0M828.3 157.3h0M833.8 157.3h0M833.8 155.5h0M837.4 155.5h0M844.3 155.5h0M844.3 153.7h0M845.5 153.7h0M845.5 151.8h0M846.7 151.8h0M846.7 150h0M852.8 150h0M854.4 150h0M854.4 148.5h0M857.1 148.5h0M857.1 147h0M867 147h0M880.3 147h0M880.3 145h0M884.8 145h0M884.8 142.8h0M894 142.8h0M894 140.7h0M903.1 140.7h0M903.1 138.5h0M904.7 138.5h0M914.6 138.5h0M914.6 136.2h0M915 136.2h0M915 134h0M915.8 134h0M922.1 134h0M922.1 130.5h0M934.4 130.5h0M934.4 128.8h0M935.6 128.8h0M935.6 127h0M940 127h0M940.4 127h0M940.4 125h0M942.8 125h0M942.8 123h0M954.9 123h0M954.9 121h0M965 121h0M969.8 121h0M969.8 119h0M975.1 119h0M975.1 117h0M989.6 117h0M989.6 115h0M990 115h0M992 115h0M992 113.1h0M996 113.1h0M996 111.2h0M1002 111.2h0M1002 109.3h0M1008.4 109.3h0M1008.4 107.4h0M1012 107.4h0M1017.2 107.4h0M1017.2 105h0M1034.2 105h0M1045.9 105h0M1045.9 102.8h0M1049.1 102.8h0M1049.1 100.7h0M1060.8 100.7h0M1062.4 100.7h0M1062.4 99.1h0M1089.5 99.1h0M1089.5 97.4h0M1105 97.4h0M1114.3 97.4h0M1114.3 95.2h0M1115.1 95.2h0M1115.1 93h0M1118.3 93h0M1121.9 93h0M1121.9 90.8h0M1129.1 90.8h0M1129.1 88.6h0M1131.5 88.6h0M1149 87.5h0M1163.9 87.5h0M1163.9 85.2h0M1164.7 85.2h0M1180 84.8h0M1183.6 84.8h0M1183.6 82.8h0M1184.4 82.8h0M1184.4 80.8h0M1195.7 80.8h0M1207.3 80.8h0M1207.3 78.6h0M1220 78.6h0M1237.7 77.5h0M1247.6 77.5h0M1247.6 75h0M1252 75h0M1257.7 75h0M1257.7 72.8h0M1262.6 72.8h0M1262.6 70.7h0M1265.8 70.7h0M1273 70.7h0M1273 68.2h0M1284.7 68.2h0M1288.4 68.2h0M1288.4 65.6h0M1296.1 65.6h0M1296.1 63h0M1298.5 63h0M1305.7 63h0M1305.7 60.9h0M1310.9 60.9h0M1310.9 58.7h0M1315.7 58.7h0M1319.3 58.7h0M1319.3 56h0M1334.6 56h0M1355.6 56h0M1355.6 53.5h0M1360 53.5h0M1374.8 53.5h0M1374.8 50h0M1400 50h0M1404.4 50h0M1404.4 47.2h0M1413.6 47.2h0M1413.6 44.3h0M1416.5 44.3h0M1416.5 41.5h0M1427.3 41.5h0" fill="none" stroke="#1f77b4" stroke-width="7.30" stroke-linecap="round"/>
</g>
<g><path d="M137.8 721.7L138.6 721.7L138.6 718.4L139.4 718.4L139.4 711.7L139.8 711.7L139.8 710L141 710L141 705L141.8 705L141.8 701.5L142.6 701.5L142.6 699.8L142.9 699.8L142.9 698L143.7 698L143.7 696.3L144.1 696.3L144.1 694.6L144.5 694.6L144.5 692.8L145.7 692.8L145.7 687.6L147.6 687.6L147.6 684.1L148 684.1L148 682.4L148.4 682.4L148.4 679.1L148.8 679.1L148.8 677.5L149.2 677.5L149.2 675.9L149.6 675.9L149.6 672.6L150 672.6L150 669.3L150.4 669.3L150.4 667.7L150.8 667.7L150.8 664.4L152 664.4L152 662.8L152.4 662.8L152.4 661.1L152.8 661.1L152.8 659.5L153.7 659.5L153.7 656.2L154.5 656.2L154.5 649.6L156.2 649.6L156.2 644.7L157 644.7L157 643L157 641.4L157.4 641.4L157.4 639.7L157.8 639.7L157.8 638.1L159 638.1L159 636.5L159.4 636.5L159.4 633.2L159.8 633.2L159.8 631.6L160.6 631.6L160.6 629.9L161.4 629.9L161.4 628.3L161.8 628.3L161.8 625L162.2 625L162.2 623.4L163 623.4L163 620L164.2 620L164.2 616.5L166.9 616.5L166.9 613.1L167.7 613.1L167.7 609.6L168.9 609.6L168.9 607.9L170.5 607.9L170.5 606.2L170.9 606.2L170.9 604.5L171.3 604.5L171.3 602.8L173.2 602.8L173.2 599.3L174 599.3L174 595.9L175.6 595.9L175.6 594.2L176 594.2L176 592.4L176.7 592.4L176.7 590.7L177.1 590.7L177.1 589L177.9 589L177.9 587.3L179.5 587.3L179.5 585.6L179.9 585.6L179.9 583.8L180.3 583.8L180.3 582.1L182.3 582.1L182.3 578.7L183.9 578.7L183.9 575.2L185.9 575.2L185.9 573.5L186.7 573.5L186.7 571.8L187.5 571.8L187.5 570.1L187.9 570.1L187.9 568.3L191.4 568.3L191.4 564.9L193 564.9L193 563.2L193.4 563.2L193.4 561.4L194.9 561.4L194.9 559.7L196.1 559.7L196.1 558L196.5 558L196.5 556.3L198.1 556.3L198.1 554.7L198.8 554.7L198.8 551.3L201.2 551.3L201.2 548L202.7 548L202.7 546.3L203.9 546.3L203.9 544.7L204.3 544.7L204.3 543L204.7 543L204.7 541.2L205.1 541.2L205.1 539.4L207.4 539.4L207.4 532.2L207.8 532.2L207.8 530.4L209 530.4L211.1 530.4L211.1 527.1L211.5 527.1L211.5 525.5L212.8 525.5L212.8 523.9L213.6 523.9L216 523.9L216 522.1L216.8 522.1L216.8 520.3L220.1 520.3L220.1 518.5L220.5 518.5L220.5 516.8L220.9 516.8L220.9 515L223.4 515L223.4 511.6L225.8 511.6L225.8 508.1L226.6 508.1L226.6 506.3L227.5 506.3L227.5 502.9L227.9 502.9L227.9 501.1L228.7 501.1L228.7 499.4L229.5 499.4L229.5 497.6L231.1 497.6L231.1 495.9L233.6 495.9L233.6 494.1L234.4 494.1L234.4 492.4L235.3 492.4L235.3 490.6L236.1 490.6L236.9 490.6L236.9 489L239.7 489L239.7 487.4L243.4 487.4L243.4 485.8L244.2 485.8L244.2 484.3L245 484.3L245 481.1L245.8 481.1L245.8 479.5L249.4 479.5L251.8 479.5L251.8 477.8L252.6 477.8L252.6 476.2L253 476.2L253 474.5L253.4 474.5L253.4 472.8L255.8 472.8L255.8 471.2L256.7 471.2L256.7 469.5L261.1 469.5L261.1 467.9L261.9 467.9L261.9 466.2L262.7 466.2L265.5 466.2L265.5 462.5L266.6 462.5L266.6 458.9L272.5 458.9L272.5 455.2L273.7 455.2L274.1 455.2L274.1 453.6L274.9 453.6L274.9 452L279.6 452L279.6 450.4L280.8 450.4L280.8 448.9L281.2 448.9L281.2 445.7L284.8 445.7L284.8 444.1L287.2 444.1L287.2 442.3L287.6 442.3L287.6 440.6L291.2 440.6L291.2 438.8L293.3 438.8L293.3 437.1L297.3 437.1L297.3 435.3L298.1 435.3L299.3 435.3L299.3 433.5L303.3 433.5L303.3 431.7L308 431.7L308 430L308.4 430L308.4 428.2L309.2 428.2L309.2 426.4L313.6 426.4L314.8 426.4L314.8 424.8L315.6 424.8L315.6 423.1L316 423.1L316 421.5L318 421.5L318 419.8L318.4 419.8L318.4 416.5L321.6 416.5L321.6 413.2L322.4 413.2L322.4 411.6L322.8 411.6L322.8 409.9L325.2 409.9L325.2 403.3L326.4 403.3L326.4 401.7L326.8 401.7L326.8 400L328 400L329.3 400L329.3 396.8L331.3 396.8L331.3 395.2L332.2 395.2L332.2 393.6L333 393.6L335 393.6L335 391.8L337 391.8L337 389.9L339.4 389.9L339.4 386.3L345.9 386.3L345.9 382.6L346.3 382.6L347.9 382.6L347.9 381L348.7 381L348.7 379.4L351.1 379.4L351.1 377.8L354 377.8L354 376.3L355.6 376.3L355.6 373.1L356 373.1L356 371.5L359.6 371.5L364 371.5L364 368.2L372.5 368.2L372.5 366.6L372.9 366.6L372.9 364.9L376.4 364.9L376.4 363.1L378.4 363.1L378.4 361.3L379.6 361.3L379.6 359.6L383.5 359.6L383.5 356L383.9 356L388.7 356L388.7 354.4L389.5 354.4L389.5 352.7L391 352.7L391 351.1L392.2 351.1L392.2 349.4L395 349.4L395.4 349.4L395.4 347.8L396.2 347.8L396.2 346.1L403.9 346.1L403.9 344.5L404.3 344.5L404.3 342.8L408.3 342.8L409.9 342.8L409.9 341L410.7 341L410.7 339.2L415.9 339.2L415.9 337.5L417.9 337.5L417.9 335.7L419.5 335.7L419.5 333.9L421.5 333.9L421.5 332.2L422.7 332.2L422.7 330.6L424.7 330.6L424.7 329L425.1 329L425.1 327.3L427.8 327.3L427.8 325.7L429 325.7L429 324L430.2 324L430.2 322.4L430.6 322.4L430.6 320.7L432.6 320.7L434.2 320.7L434.2 319L436.9 319L436.9 317.3L438.9 317.3L438.9 315.7L442.8 315.7L442.8 314L443.6 314L445.6 314L445.6 312.4L448 312.4L448 310.7L452.1 310.7L452.1 309.1L452.9 309.1L452.9 307.4L456.9 307.4L459.3 307.4L459.3 305.7L461.3 305.7L461.3 303.9L462.1 303.9L462.1 302.2L463.8 302.2L463.8 300.5L466.2 300.5L466.2 298.7L468.6 298.7L468.6 297L470.2 297L471 297L471 295.4L472.6 295.4L472.6 293.7L479 293.7L479 290.4L481.4 290.4L481.4 288.8L482.6 288.8L482.6 287.1L483 287.1L483 285.5L483.4 285.5L488.2 285.5L488.2 283.8L489 283.8L489 282.1L489.8 282.1L489.8 280.4L492.9 280.4L492.9 278.7L496.1 278.7L496.1 277L496.5 277L497.3 277L497.3 275.4L498.9 275.4L498.9 273.7L503.8 273.7L503.8 272.1L509.8 272.1L509.8 270.4L512.6 270.4L512.6 268.6L515 268.6L515 266.8L520.6 266.8L520.6 265.1L521.8 265.1L521.8 261.5L523 261.5L523.8 261.5L523.8 259.9L525.4 259.9L525.4 258.2L533.5 258.2L533.5 256.6L534.7 256.6L534.7 254.9L536.3 254.9L539.1 254.9L539.1 251.3L541.9 251.3L541.9 249.6L544.6 249.6L544.6 247.8L546.2 247.8L546.2 246L547.4 246L550.6 246L550.6 244.5L553.8 244.5L553.8 243.1L559.5 243.1L559.5 241.6L560.7 241.6L563.9 241.6L563.9 240.1L566.3 240.1L566.3 238.7L568.4 238.7L568.4 237.2L574 237.2L584.8 237.2L584.8 235.6L587.2 235.6L587.2 233.9L592 233.9L592 232.4L601.9 232.4L601.9 229.5L602.7 229.5L612.4 229.5L612.4 227.6L612.8 227.6L612.8 225.8L614.4 225.8L614.4 223.9L616 223.9L627.6 223.9L627.6 221.7L629.2 221.7L636.1 221.7L636.1 219.5L636.5 219.5L636.5 217.3L642.5 217.3L649.4 217.3L649.4 215.1L655 215.1L655 212.9L655.8 212.9L660.6 212.9L660.6 210.7L667.8 210.7L667.8 208.5L669 208.5L671.4 208.5L671.4 207L676.3 207L676.3 205.5L678.3 205.5L678.3 204L682.3 204L694.8 204L694.8 201.8L695.6 201.8L695.6 200L696.8 200L696.8 198.1L698.8 198.1L698.8 196.3L708.8 196.3L712.8 196.3L712.8 194.1L716.8 194.1L716.8 191.9L722 191.9L726.5 191.9L726.5 189.9L728.9 189.9L728.9 188L735 188L738.2 188L738.2 184.5L743.1 184.5L743.1 182.7L745.5 182.7L750.7 182.7L750.7 180.9L755.4 180.9L755.4 179L758.6 179L758.6 177.2L761 177.2L764.6 177.2L764.6 175L771.1 175L771.1 172.8L776.4 172.8L788.8 172.8L788.8 170.6L792 170.6L796.9 170.6L796.9 168.9L802.9 168.9L802.9 167.3L807.4 167.3L814.2 167.3L814.2 165.1L819.7 165.1L819.7 162.8L822.9 162.8L832.8 162.8L832.8 161L836.8 161L836.8 157.3L838.4 157.3L844.5 157.3L844.5 155.5L845.7 155.5L845.7 153.6L850.2 153.6L850.2 151.8L853.8 151.8L866.6 151.8L866.6 149.6L867 149.6L880.4 149.6L891.9 149.6L891.9 147.4L907 147.4L907 143.7L916 143.7L916 141.8L918 141.8L920.8 141.8L920.8 139.6L923.2 139.6L923.2 137.4L926 137.4L926 135.2L937.9 135.2L937.9 133L947.4 133L947.4 130.8L951.8 130.8L951.8 128.6L953.4 128.6L957.5 128.6L957.5 126.9L959.9 126.9L959.9 125.2L968.8 125.2L970 125.2L970 123.6L981.5 123.6L981.5 122L991 122L998.9 122L998.9 120.2L1000.9 120.2L1000.9 118.4L1003.3 118.4L1007.7 118.4L1007.7 114.7L1010.9 114.7L1010.9 112.9L1016.5 112.9L1019.3 112.9L1019.3 111.2L1029 111.2L1029 109.6L1029.8 109.6L1036.2 109.6L1036.2 108.5L1049.7 108.5L1051.7 108.5L1051.7 106.8L1052.9 106.8L1052.9 105L1067.4 105L1079.6 104L1105 102.3L1105 99.6L1118.3 99.6L1126.2 99.6L1126.2 96.3L1129.3 96.3L1137.2 96.3L1137.2 94L1140.4 94L1143.6 94L1143.6 91.9L1153.6 91.9L1182.4 90.3L1194.8 90.3L1194.8 87.4L1200 87.4L1206.9 87.4L1206.9 85.2L1215 85.2L1215 83L1217.8 83L1235.1 83L1235.1 80.8L1244.3 80.8L1252.6 80.8L1252.6 79.3L1257 79.3L1267.5 78.5L1271.9 78.5L1271.9 73.3L1277.8 73.3L1282.6 73.3L1282.6 71.6L1295 71.6L1301.2 71.6L1301.2 67.3L1302 67.3L1312.4 67.3L1312.4 65.6L1314 65.6L1322.8 65.6L1322.8 63.4L1324.8 63.4L1324.8 61.3L1326 61.3L1329.2 61.3L1329.2 59.6L1341.5 59.6L1349.2 59.6L1349.2 57.8L1350 57.8L1370.7 57L1371.5 57L1371.5 54.4L1384.5 54.4L1386.1 54.4L1386.1 51.8L1400 51.8L1402.8 51.8L1402.8 48.4L1422.3 48.4L1423.1 48.4L1423.1 45L1423.6 45L1423.6 41.5L1427.3 41.5" fill="none" stroke="#ff7f0e" stroke-width="2.67" stroke-linejoin="round" stroke-linecap="square"/>
<path d="M137.8 721.7h0M138.6 721.7h0M138.6 718.4h0M139.4 718.4h0M139.4 711.7h0M139.8 711.7h0M139.8 710h0M141 710h0M141 705h0M141.8 705h0M141.8 701.5h0M142.6 701.5h0M142.6 699.8h0M142.9 699.8h0M142.9 698h0M143.7 698h0M143.7 696.3h0M144.1 696.3h0M144.1 694.6h0M144.5 694.6h0M144.5 692.8h0M145.7 692.8h0M145.7 687.6h0M147.6 687.6h0M147.6 684.1h0M148 684.1h0M148 682.4h0M148.4 682.4h0M148.4 679.1h0M148.8 679.1h0M148.8 677.5h0M149.2 677.5h0M149.2 675.9h0M149.6 675.9h0M149.6 672.6h0M150 672.6h0M150 669.3h0M150.4 669.3h0M150.4 667.7h0M150.8 667.7h0M150.8 664.4h0M152 664.4h0M152 662.8h0M152.4 662.8h0M152.4 661.1h0M152.8 661.1h0M152.8 659.5h0M153.7 659.5h0M153.7 656.2h0M154.5 656.2h0M154.5 649.6h0M156.2 649.6h0M156.2 644.7h0M157 644.7h0M157 643h0M157 641.4h0M157.4 641.4h0M157.4 639.7h0M157.8 639.7h0M157.8 638.1h0M159 638.1h0M159 636.5h0M159.4 636.5h0M159.4 633.2h0M159.8 633.2h0M159.8 631.6h0M160.6 631.6h0M160.6 629.9h0M161.4 629.9h0M161.4 628.3h0M161.8 628.3h0M161.8 625h0M162.2 625h0M162.2 623.4h0M163 623.4h0M163 620h0M164.2 620h0M164.2 616.5h0M166.9 616.5h0M166.9 613.1h0M167.7 613.1h0M167.7 609.6h0M168.9 609.6h0M168.9 607.9h0M170.5 607.9h0M170.5 606.2h0M170.9 606.2h0M170.9 604.5h0M171.3 604.5h0M171.3 602.8h0M173.2 602.8h0M173.2 599.3h0M174 599.3h0M174 595.9h0M175.6 595.9h0M175.6 594.2h0M176 594.2h0M176 592.4h0M176.7 592.4h0M176.7 590.7h0M177.1 590.7h0M177.1 589h0M177.9 589h0M177.9 587.3h0M179.5 587.3h0M179.5 585.6h0M179.9 585.6h0M179.9 583.8h0M180.3 583.8h0M180.3 582.1h0M182.3 582.1h0M182.3 578.7h0M183.9 578.7h0M183.9 575.2h0M185.9 575.2h0M185.9 573.5h0M186.7 573.5h0M186.7 571.8h0M187.5 571.8h0M187.5 570.1h0M187.9 570.1h0M187.9 568.3h0M191.4 568.3h0M191.4 564.9h0M193 564.9h0M193 563.2h0M193.4 563.2h0M193.4 561.4h0M194.9 561.4h0M194.9 559.7h0M196.1 559.7h0M196.1 558h0M196.5 558h0M196.5 556.3h0M198.1 556.3h0M198.1 554.7h0M198.8 554.7h0M198.8 551.3h0M201.2 551.3h0M201.2 548h0M202.7 548h0M202.7 546.3h0M203.9 546.3h0M203.9 544.7h0M204.3 544.7h0M204.3 543h0M204.7 543h0M204.7 541.2h0M205.1 541.2h0M205.1 539.4h0M207.4 539.4h0M207.4 532.2h0M207.8 532.2h0M207.8 530.4h0M209 530.4h0M211.1 530.4h0M211.1 527.1h0M211.5 527.1h0M211.5 525.5h0M212.8 525.5h0M212.8 523.9h0M213.6 523.9h0M216 523.9h0M216 522.1h0M216.8 522.1h0M216.8 520.3h0M220.1 520.3h0M220.1 518.5h0M220.5 518.5h0M220.5 516.8h0M220.9 516.8h0M220.9 515h0M223.4 515h0M223.4 511.6h0M225.8 511.6h0M225.8 508.1h0M226.6 508.1h0M226.6 506.3h0M227.5 506.3h0M227.5 502.9h0M227.9 502.9h0M227.9 501.1h0M228.7 501.1h0M228.7 499.4h0M229.5 499.4h0M229.5 497.6h0M231.1 497.6h0M231.1 495.9h0M233.6 495.9h0M233.6 494.1h0M234.4 494.1h0M234.4 492.4h0M235.3 492.4h0M235.3 490.6h0M236.1 490.6h0M236.9 490.6h0M236.9 489h0M239.7 489h0M239.7 487.4h0M243.4 487.4h0M243.4 485.8h0M244.2 485.8h0M244.2 484.3h0M245 484.3h0M245 481.1h0M245.8 481.1h0M245.8 479.5h0M249.4 479.5h0M251.8 479.5h0M251.8 477.8h0M252.6 477.8h0M252.6 476.2h0M253 476.2h0M253 474.5h0M253.4 474.5h0M253.4 472.8h0M255.8 472.8h0M255.8 471.2h0M256.7 471.2h0M256.7 469.5h0M261.1 469.5h0M261.1 467.9h0M261.9 467.9h0M261.9 466.2h0M262.7 466.2h0M265.5 466.2h0M265.5 462.5h0M266.6 462.5h0M266.6 458.9h0M272.5 458.9h0M272.5 455.2h0M273.7 455.2h0M274.1 455.2h0M274.1 453.6h0M274.9 453.6h0M274.9 452h0M279.6 452h0M279.6 450.4h0M280.8 450.4h0M280.8 448.9h0M281.2 448.9h0M281.2 445.7h0M284.8 445.7h0M284.8 444.1h0M287.2 444.1h0M287.2 442.3h0M287.6 442.3h0M287.6 440.6h0M291.2 440.6h0M291.2 438.8h0M293.3 438.8h0M293.3 437.1h0M297.3 437.1h0M297.3 435.3h0M298.1 435.3h0M299.3 435.3h0M299.3 433.5h0M303.3 433.5h0M303.3 431.7h0M308 431.7h0M308 430h0M308.4 430h0M308.4 428.2h0M309.2 428.2h0M309.2 426.4h0M313.6 426.4h0M314.8 426.4h0M314.8 424.8h0M315.6 424.8h0M315.6 423.1h0M316 423.1h0M316 421.5h0M318 421.5h0M318 419.8h0M318.4 419.8h0M318.4 416.5h0M321.6 416.5h0M321.6 413.2h0M322.4 413.2h0M322.4 411.6h0M322.8 411.6h0M322.8 409.9h0M325.2 409.9h0M325.2 403.3h0M326.4 403.3h0M326.4 401.7h0M326.8 401.7h0M326.8 400h0M328 400h0M329.3 400h0M329.3 396.8h0M331.3 396.8h0M331.3 395.2h0M332.2 395.2h0M332.2 393.6h0M333 393.6h0M335 393.6h0M335 391.8h0M337 391.8h0M337 389.9h0M339.4 389.9h0M339.4 386.3h0M345.9 386.3h0M345.9 382.6h0M346.3 382.6h0M347.9 382.6h0M347.9 381h0M348.7 381h0M348.7 379.4h0M351.1 379.4h0M351.1 377.8h0M354 377.8h0M354 376.3h0M355.6 376.3h0M355.6 373.1h0M356 373.1h0M356 371.5h0M359.6 371.5h0M364 371.5h0M364 368.2h0M372.5 368.2h0M372.5 366.6h0M372.9 366.6h0M372.9 364.9h0M376.4 364.9h0M376.4 363.1h0M378.4 363.1h0M378.4 361.3h0M379.6 361.3h0M379.6 359.6h0M383.5 359.6h0M383.5 356h0M383.9 356h0M388.7 356h0M388.7 354.4h0M389.5 354.4h0M389.5 352.7h0M391 352.7h0M391 351.1h0M392.2 351.1h0M392.2 349.4h0M395 349.4h0M395.4 349.4h0M395.4 347.8h0M396.2 347.8h0M396.2 346.1h0M403.9 346.1h0M403.9 344.5h0M404.3 344.5h0M404.3 342.8h0M408.3 342.8h0M409.9 342.8h0M409.9 341h0M410.7 341h0M410.7 339.2h0M415.9 339.2h0M415.9 337.5h0M417.9 337.5h0M417.9 335.7h0M419.5 335.7h0M419.5 333.9h0M421.5 333.9h0M421.5 332.2h0M422.7 332.2h0M422.7 330.6h0M424.7 330.6h0M424.7 329h0M425.1 329h0M425.1 327.3h0M427.8 327.3h0M427.8 325.7h0M429 325.7h0M429 324h0M430.2 324h0M430.2 322.4h0M430.6 322.4h0M430.6 320.7h0M432.6 320.7h0M434.2 320.7h0M434.2 319h0M436.9 319h0M436.9 317.3h0M438.9 317.3h0M438.9 315.7h0M442.8 315.7h0M442.8 314h0M443.6 314h0M445.6 314h0M445.6 312.4h0M448 312.4h0M448 310.7h0M452.1 310.7h0M452.1 309.1h0M452.9 309.1h0M452.9 307.4h0M456.9 307.4h0M459.3 307.4h0M459.3 305.7h0M461.3 305.7h0M461.3 303.9h0M462.1 303.9h0M462.1 302.2h0M463.8 302.2h0M463.8 300.5h0M466.2 300.5h0M466.2 298.7h0M468.6 298.7h0M468.6 297h0M470.2 297h0M471 297h0M471 295.4h0M472.6 295.4h0M472.6 293.7h0M479 293.7h0M479 290.4h0M481.4 290.4h0M481.4 288.8h0M482.6 288.8h0M482.6 287.1h0M483 287.1h0M483 285.5h0M483.4 285.5h0M488.2 285.5h0M488.2 283.8h0M489 283.8h0M489 282.1h0M489.8 282.1h0M489.8 280.4h0M492.9 280.4h0M492.9 278.7h0M496.1 278.7h0M496.1 277h0M496.5 277h0M497.3 277h0M497.3 275.4h0M498.9 275.4h0M498.9 273.7h0M503.8 273.7h0M503.8 272.1h0M509.8 272.1h0M509.8 270.4h0M512.6 270.4h0M512.6 268.6h0M515 268.6h0M515 266.8h0M520.6 266.8h0M520.6 265.1h0M521.8 265.1h0M521.8 261.5h0M523 261.5h0M523.8 261.5h0M523.8 259.9h0M525.4 259.9h0M525.4 258.2h0M533.5 258.2h0M533.5 256.6h0M534.7 256.6h0M534.7 254.9h0M536.3 254.9h0M539.1 254.9h0M539.1 251.3h0M541.9 251.3h0M541.9 249.6h0M544.6 249.6h0M544.6 247.8h0M546.2 247.8h0M546.2 246h0M547.4 246h0M550.6 246h0M550.6 244.5h0M553.8 244.5h0M553.8 243.1h0M559.5 243.1h0M559.5 241.6h0M560.7 241.6h0M563.9 241.6h0M563.9 240.1h0M566.3 240.1h0M566.3 238.7h0M568.4 238.7h0M568.4 237.2h0M574 237.2h0M584.8 237.2h0M584.8 235.6h0M587.2 235.6h0M587.2 233.9h0M592 233.9h0M592 232.4h0M601.9 232.4h0M601.9 229.5h0M602.7 229.5h0M612.4 229.5h0M612.4 227.6h0M612.8 227.6h0M612.8 225.8h0M614.4 225.8h0M614.4 223.9h0M616 223.9h0M627.6 223.9h0M627.6 221.7h0M629.2 221.7h0M636.1 221.7h0M636.1 219.5h0M636.5 219.5h0M636.5 217.3h0M642.5 217.3h0M649.4 217.3h0M649.4 215.1h0M655 215.1h0M655 212.9h0M655.8 212.9h0M660.6 212.9h0M660.6 210.7h0M667.8 210.7h0M667.8 208.5h0M669 208.5h0M671.4 208.5h0M671.4 207h0M676.3 207h0M676.3 205.5h0M678.3 205.5h0M678.3 204h0M682.3 204h0M694.8 204h0M694.8 201.8h0M695.6 201.8h0M695.6 200h0M696.8 200h0M696.8 198.1h0M698.8 198.1h0M698.8 196.3h0M708.8 196.3h0M712.8 196.3h0M712.8 194.1h0M716.8 194.1h0M716.8 191.9h0M722 191.9h0M726.5 191.9h0M726.5 189.9h0M728.9 189.9h0M728.9 188h0M735 188h0M738.2 188h0M738.2 184.5h0M743.1 184.5h0M743.1 182.7h0M745.5 182.7h0M750.7 182.7h0M750.7 180.9h0M755.4 180.9h0M755.4 179h0M758.6 179h0M758.6 177.2h0M761 177.2h0M764.6 177.2h0M764.6 175h0M771.1 175h0M771.1 172.8h0M776.4 172.8h0M788.8 172.8h0M788.8 170.6h0M792 170.6h0M796.9 170.6h0M796.9 168.9h0M802.9 168.9h0M802.9 167.3h0M807.4 167.3h0M814.2 167.3h0M814.2 165.1h0M819.7 165.1h0M819.7 162.8h0M822.9 162.8h0M832.8 162.8h0M832.8 161h0M836.8 161h0M836.8 157.3h0M838.4 157.3h0M844.5 157.3h0M844.5 155.5h0M845.7 155.5h0M845.7 153.6h0M850.2 153.6h0M850.2 151.8h0M853.8 151.8h0M866.6 151.8h0M866.6 149.6h0M867 149.6h0M880.4 149.6h0M891.9 149.6h0M891.9 147.4h0M907 147.4h0M907 143.7h0M916 143.7h0M916 141.8h0M918 141.8h0M920.8 141.8h0M920.8 139.6h0M923.2 139.6h0M923.2 137.4h0M926 137.4h0M926 135.2h0M937.9 135.2h0M937.9 133h0M947.4 133h0M947.4 130.8h0M951.8 130.8h0M951.8 128.6h0M953.4 128.6h0M957.5 128.6h0M957.5 126.9h0M959.9 126.9h0M959.9 125.2h0M968.8 125.2h0M970 125.2h0M970 123.6h0M981.5 123.6h0M981.5 122h0M991 122h0M998.9 122h0M998.9 120.2h0M1000.9 120.2h0M1000.9 118.4h0M1003.3 118.4h0M1007.7 118.4h0M1007.7 114.7h0M1010.9 114.7h0M1010.9 112.9h0M1016.5 112.9h0M1019.3 112.9h0M1019.3 111.2h0M1029 111.2h0M1029 109.6h0M1029.8 109.6h0M1036.2 109.6h0M1036.2 108.5h0M1049.7 108.5h0M1051.7 108.5h0M1051.7 106.8h0M1052.9 106.8h0M1052.9 105h0M1067.4 105h0M1079.6 104h0M1105 102.3h0M1105 99.6h0M1118.3 99.6h0M1126.2 99.6h0M1126.2 96.3h0M1129.3 96.3h0M1137.2 96.3h0M1137.2 94h0M1140.4 94h0M1143.6 94h0M1143.6 91.9h0M1153.6 91.9h0M1182.4 90.3h0M1194.8 90.3h0M1194.8 87.4h0M1200 87.4h0M1206.9 87.4h0M1206.9 85.2h0M1215 85.2h0M1215 83h0M1217.8 83h0M1235.1 83h0M1235.1 80.8h0M1244.3 80.8h0M1252.6 80.8h0M1252.6 79.3h0M1257 79.3h0M1267.5 78.5h0M1271.9 78.5h0M1271.9 73.3h0M1277.8 73.3h0M1282.6 73.3h0M1282.6 71.6h0M1295 71.6h0M1301.2 71.6h0M1301.2 67.3h0M1302 67.3h0M1312.4 67.3h0M1312.4 65.6h0M1314 65.6h0M1322.8 65.6h0M1322.8 63.4h0M1324.8 63.4h0M1324.8 61.3h0M1326 61.3h0M1329.2 61.3h0M1329.2 59.6h0M1341.5 59.6h0M1349.2 59.6h0M1349.2 57.8h0M1350 57.8h0M1370.7 57h0M1371.5 57h0M1371.5 54.4h0M1384.5 54.4h0M1386.1 54.4h0M1386.1 51.8h0M1400 51.8h0M1402.8 51.8h0M1402.8 48.4h0M1422.3 48.4h0M1423.1 48.4h0M1423.1 45h0M1423.6 45h0M1423.6 41.5h0M1427.3 41.5h0" fill="none" stroke="#ff7f0e" stroke-width="7.30" stroke-linecap="round"/>
</g>
<g><path d="M137.8 721.7L137.8 721.2L138.6 721.2L138.6 710.2L139 710.2L139 703L139.4 703L139.4 700.3L139.8 700.3L139.8 699.7L140.2 699.7L140.2 694.7L140.6 694.7L140.6 690.8L141.4 690.8L141.4 688.6L141.8 688.6L141.8 688L142.2 688L142.2 683.1L142.6 683.1L142.6 680.3L143 680.3L143 677.5L143.4 677.5L143.4 677L143.8 677L143.8 674.2L144.2 674.2L144.2 666.1L144.6 666.1L144.6 662.3L145.1 662.3L145.1 660.6L145.5 660.6L145.5 653L145.9 653L145.9 651.9L146.7 651.9L146.7 647.5L147.1 647.5L147.1 646.4L147.5 646.4L147.5 643.7L147.9 643.7L147.9 641L148.3 641L148.3 636.6L149.2 636.6L149.2 635.5L149.6 635.5L149.6 632.8L150 632.8L150 629.5L150.4 629.5L150.4 628.4L150.8 628.4L150.8 626.2L151.2 626.2L151.2 625.7L151.6 625.7L151.6 624L152 624L152 621.8L152.4 621.8L152.4 620.2L152.8 620.2L152.8 618L153.2 618L153.2 616.4L153.7 616.4L153.7 613.6L154.1 613.6L154.1 612L154.9 612L154.9 607.6L155.3 607.6L155.3 606L155.7 606L155.7 603.8L155.7 603.3L156.1 603.3L156.1 601.6L156.5 601.6L156.5 599.4L157.2 599.4L157.2 595.6L158 595.6L158 592.3L158.4 592.3L158.4 591.8L158.8 591.8L158.8 590.1L159.2 590.1L159.2 589.6L159.6 589.6L159.6 586.9L160 586.9L160 585.8L160.3 585.8L160.3 584.1L160.7 584.1L160.7 583L161.1 583L161.1 581.9L161.5 581.9L161.5 579.2L161.9 579.2L161.9 577.5L162.3 577.5L162.3 575.9L162.7 575.9L162.7 573.7L163.1 573.7L163.1 572.6L163.5 572.6L163.5 571.5L163.9 571.5L163.9 570.4L164.3 570.4L164.3 567.6L164.7 567.6L164.7 566.5L165.1 566.5L165.1 563.2L165.9 563.2L165.9 562.1L166.7 562.1L166.7 558.8L167.1 558.8L167.1 557.1L167.5 557.1L167.5 556L167.5 554.4L168.3 554.4L168.3 551.6L168.7 551.6L168.7 550.5L169.1 550.5L169.1 550L169.5 550L169.5 547.8L169.9 547.8L169.9 546.7L170.3 546.7L170.3 545L170.7 545L170.7 543.9L171.4 543.9L171.4 542.3L171.8 542.3L171.8 539.5L172.2 539.5L172.2 538.4L172.6 538.4L172.6 537.9L173 537.9L173 536.2L173.4 536.2L173.4 535.7L173.8 535.7L173.8 535.1L174.2 535.1L174.2 533.5L174.6 533.5L174.6 531.9L175 531.9L175 530.8L175.4 530.8L175.4 529.7L176.1 529.7L176.1 528L176.5 528L176.5 527.5L176.9 527.5L176.9 526.4L177.3 526.4L177.3 525.3L177.7 525.3L177.7 523.6L178.1 523.6L178.1 523.1L178.5 523.1L178.5 521.5L178.9 521.5L178.9 520.9L179.3 520.9L179.3 519.3L179.7 519.3L179.7 517.1L180.8 517.1L180.8 516.5L181.2 516.5L181.2 514.9L181.6 514.9L181.6 514.3L182 514.3L182 512.7L182.4 512.7L182.4 512.1L182.8 512.1L182.8 510.5L183.2 510.5L183.2 509.4L183.6 509.4L183.6 508.3L184.4 508.3L184.4 506.1L185.2 506.1L185.2 505.5L186.1 505.5L186.1 503.3L186.5 503.3L186.5 502.7L186.9 502.7L186.9 502.2L187.3 502.2L187.3 501.1L188.1 501.1L188.1 499.4L188.9 499.4L188.9 498.3L189.7 498.3L189.7 497.2L190.5 497.2L190.5 496.1L191.3 496.1L191.3 495.5L192.9 495.5L192.9 494.4L193.7 494.4L193.7 493.9L194.5 493.9L194.5 493.3L194.9 493.3L194.9 492.8L197 492.8L197 491.7L198.6 491.7L198.6 491.1L199 491.1L199 490.6L200.2 490.6L200.2 490L201 490L201 489.5L201.8 489.5L201.8 488.4L203 488.4L203.4 488.4L203.4 487.3L203.8 487.3L203.8 486.2L205.7 486.2L205.7 484.5L206.5 484.5L206.5 482.9L207.3 482.9L207.3 481.7L209.3 481.7L209.3 480.1L209.7 480.1L209.7 479.5L210.9 479.5L210.9 479L211.2 479L211.2 478.4L211.6 478.4L211.6 477.9L212 477.9L212 477.3L212.4 477.3L212.4 476.8L212.8 476.8L212.8 475.7L214 475.7L214 475.1L214 474.5L214.8 474.5L214.8 474L215.2 474L215.2 473.4L216 473.4L216 471.8L218 471.8L218 471.2L218.4 471.2L218.4 470.1L219.6 470.1L219.6 469.5L220.3 469.5L220.3 468.4L220.7 468.4L220.7 467.9L221.5 467.9L221.5 467.3L221.9 467.3L221.9 466.8L222.3 466.8L222.3 466.2L222.7 466.2L222.7 465.7L223.5 465.7L223.5 465.1L223.9 465.1L223.9 464L225.1 464L225.1 463.4L225.5 463.4L225.5 462.9L226.3 462.9L226.3 462.3L226.7 462.3L226.7 461.8L227.1 461.8L227.1 460.7L227.5 460.7L227.5 460.1L227.8 460.1L227.8 459L229 459L229 457.9L229.8 457.9L229.8 455.7L230.6 455.7L230.6 455.1L231.4 455.1L231.4 454L231.8 454L231.8 453.5L232.2 453.5L232.2 452.9L233 452.9L233 450.2L234.5 450.2L234.5 448L235.7 448L235.7 447.4L236.1 447.4L236.1 446.3L236.1 445.8L236.5 445.8L236.5 445.2L237.3 445.2L237.3 444.1L238.1 444.1L238.1 443.5L238.5 443.5L238.5 443L238.9 443L238.9 442.4L239.7 442.4L239.7 441.9L240.5 441.9L240.5 440.8L241.3 440.8L241.3 440.2L241.7 440.2L241.7 439.7L242 439.7L242 439.1L242.4 439.1L242.4 438.6L243.2 438.6L243.2 437.5L243.6 437.5L243.6 436.9L244.4 436.9L244.4 436.4L244.8 436.4L244.8 435.8L245.2 435.8L245.2 435.3L245.6 435.3L245.6 434.2L246.4 434.2L246.4 433.6L246.8 433.6L246.8 433.1L247.2 433.1L247.6 433.1L247.6 432.5L248.4 432.5L248.4 432L249.6 432L249.6 431.4L250.4 431.4L250.4 429.8L252.4 429.8L252.4 429.2L253.2 429.2L253.2 428.7L253.6 428.7L253.6 428.1L255.3 428.1L255.3 427.5L255.7 427.5L255.7 427L256.1 427L256.1 426.4L258.5 426.4L258.5 425.3L259.7 425.3L259.7 424.2L260.5 424.2L260.5 423.1L261.3 423.1L261.3 422L263.6 422L263.6 420.9L264.4 420.9L264.4 419.8L264.8 419.8L264.8 419.2L266 419.2L266 418.1L266.4 418.1L266.4 417.6L266.8 417.6L266.8 417L267.2 417L267.2 416.5L268.4 416.5L268.4 415.9L268.8 415.9L268.8 415.4L269.1 415.4L269.1 414.8L270.3 414.8L270.3 413.2L271.5 413.2L271.5 412.6L271.9 412.6L271.9 412.1L272.7 412.1L272.7 411L273.1 411L273.1 409.9L274.3 409.9L274.3 409.3L274.7 409.3L274.7 408.2L275.1 408.2L275.1 407.7L275.9 407.7L275.9 406.6L276.3 406.6L276.3 405.4L277.1 405.4L277.1 404.9L277.8 404.9L277.8 404.3L278.6 404.3L278.6 402.7L279.4 402.7L279.4 402.1L279.8 402.1L279.8 401.6L280.2 401.6L280.2 400.5L281 400.5L281 399.4L281.4 399.4L281.4 398.8L282.2 398.8L282.2 397.7L282.6 397.7L283.4 397.7L283.4 396.6L285 396.6L285 396.1L285.4 396.1L285.4 395.5L286.6 395.5L286.6 395L287 395L287 394.5L288.6 394.5L288.6 393.4L289.8 393.4L289.8 392.8L290.2 392.8L290.2 391.7L290.6 391.7L290.6 391.2L292.2 391.2L292.2 390.7L292.6 390.7L292.6 390.1L293.4 390.1L293.4 389.6L293.8 389.6L293.8 389L295 389L295 388.5L295.4 388.5L295.4 387.4L297.4 387.4L297.4 386.9L298.2 386.9L298.2 386.3L299 386.3L299 385.8L299.4 385.8L299.4 385.3L299.8 385.3L299.8 384.7L301.3 384.7L301.3 384.2L301.7 384.2L301.7 383.6L302.9 383.6L302.9 383.1L303.7 383.1L303.7 382L306.5 382L306.5 380.4L306.5 379.8L306.9 379.8L306.9 379.3L307.7 379.3L307.7 378.7L308.5 378.7L308.5 377.1L310.5 377.1L310.5 376L311.3 376L311.3 374.9L312.5 374.9L312.5 373.7L313.8 373.7L313.8 372.6L314.2 372.6L314.2 372.1L315 372.1L315 371.5L315.8 371.5L315.8 370.4L316.6 370.4L316.6 369.9L317 369.9L317 369.3L318.2 369.3L318.2 368.8L318.6 368.8L318.6 368.2L319.4 368.2L319.4 367.1L319.8 367.1L320.2 367.1L320.2 366L320.6 366L320.6 364.9L321.8 364.9L321.8 363.8L322.6 363.8L322.6 363.2L323 363.2L323 362.7L323.4 362.7L323.4 361.6L324.2 361.6L324.2 360.4L325.3 360.4L325.3 359.9L326.1 359.9L326.1 358.8L326.5 358.8L326.5 358.2L327.3 358.2L327.3 357.1L328.1 357.1L328.1 356L328.9 356L328.9 354.9L329.7 354.9L329.7 354.4L330.9 354.4L330.9 353.8L331.7 353.8L331.7 353.2L332.9 353.2L332.9 352.7L334.9 352.7L334.9 352.1L335.3 352.1L335.3 351.6L337.3 351.6L337.3 351L337.7 351L337.7 350.5L340.9 350.5L340.9 349.9L342.5 349.9L342.5 349.4L344.1 349.4L344.1 348.8L344.9 348.8L344.9 347.2L346.9 347.2L346.9 346.6L347.3 346.6L347.3 346.1L347.7 346.1L347.7 345.5L348.1 345.5L348.1 345L348.5 345L348.5 343.9L350 343.9L350 343.3L350.4 343.3L350.4 342.2L351.6 342.2L351.6 341.7L352 341.7L352 341.1L352.8 341.1L352.8 339.5L354.4 339.5L354.4 338.9L354.8 338.9L354.8 338.4L355.2 338.4L355.6 338.4L355.6 337.8L356.4 337.8L356.4 337.3L357.2 337.3L357.2 336.7L357.6 336.7L357.6 336.2L358 336.2L358 335.6L358.4 335.6L358.4 335.1L359.6 335.1L359.6 334.5L360.4 334.5L360.4 332.8L361.6 332.8L361.6 331.7L363.3 331.7L363.3 331.2L364.5 331.2L364.5 330.6L364.9 330.6L364.9 329.5L365.7 329.5L365.7 329L366.5 329L366.5 328.4L367.7 328.4L367.7 327.9L368.1 327.9L368.1 327.3L368.5 327.3L368.9 327.3L368.9 326.7L369.3 326.7L369.3 326.2L370.1 326.2L370.1 325.6L370.5 325.6L370.5 325.1L371.3 325.1L371.3 324.5L371.7 324.5L371.7 324L372.5 324L372.5 323.4L372.9 323.4L372.9 322.9L373.7 322.9L373.7 322.3L374.1 322.3L374.1 321.7L375.3 321.7L375.3 321.2L376.1 321.2L376.1 320.6L377.3 320.6L377.3 320.1L377.7 320.1L377.7 319L378.1 319L378.1 318.4L379.3 318.4L379.3 317.9L379.7 317.9L379.7 317.3L380.5 317.3L380.5 316.8L381.7 316.8L381.7 316.2L382.1 316.2L382.1 315.6L382.9 315.6L382.9 315.1L383.7 315.1L383.7 314.5L384.9 314.5L384.9 314L386.5 314L386.5 313.4L387.7 313.4L387.7 312.9L389.4 312.9L389.4 312.3L390.2 312.3L390.2 311.8L391.4 311.8L391.4 310.7L394.6 310.7L394.6 310.1L395 310.1L395 309.6L396.2 309.6L396.2 309.1L396.6 309.1L396.6 308.5L397 308.5L397 307.9L397.8 307.9L397.8 307.4L398.2 307.4L398.2 306.8L399 306.8L399 306.3L399.8 306.3L399.8 305.7L400.6 305.7L400.6 305.2L401.4 305.2L401.4 304.6L402.7 304.6L402.7 304.1L403.9 304.1L403.9 303.5L404.7 303.5L404.7 303L405.9 303L405.9 301.9L406.3 301.9L406.3 301.3L408.3 301.3L408.3 300.8L409.1 300.8L409.1 300.2L410.7 300.2L410.7 299.7L416 299.7L416 298.6L417.6 298.6L417.6 298L418 298L418 297.4L420.9 297.4L420.9 296.9L422.9 296.9L422.9 296.3L423.7 296.3L424.5 296.3L424.5 295.8L424.9 295.8L424.9 295.2L425.7 295.2L425.7 294.6L426.1 294.6L426.1 294.1L428.1 294.1L428.1 293.5L428.9 293.5L428.9 293L429.3 293L429.3 292.4L430.5 292.4L430.5 291.9L432.4 291.9L432.4 291.3L432.8 291.3L432.8 290.8L435.2 290.8L435.2 289.1L436 289.1L436 288.6L438 288.6L438 288L438.4 288L438.4 287.5L439.2 287.5L439.2 286.9L439.6 286.9L439.6 286.4L441.6 286.4L441.6 285.8L442.4 285.8L442.4 285.3L445.2 285.3L445.2 284.7L445.6 284.7L445.6 283.6L446.1 283.6L446.1 283.1L448.9 283.1L448.9 282.5L449.7 282.5L449.7 282L450.1 282L450.1 281.4L451.3 281.4L451.3 280.9L452.5 280.9L453.3 280.9L453.3 280.3L453.7 280.3L453.7 279.8L455.7 279.8L455.7 278.7L456.9 278.7L456.9 278.1L457.3 278.1L457.3 277.6L458.5 277.6L458.5 276.5L458.9 276.5L458.9 275.3L461.4 275.3L461.4 274.8L462.2 274.8L462.2 274.2L463.4 274.2L463.4 273.1L463.8 273.1L463.8 272.6L465.8 272.6L465.8 272L466.2 272L466.2 271.4L466.6 271.4L466.6 270.9L468.2 270.9L468.2 270.3L470.2 270.3L470.2 269.8L471.8 269.8L471.8 269.2L472.2 269.2L472.2 268.7L473.4 268.7L473.4 268.1L474.6 268.1L474.6 267L475 267L475 266.5L478.6 266.5L478.6 265.9L479 265.9L479 265.4L479 264.8L479.4 264.8L479.4 264.3L481.8 264.3L481.8 263.7L482.6 263.7L482.6 263.2L484.2 263.2L484.2 262.6L484.6 262.6L484.6 262L486.7 262L486.7 261.5L487.5 261.5L487.5 260.9L489.5 260.9L489.5 259.8L491.1 259.8L491.1 258.7L492.3 258.7L492.3 258.1L493.9 258.1L493.9 257.6L495.1 257.6L495.1 256.5L497.1 256.5L497.1 255.9L498.7 255.9L498.7 255.4L500 255.4L500 254.8L500.4 254.8L500.4 254.3L501.2 254.3L501.2 253.7L503.2 253.7L503.2 253.2L503.6 253.2L503.6 252.6L504.8 252.6L504.8 252.1L505.6 252.1L507.2 252.1L507.2 251L509.2 251L509.2 250.4L511.2 250.4L511.2 249.9L512.4 249.9L512.4 248.8L517.6 248.8L517.6 247.7L518.8 247.7L519.2 247.7L519.2 247.1L520 247.1L520 246.5L522.4 246.5L522.4 246L524 246L524 245.4L526.5 245.4L526.5 244.8L528.1 244.8L528.1 244.2L528.9 244.2L528.9 243.7L531.3 243.7L531.3 242.5L532.1 242.5L534.5 242.5L534.5 242L536.4 242L536.4 241.5L540.8 241.5L540.8 241L541.6 241L541.6 240.4L542 240.4L542 239.9L542.8 239.9L542.8 239.3L543.2 239.3L543.2 238.8L543.5 238.8L543.5 238.2L544.3 238.2L544.3 237.1L545.1 237.1L545.1 236.6L545.9 236.6L545.9 236.1L546.3 236.1L546.3 235.5L547.1 235.5L547.1 234.4L547.5 234.4L547.5 233.9L548.7 233.9L548.7 233.3L549.4 233.3L549.4 232.2L550.2 232.2L550.2 231.7L550.6 231.7L550.6 230.6L551.8 230.6L553 230.6L553 229.5L553.4 229.5L553.4 228.4L556.2 228.4L556.2 227.3L557.4 227.3L557.4 226.1L558.2 226.1L558.2 225.6L559 225.6L559 225L561 225L561 224.5L561.4 224.5L561.4 223.9L561.8 223.9L561.8 223.4L563 223.4L563 222.3L564.2 222.3L564.2 221.7L565 221.7L567 221.7L567 221.1L567.4 221.1L567.4 220.6L568.6 220.6L568.6 220L571 220L571 219.5L574.2 219.5L574.2 218.9L576.2 218.9L576.2 218.4L579.8 218.4L579.8 217.8L580.6 217.8L580.6 217.3L581.8 217.3L581.8 216.2L582.6 216.2L582.6 215.6L583.8 215.6L583.8 215.1L585.4 215.1L585.4 214L587.8 214L587.8 212.9L590.2 212.9L590.2 211.8L591.4 211.8L591.4 211.2L592.6 211.2L592.6 210.7L593.8 210.7L594.6 210.7L594.6 210.1L596.6 210.1L596.6 209.6L599 209.6L599 209L599.8 209L599.8 208.4L601.8 208.4L601.8 207.3L605.4 207.3L605.4 206.8L605.8 206.8L605.8 206.2L607 206.2L608.6 206.2L608.6 205.1L609.4 205.1L609.4 204L611.4 204L611.4 203.4L612.2 203.4L612.2 202.9L612.6 202.9L612.6 202.3L613.8 202.3L613.8 201.8L615.8 201.8L615.8 200.7L616.6 200.7L616.6 199.6L618.2 199.6L618.2 199L618.6 199L618.6 198.5L619 198.5L619 197.9L619.4 197.9L619.4 197.4L619.9 197.4L619.9 196.3L620.3 196.3L620.3 195.7L621.1 195.7L621.1 195.2L621.5 195.2L621.5 194.1L622.3 194.1L622.3 191.9L622.7 191.9L622.7 191.3L623.2 191.3L623.2 190.8L623.6 190.8L623.6 190.2L624.4 190.2L624.4 189.7L624.8 189.7L624.8 188.6L638 188.6L639.2 188.6L639.2 188L640 188L640 186.9L642.4 186.9L642.4 185.8L644 185.8L644 185.2L644.4 185.2L644.4 184.7L645.3 184.7L645.3 184.1L648.1 184.1L648.1 183.6L648.9 183.6L648.9 183L649.7 183L649.7 181.9L651.3 181.9L653.3 181.9L653.3 180.8L654.9 180.8L654.9 180.2L655.3 180.2L655.3 179.7L656.9 179.7L656.9 179.1L657.3 179.1L657.3 178.6L657.7 178.6L657.7 178L660.2 178L660.2 177.5L660.6 177.5L660.6 176.9L661.4 176.9L661.4 176.4L664.6 176.4L664.6 175.3L666.6 175.3L666.6 174.8L669 174.8L669 174.2L669.8 174.2L669.8 173.6L671.9 173.6L671.9 173.1L677.9 173.1L677.9 172L679.1 172L679.1 171.5L682.3 171.5L682.3 171L689.4 171L689.4 170.5L690.2 170.5L690.2 170L691 170L695.1 170L695.1 169.5L696.3 169.5L696.3 169L702 169L702 168L703.2 168L703.2 167.5L704.4 167.5L706.4 167.5L706.4 166.9L707.6 166.9L707.6 166.4L709.6 166.4L709.6 165.8L712.5 165.8L712.5 165.3L713.3 165.3L713.3 164.7L715.7 164.7L715.7 164.2L717.7 164.2L717.7 163.6L719.3 163.6L719.3 163.1L727 163.1L727 162.5L729 162.5L729 162L731 162L731.4 162L731.4 160.9L734.2 160.9L734.2 160.3L735.4 160.3L735.4 159.8L737.4 159.8L737.4 159.2L739.4 159.2L739.4 158.7L739.8 158.7L739.8 158.1L740.6 158.1L740.6 157.6L742.2 157.6L742.2 156.5L745 156.5L748.9 156.5L748.9 155.3L752.5 155.3L752.5 154.7L755.7 154.7L755.7 154.1L756.4 154.1L756.4 153.5L760 153.5L761.6 153.5L761.6 152.9L763.2 152.9L763.2 152.4L765.9 152.4L765.9 151.8L766.3 151.8L766.3 151.3L767.9 151.3L767.9 150.7L770.3 150.7L770.3 150.2L771.1 150.2L771.1 149.6L773 149.6L773 148.5L775 148.5L779.7 148.5L779.7 147.4L781.7 147.4L781.7 146.8L782.1 146.8L782.1 146.2L784.9 146.2L784.9 145.6L785.7 145.6L785.7 145.1L787.2 145.1L787.2 144.5L790 144.5L792.4 144.5L792.4 143.9L793.6 143.9L793.6 143.3L798.3 143.3L798.3 142.7L799.5 142.7L799.5 142.2L801.1 142.2L801.1 141.6L802.2 141.6L802.2 141L805 141L807.4 141L807.4 140.4L809.3 140.4L809.3 139.9L811.3 139.9L811.3 139.3L811.7 139.3L811.7 138.7L815.7 138.7L815.7 137.6L818.4 137.6L818.4 137L820 137L821.6 137L821.6 136.4L822 136.4L822 135.9L824 135.9L824 135.3L824.8 135.3L824.8 134.8L828.8 134.8L828.8 134.2L829.2 134.2L829.2 133.7L832.4 133.7L832.4 133.1L832.8 133.1L832.8 132.6L833.2 132.6L833.2 131.5L836 131.5L837.6 131.5L837.6 130.9L838.4 130.9L838.4 130.4L840.3 130.4L840.3 129.8L840.7 129.8L840.7 129.3L843.5 129.3L843.5 128.7L843.9 128.7L843.9 128.2L845.1 128.2L845.1 127.6L847.4 127.6L847.4 127.1L849.8 127.1L849.8 126.5L851 126.5L851 126L853.4 126L853.4 124.9L856.6 124.9L856.6 123.8L857.4 123.8L857.4 123.2L857.8 123.2L857.8 122.6L859.8 122.6L859.8 122.1L861.4 122.1L861.4 121.5L863 121.5L867 121.5L867 121L871.5 121L871.5 120.5L878.8 120.5L878.8 120L879.6 120L879.6 119.5L880 119.5L886 119.5L886 118.8L894.4 118.8L894.4 118.2L898 118.2L898.8 118.2L898.8 117.7L900.4 117.7L900.4 117.1L904.4 117.1L904.4 116.1L914.8 116.1L914.8 115.5L916 115.5L916 115L917.2 115L917.2 114.5L918.4 114.5L918.4 113.9L926.7 113.9L926.7 113.4L933.1 113.4L933.1 112.8L933.5 112.8L934.7 112.8L934.7 112.2L937.5 112.2L937.5 111.7L942.6 111.7L942.6 111.2L943.8 111.2L943.8 110.6L949.4 110.6L949.4 109.5L951 109.5L955 109.5L955 109L958.6 109L958.6 108.5L962.2 108.5L962.2 108L962.6 108L962.6 107.5L965 107.5L965 107L969 107L969.8 107L969.8 106.5L970.6 106.5L970.6 105.9L975.7 105.9L975.7 105.4L976.1 105.4L976.1 104.9L976.5 104.9L976.5 104.4L979.7 104.4L979.7 103.8L982 103.8L982 103.3L983.2 103.3L983.2 102.8L984 102.8L984 102.3L988 102.3L988 101.7L988.8 101.7L988.8 101.2L989.2 101.2L989.2 100.7L992 100.7L992 100.1L994 100.1L994 99.6L998 99.6L998 98.5L998.4 98.5L998.4 98L1000 98L1000.4 98L1000.4 97.4L1005.6 97.4L1005.6 96.9L1006.8 96.9L1006.8 95.8L1008.8 95.8L1008.8 95.2L1012 95.2L1014.4 95.2L1014.4 94.1L1017.2 94.1L1017.2 93.6L1017.9 93.6L1017.9 93L1019.1 93L1019.1 92.5L1019.5 92.5L1019.5 91.9L1023.9 91.9L1023.9 91.4L1026.7 91.4L1026.7 90.8L1028.3 90.8L1028.3 89.7L1030.2 89.7L1030.2 89.2L1031 89.2L1031 88.6L1034.2 88.6L1037.4 88.6L1037.4 87.4L1041.8 87.4L1041.8 86.9L1044.2 86.9L1044.2 86.3L1047.9 86.3L1047.9 85.7L1049.1 85.7L1049.1 85.1L1051.9 85.1L1051.9 84L1056.3 84L1058.3 84L1058.3 83.5L1059.9 83.5L1059.9 82.9L1066.6 82.9L1066.6 82.4L1067.4 82.4L1067.4 81.9L1069 81.9L1069 81.3L1071.8 81.3L1071.8 80.8L1076.1 80.8L1076.1 80.2L1077.3 80.2L1077.3 79.7L1078.5 79.7L1079.7 79.7L1079.7 79.2L1081.3 79.2L1081.3 78.6L1084.9 78.6L1084.9 78.1L1088.5 78.1L1088.5 77.5L1092.6 77.5L1092.6 77L1093.8 77L1093.8 76.4L1099.8 76.4L1099.8 75.9L1100.2 75.9L1100.2 75.3L1100.6 75.3L1102.2 75.3L1102.2 74.8L1104.2 74.8L1104.2 74.2L1113.1 74.2L1113.1 73.7L1114.3 73.7L1114.3 73.1L1121.5 73.1L1121.5 72L1122.7 72L1123.5 72L1123.5 71.5L1127.5 71.5L1127.5 70.9L1131.9 70.9L1131.9 70.4L1137.2 70.4L1137.2 69.8L1142 69.8L1142 69.3L1144.4 69.3L1144.4 68.7L1144.8 68.7L1146 68.7L1146 68.1L1147.6 68.1L1147.6 67.6L1152.7 67.6L1152.7 67L1155.1 67L1155.1 66.5L1155.9 66.5L1155.9 65.9L1159.5 65.9L1159.5 65.3L1161.4 65.3L1161.4 64.8L1162.6 64.8L1162.6 64.2L1167 64.2L1171 64.2L1171 63.7L1174.6 63.7L1174.6 63.1L1182.2 63.1L1182.2 62.6L1183.8 62.6L1183.8 62L1189 62L1194.6 62L1194.6 61.5L1211 61.5L1211 61L1233.3 61L1235.7 61L1235.7 60.5L1242 60.5L1242 60L1250 60L1255.4 60L1255.4 59.6L1257 59.6L1257 59L1258.2 59L1258.2 58.4L1261.8 58.4L1261.8 57.9L1263 57.9L1263 57.3L1265.8 57.3L1265.8 56.1L1269.4 56.1L1269.4 55.6L1271 55.6L1271 54.4L1277.8 54.4L1277.8 54L1304 54L1304 53.5L1308.8 53.5L1309.2 53.5L1309.2 52.9L1316.8 52.9L1316.8 51.8L1326 51.8L1341.2 51.8L1341.2 51.2L1349.6 51.2L1349.6 50.6L1358 50.6L1358 50L1360.4 50L1362.8 50L1362.8 49.5L1367.2 49.5L1367.2 49L1371.2 49L1371.2 48.5L1372.4 48.5L1372.4 48L1375.2 48L1375.2 47.5L1377.6 47.5L1377.6 46.9L1388.8 46.9L1388.8 46.4L1408 46.4L1408 45.8L1412 45.8L1412.8 45.8L1412.8 45.3L1413.6 45.3L1413.6 44.7L1415.6 44.7L1415.6 44.2L1418.4 44.2L1418.4 43.6L1419.7 43.6L1419.7 43.1L1423.3 43.1L1423.3 42L1424.9 42L1424.9 41.5L1427.3 41.5" fill="none" stroke="#2ca02c" stroke-width="2.67" stroke-linejoin="round" stroke-linecap="square"/>
<path d="M137.8 721.7h0M137.8 721.2h0M138.6 721.2h0M138.6 710.2h0M139 710.2h0M139 703h0M139.4 703h0M139.4 700.3h0M139.8 700.3h0M139.8 699.7h0M140.2 699.7h0M140.2 694.7h0M140.6 694.7h0M140.6 690.8h0M141.4 690.8h0M141.4 688.6h0M141.8 688.6h0M141.8 688h0M142.2 688h0M142.2 683.1h0M142.6 683.1h0M142.6 680.3h0M143 680.3h0M143 677.5h0M143.4 677.5h0M143.4 677h0M143.8 677h0M143.8 674.2h0M144.2 674.2h0M144.2 666.1h0M144.6 666.1h0M144.6 662.3h0M145.1 662.3h0M145.1 660.6h0M145.5 660.6h0M145.5 653h0M145.9 653h0M145.9 651.9h0M146.7 651.9h0M146.7 647.5h0M147.1 647.5h0M147.1 646.4h0M147.5 646.4h0M147.5 643.7h0M147.9 643.7h0M147.9 641h0M148.3 641h0M148.3 636.6h0M149.2 636.6h0M149.2 635.5h0M149.6 635.5h0M149.6 632.8h0M150 632.8h0M150 629.5h0M150.4 629.5h0M150.4 628.4h0M150.8 628.4h0M150.8 626.2h0M151.2 626.2h0M151.2 625.7h0M151.6 625.7h0M151.6 624h0M152 624h0M152 621.8h0M152.4 621.8h0M152.4 620.2h0M152.8 620.2h0M152.8 618h0M153.2 618h0M153.2 616.4h0M153.7 616.4h0M153.7 613.6h0M154.1 613.6h0M154.1 612h0M154.9 612h0M154.9 607.6h0M155.3 607.6h0M155.3 606h0M155.7 606h0M155.7 603.8h0M155.7 603.3h0M156.1 603.3h0M156.1 601.6h0M156.5 601.6h0M156.5 599.4h0M157.2 599.4h0M157.2 595.6h0M158 595.6h0M158 592.3h0M158.4 592.3h0M158.4 591.8h0M158.8 591.8h0M158.8 590.1h0M159.2 590.1h0M159.2 589.6h0M159.6 589.6h0M159.6 586.9h0M160 586.9h0M160 585.8h0M160.3 585.8h0M160.3 584.1h0M160.7 584.1h0M160.7 583h0M161.1 583h0M161.1 581.9h0M161.5 581.9h0M161.5 579.2h0M161.9 579.2h0M161.9 577.5h0M162.3 577.5h0M162.3 575.9h0M162.7 575.9h0M162.7 573.7h0M163.1 573.7h0M163.1 572.6h0M163.5 572.6h0M163.5 571.5h0M163.9 571.5h0M163.9 570.4h0M164.3 570.4h0M164.3 567.6h0M164.7 567.6h0M164.7 566.5h0M165.1 566.5h0M165.1 563.2h0M165.9 563.2h0M165.9 562.1h0M166.7 562.1h0M166.7 558.8h0M167.1 558.8h0M167.1 557.1h0M167.5 557.1h0M167.5 556h0M167.5 554.4h0M168.3 554.4h0M168.3 551.6h0M168.7 551.6h0M168.7 550.5h0M169.1 550.5h0M169.1 550h0M169.5 550h0M169.5 547.8h0M169.9 547.8h0M169.9 546.7h0M170.3 546.7h0M170.3 545h0M170.7 545h0M170.7 543.9h0M171.4 543.9h0M171.4 542.3h0M171.8 542.3h0M171.8 539.5h0M172.2 539.5h0M172.2 538.4h0M172.6 538.4h0M172.6 537.9h0M173 537.9h0M173 536.2h0M173.4 536.2h0M173.4 535.7h0M173.8 535.7h0M173.8 535.1h0M174.2 535.1h0M174.2 533.5h0M174.6 533.5h0M174.6 531.9h0M175 531.9h0M175 530.8h0M175.4 530.8h0M175.4 529.7h0M176.1 529.7h0M176.1 528h0M176.5 528h0M176.5 527.5h0M176.9 527.5h0M176.9 526.4h0M177.3 526.4h0M177.3 525.3h0M177.7 525.3h0M177.7 523.6h0M178.1 523.6h0M178.1 523.1h0M178.5 523.1h0M178.5 521.5h0M178.9 521.5h0M178.9 520.9h0M179.3 520.9h0M179.3 519.3h0M179.7 519.3h0M179.7 517.1h0M180.8 517.1h0M180.8 516.5h0M181.2 516.5h0M181.2 514.9h0M181.6 514.9h0M181.6 514.3h0M182 514.3h0M182 512.7h0M182.4 512.7h0M182.4 512.1h0M182.8 512.1h0M182.8 510.5h0M183.2 510.5h0M183.2 509.4h0M183.6 509.4h0M183.6 508.3h0M184.4 508.3h0M184.4 506.1h0M185.2 506.1h0M185.2 505.5h0M186.1 505.5h0M186.1 503.3h0M186.5 503.3h0M186.5 502.7h0M186.9 502.7h0M186.9 502.2h0M187.3 502.2h0M187.3 501.1h0M188.1 501.1h0M188.1 499.4h0M188.9 499.4h0M188.9 498.3h0M189.7 498.3h0M189.7 497.2h0M190.5 497.2h0M190.5 496.1h0M191.3 496.1h0M191.3 495.5h0M192.9 495.5h0M192.9 494.4h0M193.7 494.4h0M193.7 493.9h0M194.5 493.9h0M194.5 493.3h0M194.9 493.3h0M194.9 492.8h0M197 492.8h0M197 491.7h0M198.6 491.7h0M198.6 491.1h0M199 491.1h0M199 490.6h0M200.2 490.6h0M200.2 490h0M201 490h0M201 489.5h0M201.8 489.5h0M201.8 488.4h0M203 488.4h0M203.4 488.4h0M203.4 487.3h0M203.8 487.3h0M203.8 486.2h0M205.7 486.2h0M205.7 484.5h0M206.5 484.5h0M206.5 482.9h0M207.3 482.9h0M207.3 481.7h0M209.3 481.7h0M209.3 480.1h0M209.7 480.1h0M209.7 479.5h0M210.9 479.5h0M210.9 479h0M211.2 479h0M211.2 478.4h0M211.6 478.4h0M211.6 477.9h0M212 477.9h0M212 477.3h0M212.4 477.3h0M212.4 476.8h0M212.8 476.8h0M212.8 475.7h0M214 475.7h0M214 475.1h0M214 474.5h0M214.8 474.5h0M214.8 474h0M215.2 474h0M215.2 473.4h0M216 473.4h0M216 471.8h0M218 471.8h0M218 471.2h0M218.4 471.2h0M218.4 470.1h0M219.6 470.1h0M219.6 469.5h0M220.3 469.5h0M220.3 468.4h0M220.7 468.4h0M220.7 467.9h0M221.5 467.9h0M221.5 467.3h0M221.9 467.3h0M221.9 466.8h0M222.3 466.8h0M222.3 466.2h0M222.7 466.2h0M222.7 465.7h0M223.5 465.7h0M223.5 465.1h0M223.9 465.1h0M223.9 464h0M225.1 464h0M225.1 463.4h0M225.5 463.4h0M225.5 462.9h0M226.3 462.9h0M226.3 462.3h0M226.7 462.3h0M226.7 461.8h0M227.1 461.8h0M227.1 460.7h0M227.5 460.7h0M227.5 460.1h0M227.8 460.1h0M227.8 459h0M229 459h0M229 457.9h0M229.8 457.9h0M229.8 455.7h0M230.6 455.7h0M230.6 455.1h0M231.4 455.1h0M231.4 454h0M231.8 454h0M231.8 453.5h0M232.2 453.5h0M232.2 452.9h0M233 452.9h0M233 450.2h0M234.5 450.2h0M234.5 448h0M235.7 448h0M235.7 447.4h0M236.1 447.4h0M236.1 446.3h0M236.1 445.8h0M236.5 445.8h0M236.5 445.2h0M237.3 445.2h0M237.3 444.1h0M238.1 444.1h0M238.1 443.5h0M238.5 443.5h0M238.5 443h0M238.9 443h0M238.9 442.4h0M239.7 442.4h0M239.7 441.9h0M240.5 441.9h0M240.5 440.8h0M241.3 440.8h0M241.3 440.2h0M241.7 440.2h0M241.7 439.7h0M242 439.7h0M242 439.1h0M242.4 439.1h0M242.4 438.6h0M243.2 438.6h0M243.2 437.5h0M243.6 437.5h0M243.6 436.9h0M244.4 436.9h0M244.4 436.4h0M244.8 436.4h0M244.8 435.8h0M245.2 435.8h0M245.2 435.3h0M245.6 435.3h0M245.6 434.2h0M246.4 434.2h0M246.4 433.6h0M246.8 433.6h0M246.8 433.1h0M247.2 433.1h0M247.6 433.1h0M247.6 432.5h0M248.4 432.5h0M248.4 432h0M249.6 432h0M249.6 431.4h0M250.4 431.4h0M250.4 429.8h0M252.4 429.8h0M252.4 429.2h0M253.2 429.2h0M253.2 428.7h0M253.6 428.7h0M253.6 428.1h0M255.3 428.1h0M255.3 427.5h0M255.7 427.5h0M255.7 427h0M256.1 427h0M256.1 426.4h0M258.5 426.4h0M258.5 425.3h0M259.7 425.3h0M259.7 424.2h0M260.5 424.2h0M260.5 423.1h0M261.3 423.1h0M261.3 422h0M263.6 422h0M263.6 420.9h0M264.4 420.9h0M264.4 419.8h0M264.8 419.8h0M264.8 419.2h0M266 419.2h0M266 418.1h0M266.4 418.1h0M266.4 417.6h0M266.8 417.6h0M266.8 417h0M267.2 417h0M267.2 416.5h0M268.4 416.5h0M268.4 415.9h0M268.8 415.9h0M268.8 415.4h0M269.1 415.4h0M269.1 414.8h0M270.3 414.8h0M270.3 413.2h0M271.5 413.2h0M271.5 412.6h0M271.9 412.6h0M271.9 412.1h0M272.7 412.1h0M272.7 411h0M273.1 411h0M273.1 409.9h0M274.3 409.9h0M274.3 409.3h0M274.7 409.3h0M274.7 408.2h0M275.1 408.2h0M275.1 407.7h0M275.9 407.7h0M275.9 406.6h0M276.3 406.6h0M276.3 405.4h0M277.1 405.4h0M277.1 404.9h0M277.8 404.9h0M277.8 404.3h0M278.6 404.3h0M278.6 402.7h0M279.4 402.7h0M279.4 402.1h0M279.8 402.1h0M279.8 401.6h0M280.2 401.6h0M280.2 400.5h0M281 400.5h0M281 399.4h0M281.4 399.4h0M281.4 398.8h0M282.2 398.8h0M282.2 397.7h0M282.6 397.7h0M283.4 397.7h0M283.4 396.6h0M285 396.6h0M285 396.1h0M285.4 396.1h0M285.4 395.5h0M286.6 395.5h0M286.6 395h0M287 395h0M287 394.5h0M288.6 394.5h0M288.6 393.4h0M289.8 393.4h0M289.8 392.8h0M290.2 392.8h0M290.2 391.7h0M290.6 391.7h0M290.6 391.2h0M292.2 391.2h0M292.2 390.7h0M292.6 390.7h0M292.6 390.1h0M293.4 390.1h0M293.4 389.6h0M293.8 389.6h0M293.8 389h0M295 389h0M295 388.5h0M295.4 388.5h0M295.4 387.4h0M297.4 387.4h0M297.4 386.9h0M298.2 386.9h0M298.2 386.3h0M299 386.3h0M299 385.8h0M299.4 385.8h0M299.4 385.3h0M299.8 385.3h0M299.8 384.7h0M301.3 384.7h0M301.3 384.2h0M301.7 384.2h0M301.7 383.6h0M302.9 383.6h0M302.9 383.1h0M303.7 383.1h0M303.7 382h0M306.5 382h0M306.5 380.4h0M306.5 379.8h0M306.9 379.8h0M306.9 379.3h0M307.7 379.3h0M307.7 378.7h0M308.5 378.7h0M308.5 377.1h0M310.5 377.1h0M310.5 376h0M311.3 376h0M311.3 374.9h0M312.5 374.9h0M312.5 373.7h0M313.8 373.7h0M313.8 372.6h0M314.2 372.6h0M314.2 372.1h0M315 372.1h0M315 371.5h0M315.8 371.5h0M315.8 370.4h0M316.6 370.4h0M316.6 369.9h0M317 369.9h0M317 369.3h0M318.2 369.3h0M318.2 368.8h0M318.6 368.8h0M318.6 368.2h0M319.4 368.2h0M319.4 367.1h0M319.8 367.1h0M320.2 367.1h0M320.2 366h0M320.6 366h0M320.6 364.9h0M321.8 364.9h0M321.8 363.8h0M322.6 363.8h0M322.6 363.2h0M323 363.2h0M323 362.7h0M323.4 362.7h0M323.4 361.6h0M324.2 361.6h0M324.2 360.4h0M325.3 360.4h0M325.3 359.9h0M326.1 359.9h0M326.1 358.8h0M326.5 358.8h0M326.5 358.2h0M327.3 358.2h0M327.3 357.1h0M328.1 357.1h0M328.1 356h0M328.9 356h0M328.9 354.9h0M329.7 354.9h0M329.7 354.4h0M330.9 354.4h0M330.9 353.8h0M331.7 353.8h0M331.7 353.2h0M332.9 353.2h0M332.9 352.7h0M334.9 352.7h0M334.9 352.1h0M335.3 352.1h0M335.3 351.6h0M337.3 351.6h0M337.3 351h0M337.7 351h0M337.7 350.5h0M340.9 350.5h0M340.9 349.9h0M342.5 349.9h0M342.5 349.4h0M344.1 349.4h0M344.1 348.8h0M344.9 348.8h0M344.9 347.2h0M346.9 347.2h0M346.9 346.6h0M347.3 346.6h0M347.3 346.1h0M347.7 346.1h0M347.7 345.5h0M348.1 345.5h0M348.1 345h0M348.5 345h0M348.5 343.9h0M350 343.9h0M350 343.3h0M350.4 343.3h0M350.4 342.2h0M351.6 342.2h0M351.6 341.7h0M352 341.7h0M352 341.1h0M352.8 341.1h0M352.8 339.5h0M354.4 339.5h0M354.4 338.9h0M354.8 338.9h0M354.8 338.4h0M355.2 338.4h0M355.6 338.4h0M355.6 337.8h0M356.4 337.8h0M356.4 337.3h0M357.2 337.3h0M357.2 336.7h0M357.6 336.7h0M357.6 336.2h0M358 336.2h0M358 335.6h0M358.4 335.6h0M358.4 335.1h0M359.6 335.1h0M359.6 334.5h0M360.4 334.5h0M360.4 332.8h0M361.6 332.8h0M361.6 331.7h0M363.3 331.7h0M363.3 331.2h0M364.5 331.2h0M364.5 330.6h0M364.9 330.6h0M364.9 329.5h0M365.7 329.5h0M365.7 329h0M366.5 329h0M366.5 328.4h0M367.7 328.4h0M367.7 327.9h0M368.1 327.9h0M368.1 327.3h0M368.5 327.3h0M368.9 327.3h0M368.9 326.7h0M369.3 326.7h0M369.3 326.2h0M370.1 326.2h0M370.1 325.6h0M370.5 325.6h0M370.5 325.1h0M371.3 325.1h0M371.3 324.5h0M371.7 324.5h0M371.7 324h0M372.5 324h0M372.5 323.4h0M372.9 323.4h0M372.9 322.9h0M373.7 322.9h0M373.7 322.3h0M374.1 322.3h0M374.1 321.7h0M375.3 321.7h0M375.3 321.2h0M376.1 321.2h0M376.1 320.6h0M377.3 320.6h0M377.3 320.1h0M377.7 320.1h0M377.7 319h0M378.1 319h0M378.1 318.4h0M379.3 318.4h0M379.3 317.9h0M379.7 317.9h0M379.7 317.3h0M380.5 317.3h0M380.5 316.8h0M381.7 316.8h0M381.7 316.2h0M382.1 316.2h0M382.1 315.6h0M382.9 315.6h0M382.9 315.1h0M383.7 315.1h0M383.7 314.5h0M384.9 314.5h0M384.9 314h0M386.5 314h0M386.5 313.4h0M387.7 313.4h0M387.7 312.9h0M389.4 312.9h0M389.4 312.3h0M390.2 312.3h0M390.2 311.8h0M391.4 311.8h0M391.4 310.7h0M394.6 310.7h0M394.6 310.1h0M395 310.1h0M395 309.6h0M396.2 309.6h0M396.2 309.1h0M396.6 309.1h0M396.6 308.5h0M397 308.5h0M397 307.9h0M397.8 307.9h0M397.8 307.4h0M398.2 307.4h0M398.2 306.8h0M399 306.8h0M399 306.3h0M399.8 306.3h0M399.8 305.7h0M400.6 305.7h0M400.6 305.2h0M401.4 305.2h0M401.4 304.6h0M402.7 304.6h0M402.7 304.1h0M403.9 304.1h0M403.9 303.5h0M404.7 303.5h0M404.7 303h0M405.9 303h0M405.9 301.9h0M406.3 301.9h0M406.3 301.3h0M408.3 301.3h0M408.3 300.8h0M409.1 300.8h0M409.1 300.2h0M410.7 300.2h0M410.7 299.7h0M416 299.7h0M416 298.6h0M417.6 298.6h0M417.6 298h0M418 298h0M418 297.4h0M420.9 297.4h0M420.9 296.9h0M422.9 296.9h0M422.9 296.3h0M423.7 296.3h0M424.5 296.3h0M424.5 295.8h0M424.9 295.8h0M424.9 295.2h0M425.7 295.2h0M425.7 294.6h0M426.1 294.6h0M426.1 294.1h0M428.1 294.1h0M428.1 293.5h0M428.9 293.5h0M428.9 293h0M429.3 293h0M429.3 292.4h0M430.5 292.4h0M430.5 291.9h0M432.4 291.9h0M432.4 291.3h0M432.8 291.3h0M432.8 290.8h0M435.2 290.8h0M435.2 289.1h0M436 289.1h0M436 288.6h0M438 288.6h0M438 288h0M438.4 288h0M438.4 287.5h0M439.2 287.5h0M439.2 286.9h0M439.6 286.9h0M439.6 286.4h0M441.6 286.4h0M441.6 285.8h0M442.4 285.8h0M442.4 285.3h0M445.2 285.3h0M445.2 284.7h0M445.6 284.7h0M445.6 283.6h0M446.1 283.6h0M446.1 283.1h0M448.9 283.1h0M448.9 282.5h0M449.7 282.5h0M449.7 282h0M450.1 282h0M450.1 281.4h0M451.3 281.4h0M451.3 280.9h0M452.5 280.9h0M453.3 280.9h0M453.3 280.3h0M453.7 280.3h0M453.7 279.8h0M455.7 279.8h0M455.7 278.7h0M456.9 278.7h0M456.9 278.1h0M457.3 278.1h0M457.3 277.6h0M458.5 277.6h0M458.5 276.5h0M458.9 276.5h0M458.9 275.3h0M461.4 275.3h0M461.4 274.8h0M462.2 274.8h0M462.2 274.2h0M463.4 274.2h0M463.4 273.1h0M463.8 273.1h0M463.8 272.6h0M465.8 272.6h0M465.8 272h0M466.2 272h0M466.2 271.4h0M466.6 271.4h0M466.6 270.9h0M468.2 270.9h0M468.2 270.3h0M470.2 270.3h0M470.2 269.8h0M471.8 269.8h0M471.8 269.2h0M472.2 269.2h0M472.2 268.7h0M473.4 268.7h0M473.4 268.1h0M474.6 268.1h0M474.6 267h0M475 267h0M475 266.5h0M478.6 266.5h0M478.6 265.9h0M479 265.9h0M479 265.4h0M479 264.8h0M479.4 264.8h0M479.4 264.3h0M481.8 264.3h0M481.8 263.7h0M482.6 263.7h0M482.6 263.2h0M484.2 263.2h0M484.2 262.6h0M484.6 262.6h0M484.6 262h0M486.7 262h0M486.7 261.5h0M487.5 261.5h0M487.5 260.9h0M489.5 260.9h0M489.5 259.8h0M491.1 259.8h0M491.1 258.7h0M492.3 258.7h0M492.3 258.1h0M493.9 258.1h0M493.9 257.6h0M495.1 257.6h0M495.1 256.5h0M497.1 256.5h0M497.1 255.9h0M498.7 255.9h0M498.7 255.4h0M500 255.4h0M500 254.8h0M500.4 254.8h0M500.4 254.3h0M501.2 254.3h0M501.2 253.7h0M503.2 253.7h0M503.2 253.2h0M503.6 253.2h0M503.6 252.6h0M504.8 252.6h0M504.8 252.1h0M505.6 252.1h0M507.2 252.1h0M507.2 251h0M509.2 251h0M509.2 250.4h0M511.2 250.4h0M511.2 249.9h0M512.4 249.9h0M512.4 248.8h0M517.6 248.8h0M517.6 247.7h0M518.8 247.7h0M519.2 247.7h0M519.2 247.1h0M520 247.1h0M520 246.5h0M522.4 246.5h0M522.4 246h0M524 246h0M524 245.4h0M526.5 245.4h0M526.5 244.8h0M528.1 244.8h0M528.1 244.2h0M528.9 244.2h0M528.9 243.7h0M531.3 243.7h0M531.3 242.5h0M532.1 242.5h0M534.5 242.5h0M534.5 242h0M536.4 242h0M536.4 241.5h0M540.8 241.5h0M540.8 241h0M541.6 241h0M541.6 240.4h0M542 240.4h0M542 239.9h0M542.8 239.9h0M542.8 239.3h0M543.2 239.3h0M543.2 238.8h0M543.5 238.8h0M543.5 238.2h0M544.3 238.2h0M544.3 237.1h0M545.1 237.1h0M545.1 236.6h0M545.9 236.6h0M545.9 236.1h0M546.3 236.1h0M546.3 235.5h0M547.1 235.5h0M547.1 234.4h0M547.5 234.4h0M547.5 233.9h0M548.7 233.9h0M548.7 233.3h0M549.4 233.3h0M549.4 232.2h0M550.2 232.2h0M550.2 231.7h0M550.6 231.7h0M550.6 230.6h0M551.8 230.6h0M553 230.6h0M553 229.5h0M553.4 229.5h0M553.4 228.4h0M556.2 228.4h0M556.2 227.3h0M557.4 227.3h0M557.4 226.1h0M558.2 226.1h0M558.2 225.6h0M559 225.6h0M559 225h0M561 225h0M561 224.5h0M561.4 224.5h0M561.4 223.9h0M561.8 223.9h0M561.8 223.4h0M563 223.4h0M563 222.3h0M564.2 222.3h0M564.2 221.7h0M565 221.7h0M567 221.7h0M567 221.1h0M567.4 221.1h0M567.4 220.6h0M568.6 220.6h0M568.6 220h0M571 220h0M571 219.5h0M574.2 219.5h0M574.2 218.9h0M576.2 218.9h0M576.2 218.4h0M579.8 218.4h0M579.8 217.8h0M580.6 217.8h0M580.6 217.3h0M581.8 217.3h0M581.8 216.2h0M582.6 216.2h0M582.6 215.6h0M583.8 215.6h0M583.8 215.1h0M585.4 215.1h0M585.4 214h0M587.8 214h0M587.8 212.9h0M590.2 212.9h0M590.2 211.8h0M591.4 211.8h0M591.4 211.2h0M592.6 211.2h0M592.6 210.7h0M593.8 210.7h0M594.6 210.7h0M594.6 210.1h0M596.6 210.1h0M596.6 209.6h0M599 209.6h0M599 209h0M599.8 209h0M599.8 208.4h0M601.8 208.4h0M601.8 207.3h0M605.4 207.3h0M605.4 206.8h0M605.8 206.8h0M605.8 206.2h0M607 206.2h0M608.6 206.2h0M608.6 205.1h0M609.4 205.1h0M609.4 204h0M611.4 204h0M611.4 203.4h0M612.2 203.4h0M612.2 202.9h0M612.6 202.9h0M612.6 202.3h0M613.8 202.3h0M613.8 201.8h0M615.8 201.8h0M615.8 200.7h0M616.6 200.7h0M616.6 199.6h0M618.2 199.6h0M618.2 199h0M618.6 199h0M618.6 198.5h0M619 198.5h0M619 197.9h0M619.4 197.9h0M619.4 197.4h0M619.9 197.4h0M619.9 196.3h0M620.3 196.3h0M620.3 195.7h0M621.1 195.7h0M621.1 195.2h0M621.5 195.2h0M621.5 194.1h0M622.3 194.1h0M622.3 191.9h0M622.7 191.9h0M622.7 191.3h0M623.2 191.3h0M623.2 190.8h0M623.6 190.8h0M623.6 190.2h0M624.4 190.2h0M624.4 189.7h0M624.8 189.7h0M624.8 188.6h0M638 188.6h0M639.2 188.6h0M639.2 188h0M640 188h0M640 186.9h0M642.4 186.9h0M642.4 185.8h0M644 185.8h0M644 185.2h0M644.4 185.2h0M644.4 184.7h0M645.3 184.7h0M645.3 184.1h0M648.1 184.1h0M648.1 183.6h0M648.9 183.6h0M648.9 183h0M649.7 183h0M649.7 181.9h0M651.3 181.9h0M653.3 181.9h0M653.3 180.8h0M654.9 180.8h0M654.9 180.2h0M655.3 180.2h0M655.3 179.7h0M656.9 179.7h0M656.9 179.1h0M657.3 179.1h0M657.3 178.6h0M657.7 178.6h0M657.7 178h0M660.2 178h0M660.2 177.5h0M660.6 177.5h0M660.6 176.9h0M661.4 176.9h0M661.4 176.4h0M664.6 176.4h0M664.6 175.3h0M666.6 175.3h0M666.6 174.8h0M669 174.8h0M669 174.2h0M669.8 174.2h0M669.8 173.6h0M671.9 173.6h0M671.9 173.1h0M677.9 173.1h0M677.9 172h0M679.1 172h0M679.1 171.5h0M682.3 171.5h0M682.3 171h0M689.4 171h0M689.4 170.5h0M690.2 170.5h0M690.2 170h0M691 170h0M695.1 170h0M695.1 169.5h0M696.3 169.5h0M696.3 169h0M702 169h0M702 168h0M703.2 168h0M703.2 167.5h0M704.4 167.5h0M706.4 167.5h0M706.4 166.9h0M707.6 166.9h0M707.6 166.4h0M709.6 166.4h0M709.6 165.8h0M712.5 165.8h0M712.5 165.3h0M713.3 165.3h0M713.3 164.7h0M715.7 164.7h0M715.7 164.2h0M717.7 164.2h0M717.7 163.6h0M719.3 163.6h0M719.3 163.1h0M727 163.1h0M727 162.5h0M729 162.5h0M729 162h0M731 162h0M731.4 162h0M731.4 160.9h0M734.2 160.9h0M734.2 160.3h0M735.4 160.3h0M735.4 159.8h0M737.4 159.8h0M737.4 159.2h0M739.4 159.2h0M739.4 158.7h0M739.8 158.7h0M739.8 158.1h0M740.6 158.1h0M740.6 157.6h0M742.2 157.6h0M742.2 156.5h0M745 156.5h0M748.9 156.5h0M748.9 155.3h0M752.5 155.3h0M752.5 154.7h0M755.7 154.7h0M755.7 154.1h0M756.4 154.1h0M756.4 153.5h0M760 153.5h0M761.6 153.5h0M761.6 152.9h0M763.2 152.9h0M763.2 152.4h0M765.9 152.4h0M765.9 151.8h0M766.3 151.8h0M766.3 151.3h0M767.9 151.3h0M767.9 150.7h0M770.3 150.7h0M770.3 150.2h0M771.1 150.2h0M771.1 149.6h0M773 149.6h0M773 148.5h0M775 148.5h0M779.7 148.5h0M779.7 147.4h0M781.7 147.4h0M781.7 146.8h0M782.1 146.8h0M782.1 146.2h0M784.9 146.2h0M784.9 145.6h0M785.7 145.6h0M785.7 145.1h0M787.2 145.1h0M787.2 144.5h0M790 144.5h0M792.4 144.5h0M792.4 143.9h0M793.6 143.9h0M793.6 143.3h0M798.3 143.3h0M798.3 142.7h0M799.5 142.7h0M799.5 142.2h0M801.1 142.2h0M801.1 141.6h0M802.2 141.6h0M802.2 141h0M805 141h0M807.4 141h0M807.4 140.4h0M809.3 140.4h0M809.3 139.9h0M811.3 139.9h0M811.3 139.3h0M811.7 139.3h0M811.7 138.7h0M815.7 138.7h0M815.7 137.6h0M818.4 137.6h0M818.4 137h0M820 137h0M821.6 137h0M821.6 136.4h0M822 136.4h0M822 135.9h0M824 135.9h0M824 135.3h0M824.8 135.3h0M824.8 134.8h0M828.8 134.8h0M828.8 134.2h0M829.2 134.2h0M829.2 133.7h0M832.4 133.7h0M832.4 133.1h0M832.8 133.1h0M832.8 132.6h0M833.2 132.6h0M833.2 131.5h0M836 131.5h0M837.6 131.5h0M837.6 130.9h0M838.4 130.9h0M838.4 130.4h0M840.3 130.4h0M840.3 129.8h0M840.7 129.8h0M840.7 129.3h0M843.5 129.3h0M843.5 128.7h0M843.9 128.7h0M843.9 128.2h0M845.1 128.2h0M845.1 127.6h0M847.4 127.6h0M847.4 127.1h0M849.8 127.1h0M849.8 126.5h0M851 126.5h0M851 126h0M853.4 126h0M853.4 124.9h0M856.6 124.9h0M856.6 123.8h0M857.4 123.8h0M857.4 123.2h0M857.8 123.2h0M857.8 122.6h0M859.8 122.6h0M859.8 122.1h0M861.4 122.1h0M861.4 121.5h0M863 121.5h0M867 121.5h0M867 121h0M871.5 121h0M871.5 120.5h0M878.8 120.5h0M878.8 120h0M879.6 120h0M879.6 119.5h0M880 119.5h0M886 119.5h0M886 118.8h0M894.4 118.8h0M894.4 118.2h0M898 118.2h0M898.8 118.2h0M898.8 117.7h0M900.4 117.7h0M900.4 117.1h0M904.4 117.1h0M904.4 116.1h0M914.8 116.1h0M914.8 115.5h0M916 115.5h0M916 115h0M917.2 115h0M917.2 114.5h0M918.4 114.5h0M918.4 113.9h0M926.7 113.9h0M926.7 113.4h0M933.1 113.4h0M933.1 112.8h0M933.5 112.8h0M934.7 112.8h0M934.7 112.2h0M937.5 112.2h0M937.5 111.7h0M942.6 111.7h0M942.6 111.2h0M943.8 111.2h0M943.8 110.6h0M949.4 110.6h0M949.4 109.5h0M951 109.5h0M955 109.5h0M955 109h0M958.6 109h0M958.6 108.5h0M962.2 108.5h0M962.2 108h0M962.6 108h0M962.6 107.5h0M965 107.5h0M965 107h0M969 107h0M969.8 107h0M969.8 106.5h0M970.6 106.5h0M970.6 105.9h0M975.7 105.9h0M975.7 105.4h0M976.1 105.4h0M976.1 104.9h0M976.5 104.9h0M976.5 104.4h0M979.7 104.4h0M979.7 103.8h0M982 103.8h0M982 103.3h0M983.2 103.3h0M983.2 102.8h0M984 102.8h0M984 102.3h0M988 102.3h0M988 101.7h0M988.8 101.7h0M988.8 101.2h0M989.2 101.2h0M989.2 100.7h0M992 100.7h0M992 100.1h0M994 100.1h0M994 99.6h0M998 99.6h0M998 98.5h0M998.4 98.5h0M998.4 98h0M1000 98h0M1000.4 98h0M1000.4 97.4h0M1005.6 97.4h0M1005.6 96.9h0M1006.8 96.9h0M1006.8 95.8h0M1008.8 95.8h0M1008.8 95.2h0M1012 95.2h0M1014.4 95.2h0M1014.4 94.1h0M1017.2 94.1h0M1017.2 93.6h0M1017.9 93.6h0M1017.9 93h0M1019.1 93h0M1019.1 92.5h0M1019.5 92.5h0M1019.5 91.9h0M1023.9 91.9h0M1023.9 91.4h0M1026.7 91.4h0M1026.7 90.8h0M1028.3 90.8h0M1028.3 89.7h0M1030.2 89.7h0M1030.2 89.2h0M1031 89.2h0M1031 88.6h0M1034.2 88.6h0M1037.4 88.6h0M1037.4 87.4h0M1041.8 87.4h0M1041.8 86.9h0M1044.2 86.9h0M1044.2 86.3h0M1047.9 86.3h0M1047.9 85.7h0M1049.1 85.7h0M1049.1 85.1h0M1051.9 85.1h0M1051.9 84h0M1056.3 84h0M1058.3 84h0M1058.3 83.5h0M1059.9 83.5h0M1059.9 82.9h0M1066.6 82.9h0M1066.6 82.4h0M1067.4 82.4h0M1067.4 81.9h0M1069 81.9h0M1069 81.3h0M1071.8 81.3h0M1071.8 80.8h0M1076.1 80.8h0M1076.1 80.2h0M1077.3 80.2h0M1077.3 79.7h0M1078.5 79.7h0M1079.7 79.7h0M1079.7 79.2h0M1081.3 79.2h0M1081.3 78.6h0M1084.9 78.6h0M1084.9 78.1h0M1088.5 78.1h0M1088.5 77.5h0M1092.6 77.5h0M1092.6 77h0M1093.8 77h0M1093.8 76.4h0M1099.8 76.4h0M1099.8 75.9h0M1100.2 75.9h0M1100.2 75.3h0M1100.6 75.3h0M1102.2 75.3h0M1102.2 74.8h0M1104.2 74.8h0M1104.2 74.2h0M1113.1 74.2h0M1113.1 73.7h0M1114.3 73.7h0M1114.3 73.1h0M1121.5 73.1h0M1121.5 72h0M1122.7 72h0M1123.5 72h0M1123.5 71.5h0M1127.5 71.5h0M1127.5 70.9h0M1131.9 70.9h0M1131.9 70.4h0M1137.2 70.4h0M1137.2 69.8h0M1142 69.8h0M1142 69.3h0M1144.4 69.3h0M1144.4 68.7h0M1144.8 68.7h0M1146 68.7h0M1146 68.1h0M1147.6 68.1h0M1147.6 67.6h0M1152.7 67.6h0M1152.7 67h0M1155.1 67h0M1155.1 66.5h0M1155.9 66.5h0M1155.9 65.9h0M1159.5 65.9h0M1159.5 65.3h0M1161.4 65.3h0M1161.4 64.8h0M1162.6 64.8h0M1162.6 64.2h0M1167 64.2h0M1171 64.2h0M1171 63.7h0M1174.6 63.7h0M1174.6 63.1h0M1182.2 63.1h0M1182.2 62.6h0M1183.8 62.6h0M1183.8 62h0M1189 62h0M1194.6 62h0M1194.6 61.5h0M1211 61.5h0M1211 61h0M1233.3 61h0M1235.7 61h0M1235.7 60.5h0M1242 60.5h0M1242 60h0M1250 60h0M1255.4 60h0M1255.4 59.6h0M1257 59.6h0M1257 59h0M1258.2 59h0M1258.2 58.4h0M1261.8 58.4h0M1261.8 57.9h0M1263 57.9h0M1263 57.3h0M1265.8 57.3h0M1265.8 56.1h0M1269.4 56.1h0M1269.4 55.6h0M1271 55.6h0M1271 54.4h0M1277.8 54.4h0M1277.8 54h0M1304 54h0M1304 53.5h0M1308.8 53.5h0M1309.2 53.5h0M1309.2 52.9h0M1316.8 52.9h0M1316.8 51.8h0M1326 51.8h0M1341.2 51.8h0M1341.2 51.2h0M1349.6 51.2h0M1349.6 50.6h0M1358 50.6h0M1358 50h0M1360.4 50h0M1362.8 50h0M1362.8 49.5h0M1367.2 49.5h0M1367.2 49h0M1371.2 49h0M1371.2 48.5h0M1372.4 48.5h0M1372.4 48h0M1375.2 48h0M1375.2 47.5h0M1377.6 47.5h0M1377.6 46.9h0M1388.8 46.9h0M1388.8 46.4h0M1408 46.4h0M1408 45.8h0M1412 45.8h0M1412.8 45.8h0M1412.8 45.3h0M1413.6 45.3h0M1413.6 44.7h0M1415.6 44.7h0M1415.6 44.2h0M1418.4 44.2h0M1418.4 43.6h0M1419.7 43.6h0M1419.7 43.1h0M1423.3 43.1h0M1423.3 42h0M1424.9 42h0M1424.9 41.5h0M1427.3 41.5h0" fill="none" stroke="#2ca02c" stroke-width="7.30" stroke-linecap="round"/>
</g>
<g><path d="M137.8 721.7L138.6 721.7L138.6 718.3L139.3 718.3L139.3 709.7L139.7 709.7L139.7 708L140.5 708L140.9 708L140.9 706.3L141.7 706.3L141.7 703L142.8 703L142.8 701.4L143.2 701.4L143.2 699.7L143.6 699.7L143.6 696.4L144 696.4L144.4 696.4L144.4 694.8L146.7 694.8L146.7 691.5L147.1 691.5L147.1 689.8L147.5 689.8L147.5 688.2L149.8 688.2L150.6 688.2L150.6 686.5L153.5 686.5L153.5 684.7L155.5 684.7L155.5 681.2L158 681.2L158.4 681.2L158.4 679.6L161.1 679.6L161.1 677.9L162.7 677.9L162.7 674.6L163.4 674.6L163.4 673L165 673L165 671.2L166.2 671.2L166.2 669.5L167.7 669.5L167.7 667.8L169.7 667.8L169.7 666L170.1 666L170.1 664.2L170.8 664.2L170.8 662.5L172 662.5L173.2 662.5L173.2 660.9L173.6 660.9L173.6 659.3L176.1 659.3L176.1 656L177.3 656L177.3 654.4L180.2 654.4L181 654.4L181 650.5L182.5 650.5L182.5 648.5L186 648.5L188.8 648.5L188.8 646.6L189.6 646.6L189.6 644.6L197.7 644.6L197.7 642.7L202.1 642.7L202.1 641L202.9 641L202.9 639.2L204.9 639.2L204.9 637.5L208.5 637.5L208.5 635.7L209.3 635.7L210.1 635.7L210.1 634L211.7 634L211.7 632.2L217.8 632.2L217.8 628.7L219.8 628.7L219.8 627.1L221 627.1L221 625.4L224.1 625.4L224.1 622.1L226.8 622.1L226.8 620.5L226.8 618.7L229.5 618.7L229.5 616.9L230.7 616.9L230.7 615.1L231.5 615.1L233.1 615.1L233.1 613.2L238.5 613.2L238.5 611.2L240.9 611.2L240.9 609.5L241.3 609.5L241.3 604.2L243.6 604.2L243.6 602.5L244.4 602.5L247.2 602.5L247.2 600.7L247.6 600.7L247.6 599L248 599L248 597.2L253.7 597.2L258.1 597.2L258.1 595.5L258.9 595.5L258.9 593.7L263.4 593.7L263.4 592L265.4 592L265.4 590.2L265.8 590.2L265.8 588.2L271.4 588.2L271.4 586.3L274.6 586.3L274.6 584.3L278.2 584.3L278.2 582.4L280.7 582.4L280.7 580.6L284.4 580.6L284.4 578.7L285.2 578.7L285.2 576.9L286 576.9L286 575L286.4 575L287.6 575L287.6 573.1L288 573.1L288 571.3L289.9 571.3L289.9 569.4L291.8 569.4L291.8 567.6L292.6 567.6L292.6 565.7L293.4 565.7L298.2 565.7L298.2 564.1L304.2 564.1L304.2 562.6L304.6 562.6L304.6 561L305 561L305 559.2L305.4 559.2L305.4 557.5L307.5 557.5L307.5 555.8L308.7 555.8L308.7 554L311.2 554L311.2 552.2L313.2 552.2L313.2 550.5L317.2 550.5L317.2 548.2L323.7 548.2L324.5 548.2L324.5 546.6L326.1 546.6L326.1 545L327.6 545L327.6 543.4L328 543.4L328 541.8L328.4 541.8L328.4 540.2L329.6 540.2L329.6 537L331.2 537L336 537L336 533.5L338.7 533.5L338.7 531.7L341.9 531.7L341.9 530L342.3 530L342.3 528.2L344.3 528.2L344.3 526.5L347.1 526.5L347.1 524.9L351.8 524.9L351.8 523.2L352.2 523.2L352.2 521.5L353.4 521.5L354.2 521.5L354.2 519.7L357 519.7L357 518L359.4 518L359.4 516.2L359.8 516.2L359.8 512.7L362.2 512.7L363.8 512.7L363.8 511.1L366.6 511.1L366.6 509.4L367.8 509.4L367.8 507.8L369.8 507.8L369.8 506.1L371 506.1L374.2 506.1L374.2 504.4L375 504.4L375 502.8L379.1 502.8L379.1 501.1L382.3 501.1L382.3 499.4L384.3 499.4L387.9 499.4L387.9 497L395.5 497L396.3 497L396.3 495.1L397.1 495.1L397.1 493.3L398.3 493.3L398.3 489.6L400.4 489.6L400.4 487.7L401.6 487.7L401.6 485.9L402 485.9L402.4 485.9L402.4 484.4L409.2 484.4L409.2 482.9L409.6 482.9L409.6 481.4L413.2 481.4L413.2 479.6L416 479.6L416 477.9L417.6 477.9L417.6 476.1L419.6 476.1L419.6 474.4L420.8 474.4L420.8 472.6L422 472.6L423.2 472.6L423.2 470.8L424 470.8L424 468.9L424.4 468.9L424.4 467L425.2 467L425.2 465.2L427.9 465.2L427.9 463.3L428.3 463.3L428.3 461.5L428.7 461.5L431.1 461.5L431.1 457.6L435.9 457.6L435.9 455.7L437.1 455.7L437.1 453.8L437.5 453.8L439.1 453.8L439.1 452L448.8 452L448.8 450.1L449.2 450.1L449.2 448.3L450.8 448.3L451.6 448.3L451.6 446.5L452 446.5L452 444.7L456 444.7L456 443L458 443L458 441.2L459.6 441.2L459.6 439.4L459.6 437.5L462.9 437.5L462.9 435.5L463.7 435.5L463.7 433.6L465.8 433.6L465.8 431.7L466.2 431.7L471.8 431.5L472.2 431.5L472.2 429.6L473 429.6L473 427.7L474.6 427.7L474.6 425.8L476.1 425.8L476.1 423.9L477.3 423.9L478.1 423.9L478.1 420.3L480.6 420.3L480.6 418.6L481 418.6L481 415L483.9 415L486.3 415L486.3 413.4L486.7 413.4L486.7 411.8L487.9 411.8L487.9 410.1L489.1 410.1L489.1 408.5L489.5 408.5L489.5 400.7L490.5 400.7L493.3 400.7L493.3 398.9L496.2 398.9L496.2 397L496.6 397L496.6 395.2L499.4 395.2L500.2 395.2L500.2 393.6L501.3 393.6L501.3 392.1L505.6 392.1L505.6 389L506 389L506 387.4L508.4 387.4L508.4 386.3L514.9 386.3L518.9 386.3L518.9 382.8L521.3 382.8L521.3 381L522.9 381L522.9 379.3L523.3 379.3L523.3 377.5L523.7 377.5L524.5 377.5L524.5 375.8L524.9 375.8L524.9 374.2L526.9 374.2L526.9 370.8L530.6 370.8L530.6 369.2L532.2 369.2L532.2 367.5L532.6 367.5L533.4 367.5L533.4 365.6L536.2 365.6L536.2 363.6L538.2 363.6L538.2 361.7L541.4 361.7L541.4 359.8L542.6 359.8L542.6 356.1L544.6 356.1L544.6 354.2L547.1 354.2L547.1 352.4L547.5 352.4L547.5 350.5L548.3 350.5L548.3 348.7L550.3 348.7L553.9 348.7L553.9 347L554.3 347L554.3 345.3L557.4 345.3L557.4 343.7L557.8 343.7L557.8 342L559 342L559.4 342L559.4 341L570.2 341L570.2 339.5L570.6 339.5L570.6 338.1L577.3 338.1L577.3 336.6L581.2 336.6L582.4 336.6L582.4 335L583.2 335L583.2 333.3L584.9 333.3L584.9 331.7L585.7 331.7L585.7 330L589.6 330L589.6 328.3L593.9 328.3L593.9 326.6L596.7 326.6L597.9 326.6L597.9 325.1L601.4 325.1L601.4 323.7L602.6 323.7L602.6 322.2L603.4 322.2L605.8 322.2L605.8 320L612.2 320L613.8 320L613.8 318.2L614.6 318.2L614.6 316.5L616.2 316.5L616.2 314.8L617.4 314.8L617.4 313L619.8 313L619.8 311.2L621.8 311.2L621.8 309.5L624.6 309.5L624.6 307.8L625 307.8L625 306L626.6 306L626.6 304.2L628.2 304.2L628.2 302.5L631 302.5L631 300.8L631.4 300.8L631.4 299L632.6 299L632.6 297.3L636.6 297.3L636.6 295.5L641.5 295.5L641.5 292L642.3 292L642.3 290.3L644.7 290.3L646.3 290.3L646.3 288.6L648.7 288.6L648.7 286.9L655 286.9L655 283.6L655.8 283.6L657.4 283.6L657.4 279.9L662.5 279.9L662.5 278.1L662.9 278.1L662.9 276.3L663.3 276.3L663.3 274.4L665.6 274.4L665.6 272.6L666.8 272.6L668.4 272.6L668.4 270.8L668.8 270.8L668.8 268.9L672 268.9L672 267L675.2 267L675.2 265.2L676.8 265.2L676.8 263.3L678.8 263.3L678.8 261.5L680 261.5L681.2 261.5L681.2 259.7L683.1 259.7L683.1 258L686.3 258L686.3 256.2L689.4 256.2L689.4 254.5L690.6 254.5L690.6 252.7L691 252.7L692.6 252.7L692.6 250.5L696.1 250.5L696.1 248.3L702 248.3L705.6 248.3L705.6 246.4L707.2 246.4L707.2 244.4L708.9 244.4L708.9 242.5L712.9 242.5L712.9 240.5L713.3 240.5L716 240.5L716 238.2L717.6 238.2L717.6 236L724.3 236L725.1 236L725.1 233.5L730 233.5L733.2 233.5L733.2 231.6L736 231.6L736 229.7L737.3 229.7L737.3 225.9L743.3 225.9L744.5 225.9L744.5 223.7L753.7 223.7L753.7 221.4L756.5 221.4L763.8 221.4L763.8 219.7L764.2 219.7L764.2 218L769.8 218L775 218L775 214.8L783 214.8L785.4 214.8L785.4 213L786.9 213L786.9 211.3L792.4 211.3L792.4 209.5L794 209.5L794 206L795.6 206L795.6 204.3L796 204.3L796 202.6L804 202.6L804 201L805.2 201L805.2 199.3L807.6 199.3L807.6 197.5L809.6 197.5L809.6 195.8L810.8 195.8L810.8 194L812 194L812 192.3L813.2 192.3L813.2 190.5L814 190.5L814.4 190.5L814.4 188.7L814.8 188.7L814.8 186.9L817.7 186.9L817.7 181.6L818.5 181.6L820.1 181.6L820.1 179.4L820.9 179.4L820.9 177.2L827.3 177.2L828.1 177.2L828.1 175.6L835 175.6L835 173.9L840.6 173.9L841.4 173.9L841.4 172.1L845 172.1L845 170.2L847.4 170.2L847.4 168.4L849.4 168.4L851.8 168.4L851.8 166.2L854.2 166.2L854.2 163.9L859.3 163.9L859.3 161.7L860.5 161.7L862.5 161.7L862.5 159.5L865.7 159.5L865.7 157.2L869.7 157.2L869.7 155L873.7 155L886.2 155L886.2 152.9L887 152.9L889.7 152.9L889.7 150.9L890.5 150.9L890.5 149L892.5 149L892.5 147L893.3 147L893.3 145L898 145L903.6 145L903.6 143.4L904.9 143.4L904.9 141.8L911.3 141.8L911.7 141.8L911.7 140L918.6 140L918.6 136.3L924.6 136.3L927.4 136.3L927.4 134.1L930.5 134.1L930.5 131.9L935.7 131.9L936.1 131.9L936.1 130L939.2 130L939.2 128.2L941.2 128.2L941.2 126.3L946.7 126.3L955.6 126.3L955.6 124.2L956.4 124.2L956.4 122L960 122L963.9 122L963.9 120.3L964.3 120.3L964.3 118.6L971 118.6L980.7 118.6L980.7 116.9L981.1 116.9L981.1 115.3L984.3 115.3L985.1 115.3L985.1 112.9L990 112.9L994.8 112.9L994.8 110.7L1000.9 110.7L1000.9 108.5L1003.3 108.5L1004.9 108.5L1004.9 106.2L1016.5 106.2L1016.5 104L1019.3 104L1019.3 101.8L1021.3 101.8L1021.3 99.6L1029.8 99.6L1041.8 99.6L1041.8 97.4L1042.6 97.4L1042.6 95.2L1043 95.2L1044.2 95.2L1044.2 93.6L1053.9 93.6L1053.9 91.9L1056.3 91.9L1065.8 91.9L1065.8 90.2L1067.4 90.2L1067.4 88.6L1071.8 88.6L1081.4 88.6L1081.4 86.9L1084.2 86.9L1084.2 85.2L1085 85.2L1097.2 85.2L1097.2 83L1098.4 83L1109.6 83L1109.6 80.8L1111.6 80.8L1121.8 80.8L1121.8 78.6L1125 78.6L1136.8 78.6L1136.8 76.4L1140.4 76.4L1146.8 76.4L1146.8 74.2L1153.6 74.2L1165.4 74.2L1165.4 72L1167 72L1168.6 72L1168.6 68.7L1180 68.7L1185.6 68.7L1185.6 66.4L1193.5 66.4L1204.3 66.4L1204.3 64.2L1206.7 64.2L1209.9 64.2L1209.9 62L1220 62L1228.1 62L1228.1 59.8L1233.3 59.8L1240 58.7L1242.8 58.7L1242.8 57L1252 57L1260 57L1260 53.5L1262.4 53.5L1262.4 51.4L1265.7 51.4L1265.7 49.2L1271 49.2L1291.6 49.2L1310.5 48.4L1322.6 47.5L1327.4 47.5L1327.4 45.8L1336.3 45.8L1363.8 45L1366.1 45L1366.1 42.4L1367.3 42.4L1394.8 42L1427.3 41.5" fill="none" stroke="#d62728" stroke-width="2.67" stroke-linejoin="round" stroke-linecap="square"/>
<path d="M137.8 721.7h0M138.6 721.7h0M138.6 718.3h0M139.3 718.3h0M139.3 709.7h0M139.7 709.7h0M139.7 708h0M140.5 708h0M140.9 708h0M140.9 706.3h0M141.7 706.3h0M141.7 703h0M142.8 703h0M142.8 701.4h0M143.2 701.4h0M143.2 699.7h0M143.6 699.7h0M143.6 696.4h0M144 696.4h0M144.4 696.4h0M144.4 694.8h0M146.7 694.8h0M146.7 691.5h0M147.1 691.5h0M147.1 689.8h0M147.5 689.8h0M147.5 688.2h0M149.8 688.2h0M150.6 688.2h0M150.6 686.5h0M153.5 686.5h0M153.5 684.7h0M155.5 684.7h0M155.5 681.2h0M158 681.2h0M158.4 681.2h0M158.4 679.6h0M161.1 679.6h0M161.1 677.9h0M162.7 677.9h0M162.7 674.6h0M163.4 674.6h0M163.4 673h0M165 673h0M165 671.2h0M166.2 671.2h0M166.2 669.5h0M167.7 669.5h0M167.7 667.8h0M169.7 667.8h0M169.7 666h0M170.1 666h0M170.1 664.2h0M170.8 664.2h0M170.8 662.5h0M172 662.5h0M173.2 662.5h0M173.2 660.9h0M173.6 660.9h0M173.6 659.3h0M176.1 659.3h0M176.1 656h0M177.3 656h0M177.3 654.4h0M180.2 654.4h0M181 654.4h0M181 650.5h0M182.5 650.5h0M182.5 648.5h0M186 648.5h0M188.8 648.5h0M188.8 646.6h0M189.6 646.6h0M189.6 644.6h0M197.7 644.6h0M197.7 642.7h0M202.1 642.7h0M202.1 641h0M202.9 641h0M202.9 639.2h0M204.9 639.2h0M204.9 637.5h0M208.5 637.5h0M208.5 635.7h0M209.3 635.7h0M210.1 635.7h0M210.1 634h0M211.7 634h0M211.7 632.2h0M217.8 632.2h0M217.8 628.7h0M219.8 628.7h0M219.8 627.1h0M221 627.1h0M221 625.4h0M224.1 625.4h0M224.1 622.1h0M226.8 622.1h0M226.8 620.5h0M226.8 618.7h0M229.5 618.7h0M229.5 616.9h0M230.7 616.9h0M230.7 615.1h0M231.5 615.1h0M233.1 615.1h0M233.1 613.2h0M238.5 613.2h0M238.5 611.2h0M240.9 611.2h0M240.9 609.5h0M241.3 609.5h0M241.3 604.2h0M243.6 604.2h0M243.6 602.5h0M244.4 602.5h0M247.2 602.5h0M247.2 600.7h0M247.6 600.7h0M247.6 599h0M248 599h0M248 597.2h0M253.7 597.2h0M258.1 597.2h0M258.1 595.5h0M258.9 595.5h0M258.9 593.7h0M263.4 593.7h0M263.4 592h0M265.4 592h0M265.4 590.2h0M265.8 590.2h0M265.8 588.2h0M271.4 588.2h0M271.4 586.3h0M274.6 586.3h0M274.6 584.3h0M278.2 584.3h0M278.2 582.4h0M280.7 582.4h0M280.7 580.6h0M284.4 580.6h0M284.4 578.7h0M285.2 578.7h0M285.2 576.9h0M286 576.9h0M286 575h0M286.4 575h0M287.6 575h0M287.6 573.1h0M288 573.1h0M288 571.3h0M289.9 571.3h0M289.9 569.4h0M291.8 569.4h0M291.8 567.6h0M292.6 567.6h0M292.6 565.7h0M293.4 565.7h0M298.2 565.7h0M298.2 564.1h0M304.2 564.1h0M304.2 562.6h0M304.6 562.6h0M304.6 561h0M305 561h0M305 559.2h0M305.4 559.2h0M305.4 557.5h0M307.5 557.5h0M307.5 555.8h0M308.7 555.8h0M308.7 554h0M311.2 554h0M311.2 552.2h0M313.2 552.2h0M313.2 550.5h0M317.2 550.5h0M317.2 548.2h0M323.7 548.2h0M324.5 548.2h0M324.5 546.6h0M326.1 546.6h0M326.1 545h0M327.6 545h0M327.6 543.4h0M328 543.4h0M328 541.8h0M328.4 541.8h0M328.4 540.2h0M329.6 540.2h0M329.6 537h0M331.2 537h0M336 537h0M336 533.5h0M338.7 533.5h0M338.7 531.7h0M341.9 531.7h0M341.9 530h0M342.3 530h0M342.3 528.2h0M344.3 528.2h0M344.3 526.5h0M347.1 526.5h0M347.1 524.9h0M351.8 524.9h0M351.8 523.2h0M352.2 523.2h0M352.2 521.5h0M353.4 521.5h0M354.2 521.5h0M354.2 519.7h0M357 519.7h0M357 518h0M359.4 518h0M359.4 516.2h0M359.8 516.2h0M359.8 512.7h0M362.2 512.7h0M363.8 512.7h0M363.8 511.1h0M366.6 511.1h0M366.6 509.4h0M367.8 509.4h0M367.8 507.8h0M369.8 507.8h0M369.8 506.1h0M371 506.1h0M374.2 506.1h0M374.2 504.4h0M375 504.4h0M375 502.8h0M379.1 502.8h0M379.1 501.1h0M382.3 501.1h0M382.3 499.4h0M384.3 499.4h0M387.9 499.4h0M387.9 497h0M395.5 497h0M396.3 497h0M396.3 495.1h0M397.1 495.1h0M397.1 493.3h0M398.3 493.3h0M398.3 489.6h0M400.4 489.6h0M400.4 487.7h0M401.6 487.7h0M401.6 485.9h0M402 485.9h0M402.4 485.9h0M402.4 484.4h0M409.2 484.4h0M409.2 482.9h0M409.6 482.9h0M409.6 481.4h0M413.2 481.4h0M413.2 479.6h0M416 479.6h0M416 477.9h0M417.6 477.9h0M417.6 476.1h0M419.6 476.1h0M419.6 474.4h0M420.8 474.4h0M420.8 472.6h0M422 472.6h0M423.2 472.6h0M423.2 470.8h0M424 470.8h0M424 468.9h0M424.4 468.9h0M424.4 467h0M425.2 467h0M425.2 465.2h0M427.9 465.2h0M427.9 463.3h0M428.3 463.3h0M428.3 461.5h0M428.7 461.5h0M431.1 461.5h0M431.1 457.6h0M435.9 457.6h0M435.9 455.7h0M437.1 455.7h0M437.1 453.8h0M437.5 453.8h0M439.1 453.8h0M439.1 452h0M448.8 452h0M448.8 450.1h0M449.2 450.1h0M449.2 448.3h0M450.8 448.3h0M451.6 448.3h0M451.6 446.5h0M452 446.5h0M452 444.7h0M456 444.7h0M456 443h0M458 443h0M458 441.2h0M459.6 441.2h0M459.6 439.4h0M459.6 437.5h0M462.9 437.5h0M462.9 435.5h0M463.7 435.5h0M463.7 433.6h0M465.8 433.6h0M465.8 431.7h0M466.2 431.7h0M471.8 431.5h0M472.2 431.5h0M472.2 429.6h0M473 429.6h0M473 427.7h0M474.6 427.7h0M474.6 425.8h0M476.1 425.8h0M476.1 423.9h0M477.3 423.9h0M478.1 423.9h0M478.1 420.3h0M480.6 420.3h0M480.6 418.6h0M481 418.6h0M481 415h0M483.9 415h0M486.3 415h0M486.3 413.4h0M486.7 413.4h0M486.7 411.8h0M487.9 411.8h0M487.9 410.1h0M489.1 410.1h0M489.1 408.5h0M489.5 408.5h0M489.5 400.7h0M490.5 400.7h0M493.3 400.7h0M493.3 398.9h0M496.2 398.9h0M496.2 397h0M496.6 397h0M496.6 395.2h0M499.4 395.2h0M500.2 395.2h0M500.2 393.6h0M501.3 393.6h0M501.3 392.1h0M505.6 392.1h0M505.6 389h0M506 389h0M506 387.4h0M508.4 387.4h0M508.4 386.3h0M514.9 386.3h0M518.9 386.3h0M518.9 382.8h0M521.3 382.8h0M521.3 381h0M522.9 381h0M522.9 379.3h0M523.3 379.3h0M523.3 377.5h0M523.7 377.5h0M524.5 377.5h0M524.5 375.8h0M524.9 375.8h0M524.9 374.2h0M526.9 374.2h0M526.9 370.8h0M530.6 370.8h0M530.6 369.2h0M532.2 369.2h0M532.2 367.5h0M532.6 367.5h0M533.4 367.5h0M533.4 365.6h0M536.2 365.6h0M536.2 363.6h0M538.2 363.6h0M538.2 361.7h0M541.4 361.7h0M541.4 359.8h0M542.6 359.8h0M542.6 356.1h0M544.6 356.1h0M544.6 354.2h0M547.1 354.2h0M547.1 352.4h0M547.5 352.4h0M547.5 350.5h0M548.3 350.5h0M548.3 348.7h0M550.3 348.7h0M553.9 348.7h0M553.9 347h0M554.3 347h0M554.3 345.3h0M557.4 345.3h0M557.4 343.7h0M557.8 343.7h0M557.8 342h0M559 342h0M559.4 342h0M559.4 341h0M570.2 341h0M570.2 339.5h0M570.6 339.5h0M570.6 338.1h0M577.3 338.1h0M577.3 336.6h0M581.2 336.6h0M582.4 336.6h0M582.4 335h0M583.2 335h0M583.2 333.3h0M584.9 333.3h0M584.9 331.7h0M585.7 331.7h0M585.7 330h0M589.6 330h0M589.6 328.3h0M593.9 328.3h0M593.9 326.6h0M596.7 326.6h0M597.9 326.6h0M597.9 325.1h0M601.4 325.1h0M601.4 323.7h0M602.6 323.7h0M602.6 322.2h0M603.4 322.2h0M605.8 322.2h0M605.8 320h0M612.2 320h0M613.8 320h0M613.8 318.2h0M614.6 318.2h0M614.6 316.5h0M616.2 316.5h0M616.2 314.8h0M617.4 314.8h0M617.4 313h0M619.8 313h0M619.8 311.2h0M621.8 311.2h0M621.8 309.5h0M624.6 309.5h0M624.6 307.8h0M625 307.8h0M625 306h0M626.6 306h0M626.6 304.2h0M628.2 304.2h0M628.2 302.5h0M631 302.5h0M631 300.8h0M631.4 300.8h0M631.4 299h0M632.6 299h0M632.6 297.3h0M636.6 297.3h0M636.6 295.5h0M641.5 295.5h0M641.5 292h0M642.3 292h0M642.3 290.3h0M644.7 290.3h0M646.3 290.3h0M646.3 288.6h0M648.7 288.6h0M648.7 286.9h0M655 286.9h0M655 283.6h0M655.8 283.6h0M657.4 283.6h0M657.4 279.9h0M662.5 279.9h0M662.5 278.1h0M662.9 278.1h0M662.9 276.3h0M663.3 276.3h0M663.3 274.4h0M665.6 274.4h0M665.6 272.6h0M666.8 272.6h0M668.4 272.6h0M668.4 270.8h0M668.8 270.8h0M668.8 268.9h0M672 268.9h0M672 267h0M675.2 267h0M675.2 265.2h0M676.8 265.2h0M676.8 263.3h0M678.8 263.3h0M678.8 261.5h0M680 261.5h0M681.2 261.5h0M681.2 259.7h0M683.1 259.7h0M683.1 258h0M686.3 258h0M686.3 256.2h0M689.4 256.2h0M689.4 254.5h0M690.6 254.5h0M690.6 252.7h0M691 252.7h0M692.6 252.7h0M692.6 250.5h0M696.1 250.5h0M696.1 248.3h0M702 248.3h0M705.6 248.3h0M705.6 246.4h0M707.2 246.4h0M707.2 244.4h0M708.9 244.4h0M708.9 242.5h0M712.9 242.5h0M712.9 240.5h0M713.3 240.5h0M716 240.5h0M716 238.2h0M717.6 238.2h0M717.6 236h0M724.3 236h0M725.1 236h0M725.1 233.5h0M730 233.5h0M733.2 233.5h0M733.2 231.6h0M736 231.6h0M736 229.7h0M737.3 229.7h0M737.3 225.9h0M743.3 225.9h0M744.5 225.9h0M744.5 223.7h0M753.7 223.7h0M753.7 221.4h0M756.5 221.4h0M763.8 221.4h0M763.8 219.7h0M764.2 219.7h0M764.2 218h0M769.8 218h0M775 218h0M775 214.8h0M783 214.8h0M785.4 214.8h0M785.4 213h0M786.9 213h0M786.9 211.3h0M792.4 211.3h0M792.4 209.5h0M794 209.5h0M794 206h0M795.6 206h0M795.6 204.3h0M796 204.3h0M796 202.6h0M804 202.6h0M804 201h0M805.2 201h0M805.2 199.3h0M807.6 199.3h0M807.6 197.5h0M809.6 197.5h0M809.6 195.8h0M810.8 195.8h0M810.8 194h0M812 194h0M812 192.3h0M813.2 192.3h0M813.2 190.5h0M814 190.5h0M814.4 190.5h0M814.4 188.7h0M814.8 188.7h0M814.8 186.9h0M817.7 186.9h0M817.7 181.6h0M818.5 181.6h0M820.1 181.6h0M820.1 179.4h0M820.9 179.4h0M820.9 177.2h0M827.3 177.2h0M828.1 177.2h0M828.1 175.6h0M835 175.6h0M835 173.9h0M840.6 173.9h0M841.4 173.9h0M841.4 172.1h0M845 172.1h0M845 170.2h0M847.4 170.2h0M847.4 168.4h0M849.4 168.4h0M851.8 168.4h0M851.8 166.2h0M854.2 166.2h0M854.2 163.9h0M859.3 163.9h0M859.3 161.7h0M860.5 161.7h0M862.5 161.7h0M862.5 159.5h0M865.7 159.5h0M865.7 157.2h0M869.7 157.2h0M869.7 155h0M873.7 155h0M886.2 155h0M886.2 152.9h0M887 152.9h0M889.7 152.9h0M889.7 150.9h0M890.5 150.9h0M890.5 149h0M892.5 149h0M892.5 147h0M893.3 147h0M893.3 145h0M898 145h0M903.6 145h0M903.6 143.4h0M904.9 143.4h0M904.9 141.8h0M911.3 141.8h0M911.7 141.8h0M911.7 140h0M918.6 140h0M918.6 136.3h0M924.6 136.3h0M927.4 136.3h0M927.4 134.1h0M930.5 134.1h0M930.5 131.9h0M935.7 131.9h0M936.1 131.9h0M936.1 130h0M939.2 130h0M939.2 128.2h0M941.2 128.2h0M941.2 126.3h0M946.7 126.3h0M955.6 126.3h0M955.6 124.2h0M956.4 124.2h0M956.4 122h0M960 122h0M963.9 122h0M963.9 120.3h0M964.3 120.3h0M964.3 118.6h0M971 118.6h0M980.7 118.6h0M980.7 116.9h0M981.1 116.9h0M981.1 115.3h0M984.3 115.3h0M985.1 115.3h0M985.1 112.9h0M990 112.9h0M994.8 112.9h0M994.8 110.7h0M1000.9 110.7h0M1000.9 108.5h0M1003.3 108.5h0M1004.9 108.5h0M1004.9 106.2h0M1016.5 106.2h0M1016.5 104h0M1019.3 104h0M1019.3 101.8h0M1021.3 101.8h0M1021.3 99.6h0M1029.8 99.6h0M1041.8 99.6h0M1041.8 97.4h0M1042.6 97.4h0M1042.6 95.2h0M1043 95.2h0M1044.2 95.2h0M1044.2 93.6h0M1053.9 93.6h0M1053.9 91.9h0M1056.3 91.9h0M1065.8 91.9h0M1065.8 90.2h0M1067.4 90.2h0M1067.4 88.6h0M1071.8 88.6h0M1081.4 88.6h0M1081.4 86.9h0M1084.2 86.9h0M1084.2 85.2h0M1085 85.2h0M1097.2 85.2h0M1097.2 83h0M1098.4 83h0M1109.6 83h0M1109.6 80.8h0M1111.6 80.8h0M1121.8 80.8h0M1121.8 78.6h0M1125 78.6h0M1136.8 78.6h0M1136.8 76.4h0M1140.4 76.4h0M1146.8 76.4h0M1146.8 74.2h0M1153.6 74.2h0M1165.4 74.2h0M1165.4 72h0M1167 72h0M1168.6 72h0M1168.6 68.7h0M1180 68.7h0M1185.6 68.7h0M1185.6 66.4h0M1193.5 66.4h0M1204.3 66.4h0M1204.3 64.2h0M1206.7 64.2h0M1209.9 64.2h0M1209.9 62h0M1220 62h0M1228.1 62h0M1228.1 59.8h0M1233.3 59.8h0M1240 58.7h0M1242.8 58.7h0M1242.8 57h0M1252 57h0M1260 57h0M1260 53.5h0M1262.4 53.5h0M1262.4 51.4h0M1265.7 51.4h0M1265.7 49.2h0M1271 49.2h0M1291.6 49.2h0M1310.5 48.4h0M1322.6 47.5h0M1327.4 47.5h0M1327.4 45.8h0M1336.3 45.8h0M1363.8 45h0M1366.1 45h0M1366.1 42.4h0M1367.3 42.4h0M1394.8 42h0M1427.3 41.5h0" fill="none" stroke="#d62728" stroke-width="7.30" stroke-linecap="round"/>
</g>
</g>
<rect x="73.55" y="8.10" width="1418.05" height="748.00" fill="none" stroke="#1c1c1c" stroke-width="1.65"/>
<path d="M137.80 756.10v6.23M73.55 721.90h-6.23M395.70 756.10v6.23M73.55 585.88h-6.23M653.60 756.10v6.23M73.55 449.86h-6.23M911.50 756.10v6.23M73.55 313.84h-6.23M1169.40 756.10v6.23M73.55 177.82h-6.23M1427.30 756.10v6.23M73.55 41.80h-6.23" stroke="#1c1c1c" stroke-width="1.65" fill="none"/>
<text x="137.80" y="782.33" text-anchor="middle">0.0</text>
<text x="61.39" y="728.83" text-anchor="end">0.0</text>
<text x="395.70" y="782.33" text-anchor="middle">0.2</text>
<text x="61.39" y="592.81" text-anchor="end">0.2</text>
<text x="653.60" y="782.33" text-anchor="middle">0.4</text>
<text x="61.39" y="456.79" text-anchor="end">0.4</text>
<text x="911.50" y="782.33" text-anchor="middle">0.6</text>
<text x="61.39" y="320.77" text-anchor="end">0.6</text>
<text x="1169.40" y="782.33" text-anchor="middle">0.8</text>
<text x="61.39" y="184.75" text-anchor="end">0.8</text>
<text x="1427.30" y="782.33" text-anchor="middle">1.0</text>
<text x="61.39" y="48.73" text-anchor="end">1.0</text>
<text x="782.57" y="806.40" text-anchor="middle">False Positive Rate</text>
<text transform="translate(21.40 383.10) rotate(-90)" text-anchor="middle">True Positive Rate</text>
<rect x="1102.3" y="394.3" width="380.8" height="353.1" rx="3.5" fill="#fff" fill-opacity="0.8" stroke="#ccc" stroke-opacity="0.8" stroke-width="1.78"/>
<path d="M1109.4 408.6H1144.8" stroke="#ff7f0e" stroke-width="2.67" stroke-linecap="square"/><circle cx="1127.1" cy="408.6" r="3.65" fill="#ff7f0e"/><text x="1159.0" y="415.1">AUC = 0.787 Model = LGB</text>
<path d="M1109.4 435.4H1144.8" stroke="#2ca02c" stroke-width="2.67" stroke-linecap="square"/><circle cx="1127.1" cy="435.4" r="3.65" fill="#2ca02c"/><text x="1159.0" y="441.9">AUC = 0.776 Model = XGB</text>
<path d="M1109.4 462.1H1144.8" stroke="#d62728" stroke-width="2.67" stroke-linecap="square"/><circle cx="1127.1" cy="462.1" r="3.65" fill="#d62728"/><text x="1159.0" y="468.6">AUC = 0.791 Model = CatBoost</text>
<path d="M1109.4 488.9H1144.8" stroke="#9467bd" stroke-width="2.67" stroke-linecap="square"/><circle cx="1127.1" cy="488.9" r="3.65" fill="#9467bd"/><text x="1159.0" y="495.4">AUC = 0.788 Model = RF</text>
<path d="M1109.4 515.6H1144.8" stroke="#8c564b" stroke-width="2.67" stroke-linecap="square"/><circle cx="1127.1" cy="515.6" r="3.65" fill="#8c564b"/><text x="1159.0" y="522.1">AUC = 0.741 Model = SVM</text>
<path d="M1109.4 542.4H1144.8" stroke="#e377c2" stroke-width="2.67" stroke-linecap="square"/><circle cx="1127.1" cy="542.4" r="3.65" fill="#e377c2"/><text x="1159.0" y="548.9">AUC = 0.801 Model = RF_Survival</text>
<path d="M1109.4 569.1H1144.8" stroke="#7f7f7f" stroke-width="2.67" stroke-linecap="square"/><circle cx="1127.1" cy="569.1" r="3.65" fill="#7f7f7f"/><text x="1159.0" y="575.6">AUC = 0.734 Model = Cox</text>
<path d="M1109.4 595.9H1144.8" stroke="#bcbd22" stroke-width="2.67" stroke-linecap="square"/><circle cx="1127.1" cy="595.9" r="3.65" fill="#bcbd22"/><text x="1159.0" y="602.4">AUC = 0.691 Model = AAF</text>
<path d="M1109.4 622.6H1144.8" stroke="#17becf" stroke-width="2.67" stroke-linecap="square"/><circle cx="1127.1" cy="622.6" r="3.65" fill="#17becf"/><text x="1159.0" y="629.1">AUC = 0.735 Model = Weibull_AFT</text>
<path d="M1109.4 649.4H1144.8" stroke="#1f77b4" stroke-width="2.67" stroke-linecap="square"/><circle cx="1127.1" cy="649.4" r="3.65" fill="#1f77b4"/><text x="1159.0" y="655.9">AUC = 0.739 Model = Lasso</text>
<path d="M1109.4 676.1H1144.8" stroke="#ff7f0e" stroke-width="2.67" stroke-linecap="square"/><circle cx="1127.1" cy="676.1" r="3.65" fill="#ff7f0e"/><text x="1159.0" y="682.6">AUC = 0.736 Model = Ridge</text>
<path d="M1109.4 702.9H1144.8" stroke="#2ca02c" stroke-width="2.67" stroke-linecap="square"/><circle cx="1127.1" cy="702.9" r="3.65" fill="#2ca02c"/><text x="1159.0" y="709.4">AUC = 0.776 Model = GBSurvival</text>
<path d="M1109.4 729.6H1144.8" stroke="#d62728" stroke-width="2.67" stroke-linecap="square"/><circle cx="1127.1" cy="729.6" r="3.65" fill="#d62728"/><text x="1159.0" y="736.1">AUC = 0.669 Model = SVM_Survival</text>
</svg>
</body></html>
